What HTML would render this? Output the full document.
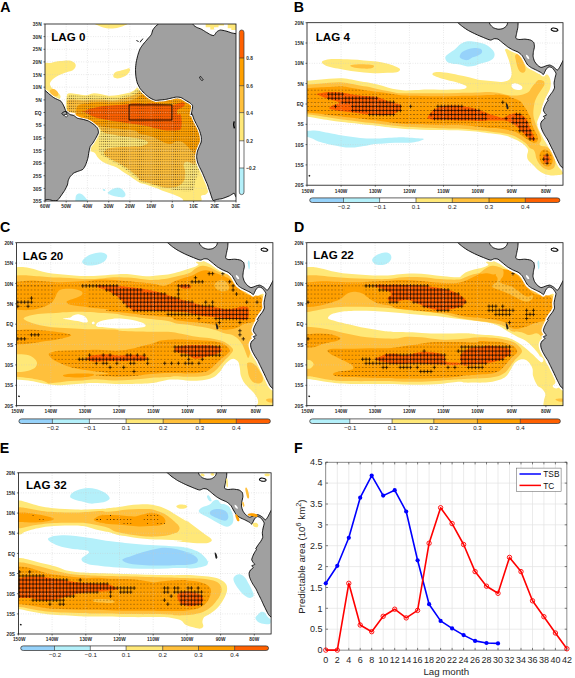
<!DOCTYPE html>
<html><head><meta charset="utf-8"><title>Figure</title>
<style>
html,body{margin:0;padding:0;background:#fff;}
body{width:575px;height:678px;overflow:hidden;font-family:"Liberation Sans",sans-serif;}
svg{display:block;}
svg text{font-family:"Liberation Sans",sans-serif;}
.tk{font-size:6px;font-weight:bold;fill:#2a2a2a;}
.cl{font-size:6.1px;fill:#1a1a1a;}
.lag{font-size:11.6px;font-weight:bold;fill:#000;}
.pl{font-size:14.2px;font-weight:bold;fill:#000;}
.ft{font-size:9px;fill:#262626;}
.lg{font-size:8.3px;fill:#111;}
.fl{font-size:9.7px;fill:#262626;}
.gr{stroke:#c8c8c8;stroke-width:0.5;stroke-dasharray:0.8 1.6;}
.land{fill:#a0a0a0;stroke:#000;stroke-width:0.9;stroke-linejoin:round;}
</style></head><body>
<svg width="575" height="678" viewBox="0 0 575 678">
<defs>
<pattern id="dotA" x="45" y="24" width="2.122" height="2.529" patternUnits="userSpaceOnUse"><rect x="0.55" y="0.75" width="1.0" height="1.0" fill="#3a2a10" fill-opacity="0.75"/></pattern>
</defs>
<rect x="0" y="0" width="575" height="678" fill="#ffffff"/>
<clipPath id="clipA"><rect x="45.0" y="24.0" width="191.0" height="177.0"/></clipPath>
<g clip-path="url(#clipA)">
<path d="M43.7 65.7 C44.9 60.6 48.2 63.7 51 62.9 C53.7 62.2 57 61.5 60.1 61.1 C63.1 60.7 66.8 60.2 69.2 60.5 C71.7 60.8 73.6 61.9 74.7 62.9 C75.8 63.9 75.9 65.3 75.6 66.6 C75.3 67.8 74.2 69.3 72.9 70.2 C71.5 71.1 69.5 71.3 67.4 72 C65.3 72.8 62.4 73.7 60.1 74.8 C57.8 75.8 55.4 77.1 53.7 78.4 C52 79.8 50.4 81.5 50 83 C49.6 84.5 50.6 86 51.3 87.2 C52.1 88.4 53.5 89.3 54.6 90.3 C55.8 91.3 57.3 92 58.3 93 C59.2 94.1 60.5 95.1 60.5 96.3 C60.5 97.6 59.8 100 58.3 100.4 C56.7 100.7 53.4 99.7 51 98.5 C48.5 97.3 44.9 98.5 43.7 93 C42.4 87.6 42.4 70.7 43.7 65.7 Z" fill="#ffe878"/>
<path d="M113.4 74.8 C113.7 73.9 114.6 72.7 115.8 72 C116.9 71.4 118.7 71.2 120.4 70.8 C122 70.3 124.3 69.7 125.8 69.3 C127.4 68.9 128.8 68.1 129.5 68.4 C130.2 68.7 130.2 70.1 129.8 71.1 C129.5 72.1 128.4 73.4 127.3 74.4 C126.2 75.4 124.7 76.3 123.1 77 C121.5 77.6 119.1 78.3 117.6 78.4 C116.1 78.5 114.7 78.1 114 77.5 C113.3 76.9 113.1 75.7 113.4 74.8 Z" fill="#ffe878"/>
<path d="M95.7 22.7 C91.3 23.3 98.4 25.5 100.3 26.4 C102.1 27.3 104.2 27.9 106.7 28.2 C109.1 28.5 112.3 28.5 114.9 28.2 C117.5 27.9 120.2 27.3 122.2 26.4 C124.2 25.5 131.2 23.3 126.7 22.7 C122.3 22.1 100.1 22.1 95.7 22.7 Z" fill="#ffe878"/>
<path d="M205.7 24 L205.7 27.3 L210.3 27.3 L210.3 29.5 L214 29.5 L214 27.3 L218.5 27.3 L218.5 25.5 L224 25.5 L224 24 Z" fill="#ffe878"/>
<path d="M227.7 24 L227.7 28.2 L231.3 28.2 L231.3 30 L236.1 30 L236.1 24 Z" fill="#ffe878"/>
<path d="M65.6 115 C65 114 65.8 108.7 65.9 105.8 C66.1 102.9 66.1 99.7 66.5 97.6 C66.9 95.5 66.6 94 68.3 93.4 C70 92.8 73.6 93.7 76.5 94 C79.4 94.3 82.9 95.3 85.7 95.2 C88.4 95.1 90.5 93.6 93 93.4 C95.4 93.2 97.5 93.6 100.3 94 C103 94.4 106.4 95.6 109.4 95.8 C112.4 95.9 115.5 95.3 118.5 94.9 C121.6 94.4 125.2 93.7 127.7 93 C130.1 92.4 131.6 91.7 133.1 90.9 C134.7 90 135.7 88.5 136.8 87.9 C137.9 87.3 138.2 87.2 139.5 87.2 C140.9 87.2 143.7 87.3 145 87.9 C146.3 88.6 145.1 90.1 147.3 91.2 C149.5 92.4 153.4 94.6 158.3 94.9 C163.1 95.2 170.4 92.7 176.5 93 C182.6 93.4 191.1 93 194.8 96.7 C198.4 100.4 197.5 110.9 198.4 115 C199.3 119 199.3 117.2 200.3 121 C201.2 124.7 203.9 131.6 203.9 137.4 C203.9 143.2 200.6 150.2 200.3 155.7 C200 161.1 201 165.7 202.1 170.3 C203.2 174.8 205.6 179.7 206.7 183 C207.7 186.4 208.6 188.5 208.5 190.4 C208.3 192.2 207 193.5 205.7 194.4 C204.5 195.3 202 194.7 201.2 195.8 C200.3 197 203.2 200.2 200.6 201.3 C198 202.4 188.8 202.7 185.7 202.2 C182.5 201.8 183.5 199.6 182 198.6 C180.5 197.5 178.7 196.7 176.5 195.8 C174.4 194.9 171.7 194 169.2 193.1 C166.8 192.2 164.3 191.3 161.9 190.4 C159.5 189.4 157 188.5 154.6 187.6 C152.2 186.7 149.7 185.6 147.3 184.9 C144.9 184.1 141.4 183.5 140 183 C138.6 182.6 139.8 182.9 138.6 182.1 C137.5 181.4 135 179.7 133.1 178.5 C131.3 177.3 129.5 176 127.7 174.8 C125.8 173.6 124 172.4 122.2 171.2 C120.4 170 118.8 168.6 116.7 167.5 C114.6 166.5 111.7 165.7 109.4 164.8 C107.1 163.9 104.9 163.2 103 162 C101.1 160.9 99.4 159.4 98.1 157.8 C96.7 156.3 96 153.9 94.8 152.9 C93.6 151.9 91.7 152.5 90.8 151.6 C89.9 150.7 88.6 149.8 89.3 147.4 C90 145.1 93.3 140.6 94.8 137.4 C96.3 134.2 100 131.6 98.4 128.3 C96.9 124.9 90.5 120 85.7 117.3 C80.8 114.6 72.6 112.2 69.2 111.8 C65.9 111.4 66.1 116 65.6 115 Z" fill="#ffe878"/>
<path d="M50 90.3 C50.4 89.4 52.5 88.8 53.7 89 C54.9 89.2 56.6 90.6 57.3 91.6 C58.1 92.6 58.6 94.1 58.3 94.9 C58 95.7 56.7 96.4 55.5 96.3 C54.4 96.3 52.2 95.5 51.3 94.5 C50.4 93.5 49.6 91.2 50 90.3 Z" fill="#ffc03c"/>
<path d="M67.4 115 C66.8 113.9 67.3 108.3 67.4 105.8 C67.5 103.4 66.5 101.4 67.8 100.4 C69 99.3 72 99.6 74.7 99.6 C77.4 99.7 80.8 100.5 83.8 100.5 C86.9 100.5 89.9 99.8 93 99.6 C96 99.5 98.7 99.5 102.1 99.6 C105.4 99.8 109.7 100.7 113 100.5 C116.4 100.4 119.1 99.5 122.2 98.7 C125.2 97.9 128.9 96.9 131.3 96 C133.7 95.1 135.3 94.1 136.8 93.2 C138.3 92.3 139.1 90.8 140.4 90.5 C141.8 90.2 143.9 91.2 145 91.6 C146.1 92 145.1 92.2 147.3 93 C149.5 93.9 153.4 96.4 158.3 96.7 C163.1 97 170.4 94.6 176.5 94.9 C182.6 95.2 191.1 95.2 194.8 98.5 C198.4 101.9 197.5 111.2 198.4 115 C199.3 118.7 199.5 117.2 200.3 121 C201 124.7 203.2 132.2 203 137.4 C202.9 142.6 200.4 148.6 199.3 152 C198.3 155.4 197.7 155.7 197 157.8 C196.2 160 195.7 163.9 194.8 164.8 C193.9 165.7 192.9 163.9 191.5 163.3 C190.1 162.8 187.9 161.3 186.6 161.5 C185.2 161.7 183.7 163.3 183.5 164.8 C183.2 166.2 184.7 168.1 184.9 170.3 C185.2 172.4 185.3 175.4 184.9 177.6 C184.5 179.7 183.8 181.5 182.4 183 C181 184.6 179 185.9 176.5 186.7 C174 187.5 170.4 187.9 167.4 187.8 C164.3 187.6 161.3 186.6 158.3 185.8 C155.2 185 152.2 184 149.1 183 C146.1 182.1 141.8 181.2 140 180.3 C138.2 179.4 139.8 178.8 138.6 177.6 C137.5 176.4 135 174.5 133.1 173 C131.3 171.5 129.8 170 127.7 168.4 C125.5 166.9 122.8 165.2 120.4 163.9 C117.9 162.5 115.3 161.4 113 160.2 C110.8 159 108.2 157.9 106.7 156.6 C105.1 155.3 103.8 153.7 103.9 152.4 C104 151.1 105.5 149.5 107.2 148.7 C108.9 147.9 110.5 147.8 114 147.4 C117.4 147.1 123.2 146.9 127.8 146.7 C132.5 146.5 138.3 146.7 141.7 146 C145.1 145.3 148.1 143.6 148.1 142.5 C148.1 141.4 145.1 140.1 141.7 139.2 C138.3 138.3 132.5 137.8 127.8 137 C123.2 136.3 118.1 135.7 114 134.8 C109.8 134 105.5 133.2 103 131.9 C100.5 130.7 101.7 129.8 98.8 127.3 C95.9 124.9 90.3 119.8 85.7 117.3 C81 114.8 74.1 112.6 71 112.2 C68 111.8 68 116 67.4 115 Z" fill="#ffc03c"/>
<path d="M75.6 115 C76.2 113.7 75.8 108.1 77.4 106.2 C79.1 104.2 82.8 103.9 85.7 103.3 C88.5 102.6 91.7 102.5 94.8 102.4 C97.8 102.2 100.3 102.4 103.9 102.4 C107.6 102.4 113 102.5 116.7 102.4 C120.4 102.2 122.8 102.1 125.8 101.4 C128.9 100.8 132.5 99.7 135 98.7 C137.4 97.7 138.8 96 140.4 95.2 C142.1 94.4 143.9 94 145 94 C146.1 93.9 145.1 94.1 147.3 94.9 C149.5 95.6 153.4 98.2 158.3 98.5 C163.1 98.8 170.4 96.4 176.5 96.7 C182.6 97 191.1 97.3 194.8 100.4 C198.4 103.4 197.5 111.5 198.4 115 C199.3 118.4 199.5 117.2 200.3 121 C201 124.7 203.1 132.7 203 137.4 C202.9 142.1 201 146.2 199.9 149.3 C198.8 152.4 197.9 155.7 196.6 156 C195.3 156.3 193.6 152.7 192 151.1 C190.5 149.5 189.1 148 187.5 146.5 C185.9 145 184.2 143.1 182.4 142.1 C180.5 141.2 178.4 140.7 176.5 141 C174.6 141.3 172.9 143.6 171 144 C169.2 144.3 167.7 143.8 165.6 143.1 C163.4 142.3 161 140.6 158.3 139.4 C155.5 138.2 152.2 136.6 149.1 135.7 C146.1 134.9 142.4 135 140 134.1 C137.6 133.2 137.6 131.2 135 130.5 C132.3 129.7 127.7 129.7 124 129.4 C120.4 129 116.7 128.7 113 128.3 C109.4 127.8 105.4 127.2 102.1 126.4 C98.7 125.7 95.7 124.8 93 123.7 C90.2 122.6 88.1 121.3 85.7 120 C83.2 118.8 80.3 117.4 78.3 116.4 C76.4 115.4 74.2 114.3 73.8 114 C73.3 113.8 75 116.3 75.6 115 Z" fill="#ffa000"/>
<path d="M83.5 112.2 C84.3 112.1 86 110.2 87.8 109.5 C89.7 108.7 92.1 108.2 94.8 107.7 C97.5 107.1 100.3 106.4 103.9 106 C107.6 105.6 112.7 105.4 116.7 105.1 C120.7 104.8 124.6 104.5 127.7 104.2 C130.7 103.9 132.1 103.3 135 103.3 C137.9 103.2 142.3 104 145 104 C147.7 104 148.1 103.2 151 103.3 C153.8 103.3 158.4 103.9 161.9 104.2 C165.4 104.5 169.2 105.3 172 105.1 C174.7 104.9 176.5 103.8 178.3 103.3 C180.2 102.8 181.8 101.9 182.9 102.2 C184 102.4 185.1 103.8 184.9 104.7 C184.7 105.6 183 106.7 181.6 107.7 C180.3 108.6 177.5 109.2 176.9 110.4 C176.3 111.6 177.4 114.4 178 115 C178.5 115.5 179.6 112.8 180.2 113.7 C180.8 114.5 181.5 117.8 181.6 120 C181.8 122.3 181.7 125.7 181.3 127.3 C180.9 129 181 129.6 179.3 130.1 C177.6 130.6 173.8 130.5 171 130.5 C168.3 130.4 165.2 130.3 162.6 129.9 C160.1 129.5 157.8 128.8 155.5 128.3 C153.2 127.7 151.4 127 148.8 126.4 C146.2 125.9 142.3 125.3 140 125 C137.7 124.6 137.6 124.7 135 124.2 C132.3 123.8 127.7 122.9 124 122.4 C120.4 121.9 116.7 121.7 113 121.1 C109.4 120.6 105.4 119.9 102.1 119.1 C98.7 118.3 95.5 117.4 93 116.4 C90.4 115.4 88.2 114.3 86.6 113.3 C84.9 112.3 83.4 110.5 82.9 110.4 C82.4 110.2 82.6 112.4 83.5 112.2 Z" fill="#ff6000"/>
<path d="M107.6 193.1 C107.3 192.2 109.1 191.2 110.3 190.4 C111.5 189.5 113.2 188.5 114.9 188.2 C116.5 187.8 118.8 187.6 120.4 188.2 C121.9 188.7 123.2 190.1 124 191.3 C124.9 192.4 125.6 193.9 125.5 194.9 C125.3 195.9 124.4 197 123.1 197.3 C121.8 197.6 119.4 197 117.6 196.7 C115.8 196.4 113.8 196.1 112.1 195.5 C110.5 194.9 107.9 193.9 107.6 193.1 Z" fill="#b4f0fa"/>
<path d="M75.6 197.7 C75.6 196.4 75.9 195.6 76.5 194.9 C77.1 194.2 78.2 193.6 79.3 193.6 C80.3 193.6 81.8 194.2 82.9 194.9 C84 195.6 85 197 85.7 198 C86.4 199.1 88.6 200.6 87.1 201.3 C85.6 202 78.4 202.8 76.5 202.2 C74.6 201.6 75.6 198.9 75.6 197.7 Z" fill="#b4f0fa"/>
<path d="M102.6 189.6 C102.7 189.3 103.8 188.8 104.3 188.9 C104.7 189 105.4 190 105.4 190.4 C105.3 190.7 104.4 191.2 103.9 191.1 C103.5 191 102.6 190 102.6 189.6 Z" fill="#b4f0fa"/>
<clipPath id="stA"><path d="M67.4 115 C66.8 113.9 67.3 108.9 67.4 105.8 C67.5 102.7 66.2 98.1 67.8 96.3 C69.3 94.6 73.5 95.2 76.5 95.2 C79.5 95.2 82.9 96.3 85.7 96.3 C88.4 96.3 90.2 95.2 93 95.2 C95.7 95.2 98.7 96 102.1 96.3 C105.4 96.6 109.7 97.1 113 97.1 C116.4 97.1 119.1 96.9 122.2 96.3 C125.2 95.7 128.9 94.6 131.3 93.4 C133.7 92.3 134.5 90.1 136.8 89.4 C139.1 88.7 143.3 89.1 145 89.4 C146.8 89.7 145.1 90.3 147.3 91.2 C149.5 92.1 153.4 94.6 158.3 94.9 C163.1 95.2 170.4 92.7 176.5 93 C182.6 93.4 191.1 93 194.8 96.7 C198.4 100.4 197.5 110.9 198.4 115 C199.3 119 199.5 117.2 200.3 121 C201 124.7 203.2 132.2 203 137.4 C202.9 142.6 200.2 147.7 199.3 152 C198.5 156.3 198.2 159.6 198.1 163 C198 166.3 199.3 168.7 198.8 172.1 C198.3 175.4 195.8 180 194.8 183 C193.8 186.1 195.1 189 193 190.4 C190.8 191.7 186.3 191.6 182 191.3 C177.7 191 171.3 189.3 167.4 188.5 C163.4 187.8 161.3 187.5 158.3 186.7 C155.2 185.9 152.2 184.8 149.1 184 C146.1 183.1 141.8 182.3 140 181.6 C138.2 180.8 139.8 180.4 138.6 179.4 C137.5 178.4 135 176.7 133.1 175.4 C131.3 174 129.8 172.8 127.7 171.2 C125.5 169.6 122.8 167.2 120.4 165.7 C117.9 164.2 115.3 163.4 113 162 C110.8 160.7 108.6 159.1 106.7 157.8 C104.7 156.6 102.5 156.2 101.2 154.7 C99.9 153.3 99.1 152.2 98.8 149.3 C98.5 146.4 99.3 141 99.3 137.4 C99.3 133.7 101.1 130.7 98.8 127.3 C96.5 124 90.3 119.8 85.7 117.3 C81 114.8 74.1 112.6 71 112.2 C68 111.8 68 116 67.4 115 Z"/></clipPath>
<rect x="45.0" y="24.0" width="191.0" height="177.0" fill="url(#dotA)" clip-path="url(#stA)"/>
<line x1="66.2" y1="24.0" x2="66.2" y2="201.0" class="gr"/>
<line x1="87.4" y1="24.0" x2="87.4" y2="201.0" class="gr"/>
<line x1="108.7" y1="24.0" x2="108.7" y2="201.0" class="gr"/>
<line x1="129.9" y1="24.0" x2="129.9" y2="201.0" class="gr"/>
<line x1="151.1" y1="24.0" x2="151.1" y2="201.0" class="gr"/>
<line x1="172.3" y1="24.0" x2="172.3" y2="201.0" class="gr"/>
<line x1="193.6" y1="24.0" x2="193.6" y2="201.0" class="gr"/>
<line x1="214.8" y1="24.0" x2="214.8" y2="201.0" class="gr"/>
<line x1="45.0" y1="36.6" x2="236.0" y2="36.6" class="gr"/>
<line x1="45.0" y1="49.3" x2="236.0" y2="49.3" class="gr"/>
<line x1="45.0" y1="61.9" x2="236.0" y2="61.9" class="gr"/>
<line x1="45.0" y1="74.6" x2="236.0" y2="74.6" class="gr"/>
<line x1="45.0" y1="87.2" x2="236.0" y2="87.2" class="gr"/>
<line x1="45.0" y1="99.9" x2="236.0" y2="99.9" class="gr"/>
<line x1="45.0" y1="112.5" x2="236.0" y2="112.5" class="gr"/>
<line x1="45.0" y1="125.1" x2="236.0" y2="125.1" class="gr"/>
<line x1="45.0" y1="137.8" x2="236.0" y2="137.8" class="gr"/>
<line x1="45.0" y1="150.4" x2="236.0" y2="150.4" class="gr"/>
<line x1="45.0" y1="163.1" x2="236.0" y2="163.1" class="gr"/>
<line x1="45.0" y1="175.7" x2="236.0" y2="175.7" class="gr"/>
<line x1="45.0" y1="188.4" x2="236.0" y2="188.4" class="gr"/>
<path d="M43.7 89.4 C44.5 89.3 44.4 89.9 44.9 90.3 C45.5 90.8 48.3 93.2 49.1 94 C50 94.7 52.9 97.1 53.7 97.6 C54.5 98.2 56.6 99.1 57.3 99.4 C58.1 99.8 60.4 100.6 61 101.3 C61.6 101.9 63.3 104.9 63.7 105.8 C64.2 106.7 65.2 109.6 65.6 110.4 C65.9 111.2 67.2 113.6 67 114 C66.8 114.5 63.9 115.2 63.4 115.1 C62.9 115 61.8 113.7 61.9 113.3 C62 112.9 64.1 111.6 64.7 111.5 C65.2 111.4 66.8 111.9 67.4 112.2 C67.9 112.5 69.5 114.2 70.1 114.6 C70.8 114.9 73.1 115.1 73.8 115.5 C74.5 115.8 76.6 117.9 77.4 118.2 C78.3 118.6 80.9 118.9 82 119.1 C83.1 119.4 87.2 120.4 88.4 121 C89.6 121.5 93 123.9 93.9 124.6 C94.8 125.3 97.1 127.4 97.5 128.3 C98 129.1 98.6 131.8 98.4 132.8 C98.3 133.8 96.2 137.3 95.7 138.3 C95.1 139.3 93.5 142 93 142.9 C92.4 143.7 90.6 145.6 90.2 146.5 C89.8 147.4 89.2 150.8 88.9 152 C88.7 153.2 88.2 157.1 87.8 158.4 C87.5 159.7 86.1 163.7 85.7 164.8 C85.2 165.9 83.6 168.7 82.9 169.3 C82.2 170 79.3 170.8 78.3 171.2 C77.4 171.5 74.6 172.5 73.8 173 C73 173.6 70.7 175.9 70.1 176.7 C69.6 177.4 68.6 179.5 68.3 180.3 C68 181.1 67.8 183.9 67.4 184.9 C67 185.9 65.3 189.3 64.7 190.4 C64 191.4 61.7 194.8 61 195.8 C60.3 196.8 58.1 199.9 57.3 200.4 C56.6 200.9 54.6 200.9 53.7 200.8 C52.8 200.7 49.2 199.5 48.2 199.5 C47.2 199.5 44.1 200.2 43.7 200.8 C43.2 201.3 44.4 204.5 43.7 205 C42.9 205.4 37.1 216.3 36.3 205 C35.6 193.6 35.6 103.3 36.3 91.7 C37.1 80.2 42.8 89.5 43.7 89.4 Z" fill="none" stroke="#fff" stroke-width="2.6" stroke-linejoin="round"/>
<path d="M43.7 89.4 C44.5 89.3 44.4 89.9 44.9 90.3 C45.5 90.8 48.3 93.2 49.1 94 C50 94.7 52.9 97.1 53.7 97.6 C54.5 98.2 56.6 99.1 57.3 99.4 C58.1 99.8 60.4 100.6 61 101.3 C61.6 101.9 63.3 104.9 63.7 105.8 C64.2 106.7 65.2 109.6 65.6 110.4 C65.9 111.2 67.2 113.6 67 114 C66.8 114.5 63.9 115.2 63.4 115.1 C62.9 115 61.8 113.7 61.9 113.3 C62 112.9 64.1 111.6 64.7 111.5 C65.2 111.4 66.8 111.9 67.4 112.2 C67.9 112.5 69.5 114.2 70.1 114.6 C70.8 114.9 73.1 115.1 73.8 115.5 C74.5 115.8 76.6 117.9 77.4 118.2 C78.3 118.6 80.9 118.9 82 119.1 C83.1 119.4 87.2 120.4 88.4 121 C89.6 121.5 93 123.9 93.9 124.6 C94.8 125.3 97.1 127.4 97.5 128.3 C98 129.1 98.6 131.8 98.4 132.8 C98.3 133.8 96.2 137.3 95.7 138.3 C95.1 139.3 93.5 142 93 142.9 C92.4 143.7 90.6 145.6 90.2 146.5 C89.8 147.4 89.2 150.8 88.9 152 C88.7 153.2 88.2 157.1 87.8 158.4 C87.5 159.7 86.1 163.7 85.7 164.8 C85.2 165.9 83.6 168.7 82.9 169.3 C82.2 170 79.3 170.8 78.3 171.2 C77.4 171.5 74.6 172.5 73.8 173 C73 173.6 70.7 175.9 70.1 176.7 C69.6 177.4 68.6 179.5 68.3 180.3 C68 181.1 67.8 183.9 67.4 184.9 C67 185.9 65.3 189.3 64.7 190.4 C64 191.4 61.7 194.8 61 195.8 C60.3 196.8 58.1 199.9 57.3 200.4 C56.6 200.9 54.6 200.9 53.7 200.8 C52.8 200.7 49.2 199.5 48.2 199.5 C47.2 199.5 44.1 200.2 43.7 200.8 C43.2 201.3 44.4 204.5 43.7 205 C42.9 205.4 37.1 216.3 36.3 205 C35.6 193.6 35.6 103.3 36.3 91.7 C37.1 80.2 42.8 89.5 43.7 89.4 Z" class="land"/>
<path d="M158.3 22.7 C154.8 23 158.5 23.7 158.3 24 C158 24.4 156.1 25.8 155.5 26.4 C155 27 153.2 29.2 152.8 30 C152.4 30.9 151.8 33.8 151.3 34.6 C150.9 35.4 148.8 37.6 148.2 38.3 C147.6 39 146 41 145.5 41.5 C145 42.1 143.7 43.5 143.3 44.1 C142.8 44.7 141.3 46.8 140.9 47.4 C140.5 48 139.8 49.3 139.5 50.1 C139.2 51 138 54.4 137.7 55.6 C137.4 56.8 136.5 60.6 136.2 62 C136 63.4 135.5 67.8 135.5 69.3 C135.5 70.8 135.7 75.2 135.9 76.6 C136.1 78 136.9 81.8 137.3 83 C137.8 84.2 139.5 87.6 140.1 88.5 C140.7 89.4 142.9 91.8 143.2 92.1 C143.4 92.4 142.4 91.3 142.7 91.6 C143.1 91.9 145.6 94.5 146.4 95.2 C147.2 95.9 150 98 151 98.5 C151.9 99 154.6 100.2 155.5 100.4 C156.4 100.5 159.1 100.1 160.1 100 C161.1 99.9 164.5 99.6 165.6 99.4 C166.7 99.3 169.9 98.4 171 98.2 C172.1 97.9 175.5 97.1 176.5 97.1 C177.5 97 180.2 97.3 181.1 97.6 C182 97.9 184.7 99.8 185.7 100.4 C186.6 100.9 189.5 102.5 190.2 103.1 C190.9 103.6 192.4 105.1 192.6 105.8 C192.8 106.6 192.2 109.5 192 110.4 C191.9 111.3 191.1 114.6 191.1 115 C191.1 115.3 191.8 113.2 192 113.7 C192.3 114.1 193.4 118 193.9 119.1 C194.3 120.2 196.1 123.5 196.6 124.6 C197.2 125.7 198.9 128.9 199.3 130.1 C199.8 131.3 201 135.3 201.2 136.5 C201.4 137.7 201.4 141 201.2 142 C201 143 199.7 145.6 199.3 146.5 C199 147.4 197.8 150.1 197.5 151.1 C197.2 152.1 196.6 155.5 196.6 156.6 C196.6 157.7 197.2 161 197.5 162 C197.8 163 198.9 165.6 199.3 166.6 C199.8 167.6 201.5 170.9 202.1 172.1 C202.6 173.3 204.3 177.2 204.8 178.5 C205.4 179.8 207.1 183.7 207.6 184.9 C208 186.1 209 189.3 209.4 190.4 C209.8 191.4 210.9 194.8 211.2 195.8 C211.6 196.8 212.5 200 213 200.4 C213.6 200.8 215.8 199.7 216.7 199.5 C217.6 199.3 220.9 198.9 222.2 198.6 C223.5 198.2 228.3 196.4 229.5 195.8 C230.7 195.3 233.2 193.5 234 193.1 C234.9 192.7 236.9 204 237.7 192.2 C238.5 180.3 242.3 90.6 242.3 74.8 C242.3 59 238.3 38 237.7 33.9 C237.1 29.8 236.5 33.8 235.9 33.7 C235.2 33.6 232.3 33.1 231.3 32.8 C230.3 32.5 226.9 31.2 225.8 31 C224.7 30.7 221.3 30 220.4 30 C219.4 30.1 217.3 31.3 216.7 31.9 C216.1 32.4 214.6 35.2 214 35.5 C213.3 35.8 211.1 35 210.3 34.6 C209.5 34.2 206.7 32.4 205.7 31.9 C204.8 31.3 202.1 29.6 201.2 29.1 C200.3 28.7 197.3 27.7 196.6 27.3 C195.9 26.9 194.2 25.8 193.9 25.5 C193.5 25.1 193 24.4 193 24 C192.9 23.7 196.4 22 193 21.8 C189.5 21.7 161.7 22.5 158.3 22.7 Z" fill="none" stroke="#fff" stroke-width="3.0" stroke-linejoin="round"/>
<path d="M158.3 22.7 C154.8 23 158.5 23.7 158.3 24 C158 24.4 156.1 25.8 155.5 26.4 C155 27 153.2 29.2 152.8 30 C152.4 30.9 151.8 33.8 151.3 34.6 C150.9 35.4 148.8 37.6 148.2 38.3 C147.6 39 146 41 145.5 41.5 C145 42.1 143.7 43.5 143.3 44.1 C142.8 44.7 141.3 46.8 140.9 47.4 C140.5 48 139.8 49.3 139.5 50.1 C139.2 51 138 54.4 137.7 55.6 C137.4 56.8 136.5 60.6 136.2 62 C136 63.4 135.5 67.8 135.5 69.3 C135.5 70.8 135.7 75.2 135.9 76.6 C136.1 78 136.9 81.8 137.3 83 C137.8 84.2 139.5 87.6 140.1 88.5 C140.7 89.4 142.9 91.8 143.2 92.1 C143.4 92.4 142.4 91.3 142.7 91.6 C143.1 91.9 145.6 94.5 146.4 95.2 C147.2 95.9 150 98 151 98.5 C151.9 99 154.6 100.2 155.5 100.4 C156.4 100.5 159.1 100.1 160.1 100 C161.1 99.9 164.5 99.6 165.6 99.4 C166.7 99.3 169.9 98.4 171 98.2 C172.1 97.9 175.5 97.1 176.5 97.1 C177.5 97 180.2 97.3 181.1 97.6 C182 97.9 184.7 99.8 185.7 100.4 C186.6 100.9 189.5 102.5 190.2 103.1 C190.9 103.6 192.4 105.1 192.6 105.8 C192.8 106.6 192.2 109.5 192 110.4 C191.9 111.3 191.1 114.6 191.1 115 C191.1 115.3 191.8 113.2 192 113.7 C192.3 114.1 193.4 118 193.9 119.1 C194.3 120.2 196.1 123.5 196.6 124.6 C197.2 125.7 198.9 128.9 199.3 130.1 C199.8 131.3 201 135.3 201.2 136.5 C201.4 137.7 201.4 141 201.2 142 C201 143 199.7 145.6 199.3 146.5 C199 147.4 197.8 150.1 197.5 151.1 C197.2 152.1 196.6 155.5 196.6 156.6 C196.6 157.7 197.2 161 197.5 162 C197.8 163 198.9 165.6 199.3 166.6 C199.8 167.6 201.5 170.9 202.1 172.1 C202.6 173.3 204.3 177.2 204.8 178.5 C205.4 179.8 207.1 183.7 207.6 184.9 C208 186.1 209 189.3 209.4 190.4 C209.8 191.4 210.9 194.8 211.2 195.8 C211.6 196.8 212.5 200 213 200.4 C213.6 200.8 215.8 199.7 216.7 199.5 C217.6 199.3 220.9 198.9 222.2 198.6 C223.5 198.2 228.3 196.4 229.5 195.8 C230.7 195.3 233.2 193.5 234 193.1 C234.9 192.7 236.9 204 237.7 192.2 C238.5 180.3 242.3 90.6 242.3 74.8 C242.3 59 238.3 38 237.7 33.9 C237.1 29.8 236.5 33.8 235.9 33.7 C235.2 33.6 232.3 33.1 231.3 32.8 C230.3 32.5 226.9 31.2 225.8 31 C224.7 30.7 221.3 30 220.4 30 C219.4 30.1 217.3 31.3 216.7 31.9 C216.1 32.4 214.6 35.2 214 35.5 C213.3 35.8 211.1 35 210.3 34.6 C209.5 34.2 206.7 32.4 205.7 31.9 C204.8 31.3 202.1 29.6 201.2 29.1 C200.3 28.7 197.3 27.7 196.6 27.3 C195.9 26.9 194.2 25.8 193.9 25.5 C193.5 25.1 193 24.4 193 24 C192.9 23.7 196.4 22 193 21.8 C189.5 21.7 161.7 22.5 158.3 22.7 Z" class="land"/>
<path d="M199.5 77 C199.6 76.5 200.6 76.4 201 76.6 C201.4 76.9 201.7 77.9 202.1 78.4 C202.5 78.9 203.2 79.2 203.2 79.5 C203.2 79.9 202.5 80.6 202.1 80.6 C201.7 80.6 201.1 80.1 200.6 79.5 C200.2 78.9 199.5 77.5 199.5 77 Z" fill="none" stroke="#000" stroke-width="0.7"/>
<path d="M234.2 121.3 C234.1 121.9 233.7 123.5 233.7 124.6 C233.7 125.8 234.3 127.7 234.4 128.3" fill="none" stroke="#000" stroke-width="1.4"/>
<path d="M136.4 40.5 L138.6 41.5" fill="none" stroke="#000" stroke-width="0.9"/>
<path d="M140.1 42.3 L141.5 40.1" fill="none" stroke="#000" stroke-width="0.9"/>
<path d="M141.5 40.5 L142.9 38.6" fill="none" stroke="#000" stroke-width="0.9"/>
<path d="M64.5 115.1 C64.6 114.7 65.2 114.4 65.7 114.4 C66.3 114.4 67.5 114.9 67.8 115.3 C68 115.7 67.5 116.5 67 116.8 C66.6 117 65.6 116.8 65.2 116.6 C64.8 116.3 64.4 115.5 64.5 115.1 Z" fill="#fff" stroke="#000" stroke-width="0.6"/>
</g>
<rect x="129.1" y="104.9" width="42.8" height="15.1" fill="none" stroke="#000" stroke-width="0.9"/>
<rect x="45.0" y="24.0" width="191.0" height="177.0" fill="none" stroke="#111" stroke-width="0.8"/>
<text transform="translate(41.6 26.1) scale(0.8 1)" class="tk" text-anchor="end">35N</text>
<line x1="43.5" y1="24" x2="45.0" y2="24" stroke="#111" stroke-width="0.6"/>
<text transform="translate(41.6 38.7) scale(0.8 1)" class="tk" text-anchor="end">30N</text>
<line x1="43.5" y1="36.6" x2="45.0" y2="36.6" stroke="#111" stroke-width="0.6"/>
<text transform="translate(41.6 51.4) scale(0.8 1)" class="tk" text-anchor="end">25N</text>
<line x1="43.5" y1="49.3" x2="45.0" y2="49.3" stroke="#111" stroke-width="0.6"/>
<text transform="translate(41.6 64) scale(0.8 1)" class="tk" text-anchor="end">20N</text>
<line x1="43.5" y1="61.9" x2="45.0" y2="61.9" stroke="#111" stroke-width="0.6"/>
<text transform="translate(41.6 76.7) scale(0.8 1)" class="tk" text-anchor="end">15N</text>
<line x1="43.5" y1="74.6" x2="45.0" y2="74.6" stroke="#111" stroke-width="0.6"/>
<text transform="translate(41.6 89.3) scale(0.8 1)" class="tk" text-anchor="end">10N</text>
<line x1="43.5" y1="87.2" x2="45.0" y2="87.2" stroke="#111" stroke-width="0.6"/>
<text transform="translate(41.6 102) scale(0.8 1)" class="tk" text-anchor="end">5N</text>
<line x1="43.5" y1="99.9" x2="45.0" y2="99.9" stroke="#111" stroke-width="0.6"/>
<text transform="translate(41.6 114.6) scale(0.8 1)" class="tk" text-anchor="end">EQ</text>
<line x1="43.5" y1="112.5" x2="45.0" y2="112.5" stroke="#111" stroke-width="0.6"/>
<text transform="translate(41.6 127.2) scale(0.8 1)" class="tk" text-anchor="end">5S</text>
<line x1="43.5" y1="125.1" x2="45.0" y2="125.1" stroke="#111" stroke-width="0.6"/>
<text transform="translate(41.6 139.9) scale(0.8 1)" class="tk" text-anchor="end">10S</text>
<line x1="43.5" y1="137.8" x2="45.0" y2="137.8" stroke="#111" stroke-width="0.6"/>
<text transform="translate(41.6 152.5) scale(0.8 1)" class="tk" text-anchor="end">15S</text>
<line x1="43.5" y1="150.4" x2="45.0" y2="150.4" stroke="#111" stroke-width="0.6"/>
<text transform="translate(41.6 165.2) scale(0.8 1)" class="tk" text-anchor="end">20S</text>
<line x1="43.5" y1="163.1" x2="45.0" y2="163.1" stroke="#111" stroke-width="0.6"/>
<text transform="translate(41.6 177.8) scale(0.8 1)" class="tk" text-anchor="end">25S</text>
<line x1="43.5" y1="175.7" x2="45.0" y2="175.7" stroke="#111" stroke-width="0.6"/>
<text transform="translate(41.6 190.5) scale(0.8 1)" class="tk" text-anchor="end">30S</text>
<line x1="43.5" y1="188.4" x2="45.0" y2="188.4" stroke="#111" stroke-width="0.6"/>
<text transform="translate(41.6 203.1) scale(0.8 1)" class="tk" text-anchor="end">35S</text>
<line x1="43.5" y1="201" x2="45.0" y2="201" stroke="#111" stroke-width="0.6"/>
<text transform="translate(45 208) scale(0.8 1)" class="tk" text-anchor="middle">60W</text>
<line x1="45" y1="201.0" x2="45" y2="202.5" stroke="#111" stroke-width="0.6"/>
<text transform="translate(66.2 208) scale(0.8 1)" class="tk" text-anchor="middle">50W</text>
<line x1="66.2" y1="201.0" x2="66.2" y2="202.5" stroke="#111" stroke-width="0.6"/>
<text transform="translate(87.4 208) scale(0.8 1)" class="tk" text-anchor="middle">40W</text>
<line x1="87.4" y1="201.0" x2="87.4" y2="202.5" stroke="#111" stroke-width="0.6"/>
<text transform="translate(108.7 208) scale(0.8 1)" class="tk" text-anchor="middle">30W</text>
<line x1="108.7" y1="201.0" x2="108.7" y2="202.5" stroke="#111" stroke-width="0.6"/>
<text transform="translate(129.9 208) scale(0.8 1)" class="tk" text-anchor="middle">20W</text>
<line x1="129.9" y1="201.0" x2="129.9" y2="202.5" stroke="#111" stroke-width="0.6"/>
<text transform="translate(151.1 208) scale(0.8 1)" class="tk" text-anchor="middle">10W</text>
<line x1="151.1" y1="201.0" x2="151.1" y2="202.5" stroke="#111" stroke-width="0.6"/>
<text transform="translate(172.3 208) scale(0.8 1)" class="tk" text-anchor="middle">0</text>
<line x1="172.3" y1="201.0" x2="172.3" y2="202.5" stroke="#111" stroke-width="0.6"/>
<text transform="translate(193.6 208) scale(0.8 1)" class="tk" text-anchor="middle">10E</text>
<line x1="193.6" y1="201.0" x2="193.6" y2="202.5" stroke="#111" stroke-width="0.6"/>
<text transform="translate(214.8 208) scale(0.8 1)" class="tk" text-anchor="middle">20E</text>
<line x1="214.8" y1="201.0" x2="214.8" y2="202.5" stroke="#111" stroke-width="0.6"/>
<text transform="translate(236 208) scale(0.8 1)" class="tk" text-anchor="middle">30E</text>
<line x1="236" y1="201.0" x2="236" y2="202.5" stroke="#111" stroke-width="0.6"/>
<text x="51.2" y="41.1" class="lag">LAG 0</text>
<text x="0.2" y="12.3" class="pl">A</text>
<clipPath id="cbA"><rect x="239.3" y="30" width="4.699999999999989" height="164.6" rx="2.2" ry="2.5"/></clipPath>
<g clip-path="url(#cbA)">
<rect x="239.3" y="30" width="4.699999999999989" height="28" fill="#ff6000"/>
<rect x="239.3" y="58" width="4.699999999999989" height="27.700000000000003" fill="#ffa000"/>
<rect x="239.3" y="85.7" width="4.699999999999989" height="26.89999999999999" fill="#ffc03c"/>
<rect x="239.3" y="112.6" width="4.699999999999989" height="28.200000000000017" fill="#ffe878"/>
<rect x="239.3" y="140.8" width="4.699999999999989" height="27.19999999999999" fill="#ffffff"/>
<rect x="239.3" y="168" width="4.699999999999989" height="26.599999999999994" fill="#b4f0fa"/>
</g>
<rect x="239.3" y="30" width="4.699999999999989" height="164.6" rx="2.2" ry="2.5" fill="none" stroke="#333" stroke-width="0.7"/>
<line x1="239.3" y1="58" x2="244.0" y2="58" stroke="#222" stroke-width="0.6"/>
<text transform="translate(246.2 60.1) scale(0.8 1)" class="tk">0.8</text>
<line x1="239.3" y1="85.7" x2="244.0" y2="85.7" stroke="#222" stroke-width="0.6"/>
<text transform="translate(246.2 87.8) scale(0.8 1)" class="tk">0.6</text>
<line x1="239.3" y1="112.6" x2="244.0" y2="112.6" stroke="#222" stroke-width="0.6"/>
<text transform="translate(246.2 114.7) scale(0.8 1)" class="tk">0.4</text>
<line x1="239.3" y1="140.8" x2="244.0" y2="140.8" stroke="#222" stroke-width="0.6"/>
<text transform="translate(246.2 142.9) scale(0.8 1)" class="tk">0.2</text>
<line x1="239.3" y1="168" x2="244.0" y2="168" stroke="#222" stroke-width="0.6"/>
<text transform="translate(246.2 170.1) scale(0.8 1)" class="tk">−0.2</text>
<rect x="325.8" y="462.2" width="241.1" height="187.9" fill="#fff"/>
<line x1="337.3" y1="462.2" x2="337.3" y2="650.1" stroke="#e2e2e2" stroke-width="0.7"/>
<line x1="348.8" y1="462.2" x2="348.8" y2="650.1" stroke="#e2e2e2" stroke-width="0.7"/>
<line x1="360.2" y1="462.2" x2="360.2" y2="650.1" stroke="#e2e2e2" stroke-width="0.7"/>
<line x1="371.7" y1="462.2" x2="371.7" y2="650.1" stroke="#e2e2e2" stroke-width="0.7"/>
<line x1="383.2" y1="462.2" x2="383.2" y2="650.1" stroke="#e2e2e2" stroke-width="0.7"/>
<line x1="394.7" y1="462.2" x2="394.7" y2="650.1" stroke="#e2e2e2" stroke-width="0.7"/>
<line x1="406.2" y1="462.2" x2="406.2" y2="650.1" stroke="#e2e2e2" stroke-width="0.7"/>
<line x1="417.6" y1="462.2" x2="417.6" y2="650.1" stroke="#e2e2e2" stroke-width="0.7"/>
<line x1="429.1" y1="462.2" x2="429.1" y2="650.1" stroke="#e2e2e2" stroke-width="0.7"/>
<line x1="440.6" y1="462.2" x2="440.6" y2="650.1" stroke="#e2e2e2" stroke-width="0.7"/>
<line x1="452.1" y1="462.2" x2="452.1" y2="650.1" stroke="#e2e2e2" stroke-width="0.7"/>
<line x1="463.6" y1="462.2" x2="463.6" y2="650.1" stroke="#e2e2e2" stroke-width="0.7"/>
<line x1="475.1" y1="462.2" x2="475.1" y2="650.1" stroke="#e2e2e2" stroke-width="0.7"/>
<line x1="486.5" y1="462.2" x2="486.5" y2="650.1" stroke="#e2e2e2" stroke-width="0.7"/>
<line x1="498" y1="462.2" x2="498" y2="650.1" stroke="#e2e2e2" stroke-width="0.7"/>
<line x1="509.5" y1="462.2" x2="509.5" y2="650.1" stroke="#e2e2e2" stroke-width="0.7"/>
<line x1="521" y1="462.2" x2="521" y2="650.1" stroke="#e2e2e2" stroke-width="0.7"/>
<line x1="532.5" y1="462.2" x2="532.5" y2="650.1" stroke="#e2e2e2" stroke-width="0.7"/>
<line x1="543.9" y1="462.2" x2="543.9" y2="650.1" stroke="#e2e2e2" stroke-width="0.7"/>
<line x1="555.4" y1="462.2" x2="555.4" y2="650.1" stroke="#e2e2e2" stroke-width="0.7"/>
<line x1="325.8" y1="629.2" x2="566.9" y2="629.2" stroke="#e2e2e2" stroke-width="0.7"/>
<line x1="325.8" y1="608.3" x2="566.9" y2="608.3" stroke="#e2e2e2" stroke-width="0.7"/>
<line x1="325.8" y1="587.5" x2="566.9" y2="587.5" stroke="#e2e2e2" stroke-width="0.7"/>
<line x1="325.8" y1="566.6" x2="566.9" y2="566.6" stroke="#e2e2e2" stroke-width="0.7"/>
<line x1="325.8" y1="545.7" x2="566.9" y2="545.7" stroke="#e2e2e2" stroke-width="0.7"/>
<line x1="325.8" y1="524.8" x2="566.9" y2="524.8" stroke="#e2e2e2" stroke-width="0.7"/>
<line x1="325.8" y1="504" x2="566.9" y2="504" stroke="#e2e2e2" stroke-width="0.7"/>
<line x1="325.8" y1="483.1" x2="566.9" y2="483.1" stroke="#e2e2e2" stroke-width="0.7"/>
<rect x="325.8" y="462.2" width="241.1" height="187.9" fill="none" stroke="#404040" stroke-width="0.6"/>
<line x1="325.8" y1="650.1" x2="325.8" y2="647.9" stroke="#333" stroke-width="0.6"/>
<line x1="325.8" y1="462.2" x2="325.8" y2="464.4" stroke="#333" stroke-width="0.6"/>
<text x="325.8" y="662.7" class="ft" text-anchor="middle">0</text>
<line x1="337.3" y1="650.1" x2="337.3" y2="647.9" stroke="#333" stroke-width="0.6"/>
<line x1="337.3" y1="462.2" x2="337.3" y2="464.4" stroke="#333" stroke-width="0.6"/>
<text x="337.3" y="662.7" class="ft" text-anchor="middle">2</text>
<line x1="348.8" y1="650.1" x2="348.8" y2="647.9" stroke="#333" stroke-width="0.6"/>
<line x1="348.8" y1="462.2" x2="348.8" y2="464.4" stroke="#333" stroke-width="0.6"/>
<text x="348.8" y="662.7" class="ft" text-anchor="middle">4</text>
<line x1="360.2" y1="650.1" x2="360.2" y2="647.9" stroke="#333" stroke-width="0.6"/>
<line x1="360.2" y1="462.2" x2="360.2" y2="464.4" stroke="#333" stroke-width="0.6"/>
<text x="360.2" y="662.7" class="ft" text-anchor="middle">6</text>
<line x1="371.7" y1="650.1" x2="371.7" y2="647.9" stroke="#333" stroke-width="0.6"/>
<line x1="371.7" y1="462.2" x2="371.7" y2="464.4" stroke="#333" stroke-width="0.6"/>
<text x="371.7" y="662.7" class="ft" text-anchor="middle">8</text>
<line x1="383.2" y1="650.1" x2="383.2" y2="647.9" stroke="#333" stroke-width="0.6"/>
<line x1="383.2" y1="462.2" x2="383.2" y2="464.4" stroke="#333" stroke-width="0.6"/>
<text x="383.2" y="662.7" class="ft" text-anchor="middle">10</text>
<line x1="394.7" y1="650.1" x2="394.7" y2="647.9" stroke="#333" stroke-width="0.6"/>
<line x1="394.7" y1="462.2" x2="394.7" y2="464.4" stroke="#333" stroke-width="0.6"/>
<text x="394.7" y="662.7" class="ft" text-anchor="middle">12</text>
<line x1="406.2" y1="650.1" x2="406.2" y2="647.9" stroke="#333" stroke-width="0.6"/>
<line x1="406.2" y1="462.2" x2="406.2" y2="464.4" stroke="#333" stroke-width="0.6"/>
<text x="406.2" y="662.7" class="ft" text-anchor="middle">14</text>
<line x1="417.6" y1="650.1" x2="417.6" y2="647.9" stroke="#333" stroke-width="0.6"/>
<line x1="417.6" y1="462.2" x2="417.6" y2="464.4" stroke="#333" stroke-width="0.6"/>
<text x="417.6" y="662.7" class="ft" text-anchor="middle">16</text>
<line x1="429.1" y1="650.1" x2="429.1" y2="647.9" stroke="#333" stroke-width="0.6"/>
<line x1="429.1" y1="462.2" x2="429.1" y2="464.4" stroke="#333" stroke-width="0.6"/>
<text x="429.1" y="662.7" class="ft" text-anchor="middle">18</text>
<line x1="440.6" y1="650.1" x2="440.6" y2="647.9" stroke="#333" stroke-width="0.6"/>
<line x1="440.6" y1="462.2" x2="440.6" y2="464.4" stroke="#333" stroke-width="0.6"/>
<text x="440.6" y="662.7" class="ft" text-anchor="middle">20</text>
<line x1="452.1" y1="650.1" x2="452.1" y2="647.9" stroke="#333" stroke-width="0.6"/>
<line x1="452.1" y1="462.2" x2="452.1" y2="464.4" stroke="#333" stroke-width="0.6"/>
<text x="452.1" y="662.7" class="ft" text-anchor="middle">22</text>
<line x1="463.6" y1="650.1" x2="463.6" y2="647.9" stroke="#333" stroke-width="0.6"/>
<line x1="463.6" y1="462.2" x2="463.6" y2="464.4" stroke="#333" stroke-width="0.6"/>
<text x="463.6" y="662.7" class="ft" text-anchor="middle">24</text>
<line x1="475.1" y1="650.1" x2="475.1" y2="647.9" stroke="#333" stroke-width="0.6"/>
<line x1="475.1" y1="462.2" x2="475.1" y2="464.4" stroke="#333" stroke-width="0.6"/>
<text x="475.1" y="662.7" class="ft" text-anchor="middle">26</text>
<line x1="486.5" y1="650.1" x2="486.5" y2="647.9" stroke="#333" stroke-width="0.6"/>
<line x1="486.5" y1="462.2" x2="486.5" y2="464.4" stroke="#333" stroke-width="0.6"/>
<text x="486.5" y="662.7" class="ft" text-anchor="middle">28</text>
<line x1="498" y1="650.1" x2="498" y2="647.9" stroke="#333" stroke-width="0.6"/>
<line x1="498" y1="462.2" x2="498" y2="464.4" stroke="#333" stroke-width="0.6"/>
<text x="498" y="662.7" class="ft" text-anchor="middle">30</text>
<line x1="509.5" y1="650.1" x2="509.5" y2="647.9" stroke="#333" stroke-width="0.6"/>
<line x1="509.5" y1="462.2" x2="509.5" y2="464.4" stroke="#333" stroke-width="0.6"/>
<text x="509.5" y="662.7" class="ft" text-anchor="middle">32</text>
<line x1="521" y1="650.1" x2="521" y2="647.9" stroke="#333" stroke-width="0.6"/>
<line x1="521" y1="462.2" x2="521" y2="464.4" stroke="#333" stroke-width="0.6"/>
<text x="521" y="662.7" class="ft" text-anchor="middle">34</text>
<line x1="532.5" y1="650.1" x2="532.5" y2="647.9" stroke="#333" stroke-width="0.6"/>
<line x1="532.5" y1="462.2" x2="532.5" y2="464.4" stroke="#333" stroke-width="0.6"/>
<text x="532.5" y="662.7" class="ft" text-anchor="middle">36</text>
<line x1="543.9" y1="650.1" x2="543.9" y2="647.9" stroke="#333" stroke-width="0.6"/>
<line x1="543.9" y1="462.2" x2="543.9" y2="464.4" stroke="#333" stroke-width="0.6"/>
<text x="543.9" y="662.7" class="ft" text-anchor="middle">38</text>
<line x1="555.4" y1="650.1" x2="555.4" y2="647.9" stroke="#333" stroke-width="0.6"/>
<line x1="555.4" y1="462.2" x2="555.4" y2="464.4" stroke="#333" stroke-width="0.6"/>
<text x="555.4" y="662.7" class="ft" text-anchor="middle">40</text>
<line x1="566.9" y1="650.1" x2="566.9" y2="647.9" stroke="#333" stroke-width="0.6"/>
<line x1="566.9" y1="462.2" x2="566.9" y2="464.4" stroke="#333" stroke-width="0.6"/>
<text x="566.9" y="662.7" class="ft" text-anchor="middle">42</text>
<line x1="325.8" y1="650.1" x2="328" y2="650.1" stroke="#333" stroke-width="0.6"/>
<line x1="566.9" y1="650.1" x2="564.7" y2="650.1" stroke="#333" stroke-width="0.6"/>
<text x="322.4" y="653.3" class="ft" text-anchor="end">0</text>
<line x1="325.8" y1="629.2" x2="328" y2="629.2" stroke="#333" stroke-width="0.6"/>
<line x1="566.9" y1="629.2" x2="564.7" y2="629.2" stroke="#333" stroke-width="0.6"/>
<text x="322.4" y="632.4" class="ft" text-anchor="end">0.5</text>
<line x1="325.8" y1="608.3" x2="328" y2="608.3" stroke="#333" stroke-width="0.6"/>
<line x1="566.9" y1="608.3" x2="564.7" y2="608.3" stroke="#333" stroke-width="0.6"/>
<text x="322.4" y="611.5" class="ft" text-anchor="end">1</text>
<line x1="325.8" y1="587.5" x2="328" y2="587.5" stroke="#333" stroke-width="0.6"/>
<line x1="566.9" y1="587.5" x2="564.7" y2="587.5" stroke="#333" stroke-width="0.6"/>
<text x="322.4" y="590.7" class="ft" text-anchor="end">1.5</text>
<line x1="325.8" y1="566.6" x2="328" y2="566.6" stroke="#333" stroke-width="0.6"/>
<line x1="566.9" y1="566.6" x2="564.7" y2="566.6" stroke="#333" stroke-width="0.6"/>
<text x="322.4" y="569.8" class="ft" text-anchor="end">2</text>
<line x1="325.8" y1="545.7" x2="328" y2="545.7" stroke="#333" stroke-width="0.6"/>
<line x1="566.9" y1="545.7" x2="564.7" y2="545.7" stroke="#333" stroke-width="0.6"/>
<text x="322.4" y="548.9" class="ft" text-anchor="end">2.5</text>
<line x1="325.8" y1="524.8" x2="328" y2="524.8" stroke="#333" stroke-width="0.6"/>
<line x1="566.9" y1="524.8" x2="564.7" y2="524.8" stroke="#333" stroke-width="0.6"/>
<text x="322.4" y="528" class="ft" text-anchor="end">3</text>
<line x1="325.8" y1="504" x2="328" y2="504" stroke="#333" stroke-width="0.6"/>
<line x1="566.9" y1="504" x2="564.7" y2="504" stroke="#333" stroke-width="0.6"/>
<text x="322.4" y="507.2" class="ft" text-anchor="end">3.5</text>
<line x1="325.8" y1="483.1" x2="328" y2="483.1" stroke="#333" stroke-width="0.6"/>
<line x1="566.9" y1="483.1" x2="564.7" y2="483.1" stroke="#333" stroke-width="0.6"/>
<text x="322.4" y="486.3" class="ft" text-anchor="end">4</text>
<line x1="325.8" y1="462.2" x2="328" y2="462.2" stroke="#333" stroke-width="0.6"/>
<line x1="566.9" y1="462.2" x2="564.7" y2="462.2" stroke="#333" stroke-width="0.6"/>
<text x="322.4" y="465.4" class="ft" text-anchor="end">4.5</text>
<path d="M325.8 583.3 L337.3 565.8 L348.8 537.8 L360.2 497.7 L371.7 475.6 L383.2 495.6 L394.7 490.2 L406.2 511.5 L417.6 560.3 L429.1 604.2 L440.6 620.9 L452.1 628.4 L463.6 635.1 L475.1 640.9 L486.5 643 L498 643.4" fill="none" stroke="#0000ff" stroke-width="1.6" stroke-linejoin="round"/>
<circle cx="325.8" cy="583.3" r="2.1" fill="#0000ff"/>
<circle cx="337.3" cy="565.8" r="2.1" fill="#0000ff"/>
<circle cx="348.8" cy="537.8" r="2.1" fill="#0000ff"/>
<circle cx="360.2" cy="497.7" r="2.1" fill="#0000ff"/>
<circle cx="371.7" cy="475.6" r="2.1" fill="#0000ff"/>
<circle cx="383.2" cy="495.6" r="2.1" fill="#0000ff"/>
<circle cx="394.7" cy="490.2" r="2.1" fill="#0000ff"/>
<circle cx="406.2" cy="511.5" r="2.1" fill="#0000ff"/>
<circle cx="417.6" cy="560.3" r="2.1" fill="#0000ff"/>
<circle cx="429.1" cy="604.2" r="2.1" fill="#0000ff"/>
<circle cx="440.6" cy="620.9" r="2.1" fill="#0000ff"/>
<circle cx="452.1" cy="628.4" r="2.1" fill="#0000ff"/>
<circle cx="463.6" cy="635.1" r="2.1" fill="#0000ff"/>
<circle cx="475.1" cy="640.9" r="2.1" fill="#0000ff"/>
<circle cx="486.5" cy="643" r="2.1" fill="#0000ff"/>
<circle cx="498" cy="643.4" r="2.1" fill="#0000ff"/>
<path d="M325.8 650.1 L337.3 650.1 L348.8 583.3 L360.2 625 L371.7 631.7 L383.2 616.3 L394.7 609.2 L406.2 617.9 L417.6 610.4 L429.1 543.2 L440.6 507.7 L452.1 523.6 L463.6 544.5 L475.1 571.6 L486.5 586.2 L498 593.3 L509.5 557.4 L521 571.6 L532.5 600.8 L543.9 616.7 L555.4 633 L566.9 648.8" fill="none" stroke="#ff0000" stroke-width="1.6" stroke-linejoin="round"/>
<circle cx="325.8" cy="650.1" r="2.2" fill="none" stroke="#ff0000" stroke-width="0.9"/>
<circle cx="337.3" cy="650.1" r="2.2" fill="none" stroke="#ff0000" stroke-width="0.9"/>
<circle cx="348.8" cy="583.3" r="2.2" fill="none" stroke="#ff0000" stroke-width="0.9"/>
<circle cx="360.2" cy="625" r="2.2" fill="none" stroke="#ff0000" stroke-width="0.9"/>
<circle cx="371.7" cy="631.7" r="2.2" fill="none" stroke="#ff0000" stroke-width="0.9"/>
<circle cx="383.2" cy="616.3" r="2.2" fill="none" stroke="#ff0000" stroke-width="0.9"/>
<circle cx="394.7" cy="609.2" r="2.2" fill="none" stroke="#ff0000" stroke-width="0.9"/>
<circle cx="406.2" cy="617.9" r="2.2" fill="none" stroke="#ff0000" stroke-width="0.9"/>
<circle cx="417.6" cy="610.4" r="2.2" fill="none" stroke="#ff0000" stroke-width="0.9"/>
<circle cx="429.1" cy="543.2" r="2.2" fill="none" stroke="#ff0000" stroke-width="0.9"/>
<circle cx="440.6" cy="507.7" r="2.2" fill="none" stroke="#ff0000" stroke-width="0.9"/>
<circle cx="452.1" cy="523.6" r="2.2" fill="none" stroke="#ff0000" stroke-width="0.9"/>
<circle cx="463.6" cy="544.5" r="2.2" fill="none" stroke="#ff0000" stroke-width="0.9"/>
<circle cx="475.1" cy="571.6" r="2.2" fill="none" stroke="#ff0000" stroke-width="0.9"/>
<circle cx="486.5" cy="586.2" r="2.2" fill="none" stroke="#ff0000" stroke-width="0.9"/>
<circle cx="498" cy="593.3" r="2.2" fill="none" stroke="#ff0000" stroke-width="0.9"/>
<circle cx="509.5" cy="557.4" r="2.2" fill="none" stroke="#ff0000" stroke-width="0.9"/>
<circle cx="521" cy="571.6" r="2.2" fill="none" stroke="#ff0000" stroke-width="0.9"/>
<circle cx="532.5" cy="600.8" r="2.2" fill="none" stroke="#ff0000" stroke-width="0.9"/>
<circle cx="543.9" cy="616.7" r="2.2" fill="none" stroke="#ff0000" stroke-width="0.9"/>
<circle cx="555.4" cy="633" r="2.2" fill="none" stroke="#ff0000" stroke-width="0.9"/>
<circle cx="566.9" cy="648.8" r="2.2" fill="none" stroke="#ff0000" stroke-width="0.9"/>
<rect x="516.4" y="468.1" width="44.7" height="23.2" fill="#fff" stroke="#555" stroke-width="0.5"/>
<line x1="519.5" y1="474" x2="541" y2="474" stroke="#0000ff" stroke-width="1.5"/>
<line x1="519.5" y1="485.4" x2="541" y2="485.4" stroke="#ff0000" stroke-width="1.5"/>
<text x="543.3" y="477.2" class="lg">TSB</text>
<text x="543.3" y="488.5" class="lg">TC</text>
<text x="446.3" y="674.6" class="fl" text-anchor="middle">Lag month</text>
<text transform="translate(305.3 556.6) rotate(-90)" class="fl" text-anchor="middle">Predictable area (10<tspan dy="-4.3" font-size="7.4">6</tspan><tspan dy="4.3"> km</tspan><tspan dy="-4.3" font-size="7.4">2</tspan><tspan dy="4.3">)</tspan></text>
<text x="294.1" y="453.0" class="pl">F</text>
<clipPath id="clipB"><rect x="307" y="22.7" width="256" height="162.5"/></clipPath>
<g clip-path="url(#clipB)">
<path d="M321.9 61.8 C322.4 60.9 325 60.1 327.4 59.6 C329.8 59.2 332.6 59.1 336.5 59.1 C340.5 59.1 346.6 59.4 351.1 59.6 C355.7 59.8 359.7 60.1 363.9 60.4 C368.2 60.7 372.7 60.9 376.7 61.5 C380.7 62 384.3 62.7 387.7 63.7 C391 64.6 394.7 66 396.8 66.9 C398.9 67.9 400.1 68.6 400.1 69.5 C400.1 70.4 398.9 71.7 396.8 72.2 C394.7 72.8 391 72.6 387.7 72.8 C384.3 73 380.7 73.4 376.7 73.3 C372.7 73.3 368.2 72.8 363.9 72.4 C359.7 72 355.1 71.5 351.1 71 C347.2 70.4 343.5 69.7 340.2 69.1 C336.8 68.5 333.6 68 331 67.3 C328.5 66.6 326.2 66 324.7 65.1 C323.1 64.2 321.5 62.7 321.9 61.8 Z" fill="#ffe878"/>
<path d="M350.2 65.8 C350.2 65.3 352.5 64.8 354.8 64.6 C357.1 64.3 361 64.1 363.9 64.2 C366.8 64.3 370.5 64.7 372.1 65.1 C373.8 65.5 374.1 65.9 374 66.4 C373.8 66.9 372.9 67.9 371.2 68.2 C369.5 68.6 366.7 68.7 363.9 68.6 C361.2 68.5 357.1 68.1 354.8 67.7 C352.5 67.2 350.2 66.4 350.2 65.8 Z" fill="#ffc03c"/>
<path d="M285.4 81 C288.4 75.1 298.2 81.2 303.7 81 C309.1 80.8 314 80.1 318.3 79.7 C322.5 79.4 325.6 79.1 329.2 78.8 C332.9 78.6 336.8 78.2 340.2 78.3 C343.5 78.3 346.3 78.7 349.3 79.2 C352.3 79.6 355.1 80.4 358.4 81 C361.8 81.6 366 82.2 369.4 82.8 C372.7 83.4 375.5 83.9 378.5 84.7 C381.6 85.4 384.6 86.6 387.7 87.4 C390.7 88.2 393.9 89.1 396.8 89.6 C399.7 90.1 401.9 90.4 405.1 90.5 C408.3 90.6 412.4 90.3 416 90.1 C419.7 90 423 89.6 427 89.6 C431 89.5 435.2 89.8 439.8 89.8 C444.3 89.8 450.4 89.7 454.4 89.6 C458.4 89.4 461.5 89.2 463.5 88.9 C465.5 88.5 466.1 87.9 466.4 87.4 C466.8 86.8 466.8 86.3 465.4 85.6 C464 84.8 461.1 83.7 458 82.8 C455 81.9 450.4 81 447.1 80.1 C443.7 79.2 440.3 78.2 438 77.3 C435.6 76.5 433.6 75.7 432.8 75 C432.1 74.2 432.5 73.3 433.4 72.8 C434.2 72.3 435.7 72.1 438 72.1 C440.2 72.1 443.7 72.3 447.1 72.8 C450.4 73.3 454.4 74.2 458 75 C461.7 75.7 465.4 76.5 469 77.3 C472.7 78.2 476.4 79.5 480 80.1 C483.6 80.7 487 80.7 490.6 81 C494.2 81.3 498.5 82.1 501.5 81.9 C504.6 81.8 507.2 81.3 508.8 80.1 C510.5 78.9 511.3 76.7 511.6 74.6 C511.9 72.5 511.1 69.7 510.7 67.3 C510.2 64.9 509.6 62.4 508.8 60 C508.1 57.6 506.7 54.5 506.1 52.7 C505.5 50.9 504.7 50.1 505.2 49.4 C505.6 48.7 507.5 48.4 508.8 48.7 C510.2 49 511.6 50.3 513.4 51.2 C515.2 52.2 517.8 52.9 519.8 54.5 C521.8 56.1 523.4 58.8 525.3 60.9 C527.1 63 528.8 65.3 530.7 67.3 C532.7 69.3 535.2 71.5 537.1 72.8 C539.1 74.1 540.9 74.7 542.6 75 C544.3 75.3 546 74.1 547.2 74.6 C548.4 75.2 549.3 76.7 549.9 78.3 C550.5 79.8 550.8 81.9 550.8 83.7 C550.8 85.6 550.5 87.4 549.9 89.2 C549.3 91 548.1 92.9 547.2 94.7 C546.3 96.5 545.2 98.4 544.4 100.2 C543.7 102 543.2 103.5 542.6 105.7 C542 107.8 541.4 111 540.8 112.9 C540.2 114.8 539.6 115.3 539 116.9 C538.4 118.5 537.3 120.6 537.1 122.4 C537 124.2 537.4 126 538 127.9 C538.7 129.7 539.9 131.5 540.8 133.3 C541.7 135.2 542.6 137.2 543.5 138.8 C544.4 140.5 545.2 141.6 546.3 143.4 C547.3 145.2 548.9 147.8 549.9 149.8 C551 151.8 551.7 153.4 552.7 155.3 C553.6 157.1 554.5 158.9 555.4 160.7 C556.3 162.6 557.1 164.5 558.1 166.2 C559.2 167.9 561 169.5 561.8 170.8 C562.5 172.1 563.3 173.2 562.7 173.9 C562.1 174.6 560.1 174.7 558.1 175 C556.2 175.2 553.3 175.6 550.8 175.4 C548.4 175.1 545.7 174.4 543.5 173.5 C541.4 172.6 539.9 171.4 538 169.9 C536.2 168.4 534.2 166.1 532.6 164.4 C530.9 162.7 528.9 161.4 528 159.8 C527.1 158.3 527.1 156.9 527.1 155.3 C527.1 153.6 528.6 151.6 528 149.8 C527.4 148 525.4 146 523.4 144.3 C521.5 142.6 518.9 141.1 516.1 139.7 C513.4 138.4 510 137 507 136.1 C504 135.2 500.7 134.7 497.9 134.3 C495 133.8 492.4 133.7 490 133.3 C487.6 133 486.5 132.8 483.6 132.4 C480.7 132.1 476.9 131.5 472.7 131.2 C468.4 130.8 463.5 130.4 458 130.2 C452.6 130.1 445.9 130.2 439.8 130.1 C433.7 130 427.3 129.9 421.5 129.7 C415.7 129.5 409.5 129.3 405.1 129 C400.7 128.7 398.8 128.3 395 127.9 C391.1 127.4 386.4 126.9 382.2 126.4 C377.9 126 374 125.6 369.4 125.1 C364.8 124.6 359.3 123.8 354.8 123.3 C350.2 122.8 346.3 122.5 342 122 C337.7 121.5 333.2 120.8 329.2 120.2 C325.3 119.6 322.5 119 318.3 118.4 C314 117.7 309.1 116.5 303.7 116.2 C298.2 115.8 288.4 122 285.4 116.2 C282.3 110.3 282.3 86.9 285.4 81 Z" fill="#ffe878"/>
<path d="M511.6 84.7 C512.1 83.8 514.5 83.2 516.1 83.4 C517.8 83.6 520.6 85 521.6 85.9 C522.6 86.8 522.6 88.2 522 88.9 C521.4 89.6 519.5 90.2 518 90.1 C516.4 90 513.9 89.2 512.8 88.3 C511.8 87.4 511 85.5 511.6 84.7 Z" fill="#ffffff"/>
<path d="M285.4 84.7 C288.4 79.8 298.2 84.8 303.7 84.7 C309.1 84.5 314 84 318.3 83.7 C322.5 83.4 325.6 83.1 329.2 82.8 C332.9 82.6 336.8 82.2 340.2 82.3 C343.5 82.4 346.3 82.9 349.3 83.4 C352.3 83.9 355.1 84.6 358.4 85.2 C361.8 85.8 366 86.4 369.4 87 C372.7 87.7 375.5 88.6 378.5 89.2 C381.6 89.9 384.6 90.4 387.7 91 C390.7 91.7 393.9 92.5 396.8 92.9 C399.7 93.2 401 93.2 405.1 93.2 C409.2 93.3 415.7 93.2 421.5 93.2 C427.3 93.2 433.7 93.3 439.8 93.2 C445.9 93.2 452 93 458 92.9 C464.1 92.8 471 92.7 476.3 92.5 C481.6 92.4 486.1 91.8 490 92 C494 92.1 496.7 92.7 500.1 93.2 C503.5 93.8 507 95.2 510.5 95.4 C513.9 95.7 517.9 95.4 520.9 94.9 C523.8 94.4 526.4 93.5 528.2 92.3 C529.9 91.2 530.3 89.5 531.3 88.1 C532.3 86.8 533.2 85.4 534.4 84.1 C535.6 82.8 536.9 80.6 538.4 80.1 C539.9 79.6 542.5 80.2 543.5 81 C544.5 81.8 544.7 83.3 544.4 84.7 C544.1 86 542.8 87.5 541.7 89.2 C540.6 90.9 539.1 92.9 538 94.7 C537 96.5 536 98.4 535.3 100.2 C534.6 102 534.4 103.5 534 105.7 C533.7 107.8 533.3 110.7 533.3 112.9 C533.3 115.1 533.6 116.9 534 118.7 C534.5 120.6 535.2 122.4 535.9 124.2 C536.5 126 537.4 128 538 129.7 C538.7 131.4 539.3 132.6 539.9 134.3 C540.4 135.9 541.4 138.1 541.3 139.7 C541.3 141.4 539.4 142.9 539.5 143.9 C539.6 145 540.4 145.6 541.7 146.1 C543 146.6 545.5 146.1 547.2 147 C548.9 148 550.5 149.9 551.7 151.6 C553 153.3 553.9 155.1 554.5 157.1 C555.1 159.1 555.5 161.7 555.4 163.5 C555.2 165.3 554.6 167 553.6 168 C552.5 169.1 550.7 169.9 549 169.9 C547.3 169.9 545.2 169.1 543.5 168 C541.9 167 540.2 165.2 539 163.5 C537.7 161.8 536.8 159.7 536.2 158 C535.6 156.3 535.8 154.8 535.3 153.4 C534.9 152.1 534.4 150.7 533.5 149.8 C532.6 148.9 531.2 149.1 529.8 148 C528.5 146.8 527.2 144.5 525.3 142.8 C523.3 141.2 520.7 139.3 518 137.9 C515.2 136.5 512.2 135.2 508.8 134.3 C505.5 133.3 501 132.9 497.9 132.4 C494.7 132 492.4 131.8 490 131.5 C487.6 131.2 486.5 131.1 483.6 130.8 C480.7 130.5 476.9 130.1 472.7 129.7 C468.4 129.3 463.5 128.8 458 128.6 C452.6 128.4 445.9 128.4 439.8 128.2 C433.7 128.1 427.3 127.7 421.5 127.5 C415.7 127.3 409.5 127.1 405.1 126.8 C400.7 126.5 398.8 126.1 395 125.7 C391.1 125.3 386.4 124.7 382.2 124.2 C377.9 123.7 374 123.3 369.4 122.8 C364.8 122.2 359.3 121.5 354.8 120.9 C350.2 120.4 346.3 120 342 119.5 C337.7 118.9 333.2 118.3 329.2 117.6 C325.3 117 322.5 116.4 318.3 115.8 C314 115.2 309.1 114.3 303.7 114 C298.2 113.7 288.4 118.9 285.4 114 C282.3 109.1 282.3 89.5 285.4 84.7 Z" fill="#ffc03c"/>
<path d="M515.2 55.4 C515.7 54.4 517.7 53.3 518.9 53.6 C520.1 53.9 521.6 55.6 522.5 57.3 C523.4 58.9 523.8 61.5 524.3 63.7 C524.9 65.8 525.8 68.5 525.6 70 C525.4 71.6 524.1 72.6 523.1 72.8 C522 72.9 520.4 72.2 519.4 71 C518.4 69.7 517.7 67.3 517 65.5 C516.4 63.7 516.1 61.7 515.8 60 C515.5 58.3 514.7 56.5 515.2 55.4 Z" fill="#ffc03c"/>
<path d="M285.4 88.3 C288.4 84.3 298.2 88.5 303.7 88.3 C309.1 88.2 314 87.6 318.3 87.4 C322.5 87.2 325.6 87.2 329.2 87 C332.9 86.9 336.8 86.4 340.2 86.5 C343.5 86.5 346.3 87 349.3 87.4 C352.3 87.8 355.1 88.3 358.4 88.9 C361.8 89.4 366 90.2 369.4 90.7 C372.7 91.2 375.5 91.5 378.5 92 C381.6 92.4 384.6 92.8 387.7 93.2 C390.7 93.7 393.9 94.3 396.8 94.7 C399.7 95.1 401 95.4 405.1 95.6 C409.2 95.8 415.7 95.9 421.5 96 C427.3 96.1 433.7 96.2 439.8 96.2 C445.9 96.2 452 96.1 458 96 C464.1 95.9 471 95.8 476.3 95.6 C481.6 95.5 486.4 95.2 490 95.1 C493.6 94.9 495 94.6 497.9 94.7 C500.7 94.8 504.6 95.1 507 95.6 C509.4 96.2 510.8 97.3 512.5 98 C514.2 98.6 515.7 98.8 517 99.4 C518.4 100.1 519.6 100.7 520.7 101.6 C521.8 102.6 522.5 104 523.4 105.3 C524.3 106.6 525.3 107.8 526.2 109.3 C527.1 110.8 528 112.8 528.7 114.2 C529.4 115.5 529.8 115.5 530.4 117.3 C531 119.1 531.5 122.9 532.2 124.9 C532.9 127 533.7 128.1 534.4 129.7 C535.1 131.2 536 132.9 536.6 134.3 C537.2 135.6 538 136.7 538 137.9 C538.1 139.1 537.7 140.7 537.1 141.6 C536.5 142.4 535.5 142.8 534.4 142.8 C533.3 142.8 532.1 142.2 530.7 141.6 C529.4 140.9 528 140 526.2 138.8 C524.3 137.6 521.8 135.5 519.8 134.3 C517.8 133 516.4 132.3 514.3 131.5 C512.2 130.8 509.7 130.2 507 129.7 C504.3 129.1 500.7 128.5 497.9 128.2 C495 127.9 493.6 128.2 490 127.9 C486.4 127.6 481.6 126.9 476.3 126.4 C471 126 464.1 125.3 458 125.1 C452 124.9 445.9 125.3 439.8 125.1 C433.7 125 427.3 124.4 421.5 124.2 C415.7 124 410.1 124.2 405.1 123.9 C400.1 123.5 396 122.9 391.3 122.4 C386.6 121.8 381.6 121.2 376.7 120.6 C371.8 120 367 119.3 362.1 118.7 C357.2 118.2 352.3 117.8 347.5 117.3 C342.6 116.7 337.7 116.1 332.9 115.5 C328 114.8 323.1 114.2 318.3 113.6 C313.4 113.1 309.1 112.4 303.7 112.2 C298.2 111.9 288.4 116.1 285.4 112.2 C282.3 108.2 282.3 92.3 285.4 88.3 Z" fill="#ffa000"/>
<path d="M539.9 153.4 C540.5 151.8 542.2 150.2 543.5 149.8 C544.9 149.3 546.7 149.8 548.1 150.7 C549.5 151.6 551 153.6 551.7 155.3 C552.5 156.9 552.8 159.1 552.7 160.7 C552.5 162.4 551.7 164.3 550.8 165.3 C549.9 166.3 548.5 166.7 547.2 166.6 C545.8 166.4 543.8 165.5 542.6 164.4 C541.4 163.3 540.3 161.7 539.9 159.8 C539.4 158 539.3 155.1 539.9 153.4 Z" fill="#ffa000"/>
<path d="M318.3 94.9 C320.4 95.6 324.3 97.5 327.4 98.5 C330.4 99.6 334.5 100.5 336.5 101.3 C338.5 102 340 102.3 339.3 103.1 C338.5 103.9 333.6 104.9 332 105.8 C330.3 106.8 328.5 107.8 329.2 108.6 C330 109.3 332.9 109.8 336.5 110.4 C340.2 111 345.7 111.5 351.1 112.2 C356.6 112.9 364.2 114.1 369.4 114.6 C374.6 115.1 378.5 115.3 382.2 115.3 C385.8 115.3 388.6 115.3 391.3 114.6 C394 113.9 396.9 112.6 398.6 111.3 C400.3 110 401.4 108 401.4 106.8 C401.4 105.5 400.3 104.8 398.6 104 C396.9 103.3 393.7 102.9 391.3 102.2 C388.9 101.4 386.4 100.3 384 99.4 C381.6 98.6 379.1 97.6 376.7 97.1 C374.3 96.5 372.1 96.4 369.4 96.2 C366.7 95.9 363.3 95.7 360.3 95.4 C357.2 95.1 354.2 94.8 351.1 94.3 C348.1 93.8 345.3 92.9 342 92.5 C338.7 92.1 334.4 91.9 331 92 C327.7 92 324.7 92.5 321.9 92.9 C319.2 93.3 315.2 94 314.6 94.3 C314 94.7 316.1 94.2 318.3 94.9 Z" fill="#ff6000"/>
<path d="M427.4 117.8 C427.5 117 428.8 115.4 429.7 114.2 C430.7 113 431.5 111.6 432.8 110.5 C434.2 109.4 435.9 108.2 438 107.4 C440 106.7 442.5 106.3 445.3 106 C448 105.7 451.4 105.5 454.4 105.6 C457.4 105.7 460.5 105.9 463.5 106.3 C466.6 106.7 469.6 107.4 472.7 108.1 C475.7 108.9 478.9 110.1 481.8 111.1 C484.7 112.1 487.6 113.4 490 114.2 C492.4 115 494.1 115.4 496 116 C498 116.6 500 117.7 501.5 117.8 C503 118 503.7 117.5 505.2 116.9 C506.7 116.3 508.8 114.8 510.7 114.2 C512.5 113.6 514.3 113.1 516.1 113.3 C518 113.4 519.9 114.2 521.6 115.1 C523.3 116 525 117.2 526.2 118.7 C527.4 120.3 528.2 122.4 528.9 124.2 C529.7 126 530 127.9 530.7 129.7 C531.5 131.5 532.7 133.5 533.5 135.2 C534.2 136.8 535.3 138.8 535.3 139.7 C535.3 140.7 534.4 140.8 533.5 140.7 C532.6 140.5 531.2 139.7 529.8 138.8 C528.5 137.9 526.8 136.5 525.3 135.2 C523.7 133.8 522.2 132.1 520.7 130.6 C519.2 129.1 517.8 127.4 516.1 126 C514.5 124.7 512.6 123.3 510.7 122.4 C508.7 121.5 506.4 120.9 504.3 120.6 C502.1 120.3 500.2 120.6 497.9 120.6 C495.5 120.6 493 120.5 490 120.6 C487 120.7 483.8 121.1 480 121.1 C476.2 121.1 471.4 120.7 467.2 120.6 C462.9 120.4 458.7 120.3 454.4 120.2 C450.1 120.1 445.3 119.9 441.6 119.8 C438 119.7 434.6 119.8 432.5 119.7 C430.3 119.5 429.7 119.4 428.8 119.1 C428 118.8 427.2 118.6 427.4 117.8 Z" fill="#ff6000"/>
<path d="M543.5 156.2 C544 155.2 545.4 154.3 546.3 154.3 C547.2 154.3 548.4 155.3 549 156.2 C549.6 157.1 550.1 158.6 549.9 159.8 C549.8 161 548.9 162.9 548.1 163.5 C547.3 164.1 546.1 164 545.4 163.5 C544.6 163 543.8 161.6 543.5 160.4 C543.2 159.2 543.1 157.2 543.5 156.2 Z" fill="#ff6000"/>
<path d="M445.3 57.3 C445.6 55.9 447.2 55 448.9 53.6 C450.6 52.2 453.5 50.6 455.3 49 C457.1 47.5 458.2 45.7 459.9 44.5 C461.5 43.3 463.2 42.3 465.4 41.7 C467.5 41.2 470.2 41.2 472.7 41.4 C475.1 41.5 477.5 42 480 42.7 C482.4 43.3 485.1 44.2 487.3 45.4 C489.4 46.6 491.5 48.4 492.7 50 C494 51.5 494.6 53 494.6 54.5 C494.6 56 494 57.9 492.7 59.1 C491.5 60.3 489.4 61.1 487.3 61.8 C485.1 62.6 482.1 63 480 63.7 C477.8 64.3 476.6 65.4 474.5 65.8 C472.4 66.3 469.6 66.6 467.2 66.4 C464.7 66.2 462.3 65 459.9 64.6 C457.4 64.1 454.7 64.1 452.6 63.7 C450.4 63.2 448.3 62.9 447.1 61.8 C445.9 60.8 445 58.6 445.3 57.3 Z" fill="#b4f0fa"/>
<path d="M459.9 55.4 C460.3 54.4 461.1 52.8 462.6 51.8 C464.1 50.7 466.7 49.7 469 49 C471.3 48.4 474.2 48.1 476.3 48.1 C478.4 48.2 480.5 48.6 481.4 49.4 C482.3 50.2 482.3 51.7 481.8 52.7 C481.2 53.7 479.7 54.7 478.1 55.4 C476.6 56.2 474.3 56.5 472.7 57.3 C471 58 469.6 59.6 468.1 60 C466.6 60.4 464.8 60 463.5 59.6 C462.2 59.3 460.8 58.5 460.2 57.8 C459.6 57.1 459.5 56.4 459.9 55.4 Z" fill="#96d2fa"/>
<path d="M285.4 131.2 C288.4 130.3 298.8 131.2 303.7 131.2 C308.5 131.1 311.3 130.5 314.6 130.6 C318 130.7 320.7 131.4 323.7 131.9 C326.8 132.4 329.2 133 332.9 133.7 C336.5 134.4 341.1 135.4 345.7 136.1 C350.2 136.8 355.7 137.5 360.3 137.9 C364.8 138.3 368.8 138.5 373 138.5 C377.3 138.5 381.9 138.1 385.8 137.9 C389.8 137.8 393.6 137.6 396.8 137.5 C400 137.5 402.2 137.3 405.1 137.4 C408 137.4 411.5 137.7 414.2 137.9 C417 138.1 419.9 138.2 421.5 138.5 C423.1 138.7 424 138.8 423.7 139.2 C423.4 139.6 421.6 140.5 419.7 141 C417.8 141.6 414.8 142.2 412.4 142.5 C410 142.8 408 142.8 405.1 142.8 C402.2 142.9 398.5 142.8 395 142.8 C391.4 142.9 387.7 143.1 384 143.4 C380.4 143.6 376.4 143.8 373 144.3 C369.7 144.8 367 145.6 363.9 146.1 C360.9 146.6 357.8 147.2 354.8 147.4 C351.7 147.6 348.7 147.7 345.7 147.4 C342.6 147.1 339.6 146.3 336.5 145.8 C333.5 145.2 330.4 144.6 327.4 143.9 C324.3 143.2 320.7 142.4 318.3 141.6 C315.8 140.7 315.2 139.7 312.8 138.8 C310.3 137.9 308.2 136.7 303.7 136.3 C299.1 135.8 288.4 137.1 285.4 136.3 C282.3 135.4 282.3 132 285.4 131.2 Z" fill="#b4f0fa"/>
<pattern id="dotB" x="306.49" y="23.11" width="3.413" height="4.062" patternUnits="userSpaceOnUse"><rect x="1.31" y="1.63" width="0.8" height="0.8" fill="#1e1205" fill-opacity="0.95"/></pattern>
<pattern id="crsB" x="306.49" y="23.11" width="3.413" height="4.062" patternUnits="userSpaceOnUse"><path d="M0.16 2.03 H3.26 M1.71 0.28 V3.78" stroke="#140800" stroke-width="0.95" stroke-opacity="0.88" fill="none"/></pattern>
<clipPath id="dcB0"><path d="M285.4 88.3 C288.4 84.3 298.2 88.5 303.7 88.3 C309.1 88.2 314 87.6 318.3 87.4 C322.5 87.2 325.6 87.2 329.2 87 C332.9 86.9 336.8 86.4 340.2 86.5 C343.5 86.5 346.3 87 349.3 87.4 C352.3 87.8 355.1 88.3 358.4 88.9 C361.8 89.4 366 90.2 369.4 90.7 C372.7 91.2 375.5 91.5 378.5 92 C381.6 92.4 384.6 92.8 387.7 93.2 C390.7 93.7 393.9 94.3 396.8 94.7 C399.7 95.1 401 95.4 405.1 95.6 C409.2 95.8 415.7 95.9 421.5 96 C427.3 96.1 433.7 96.2 439.8 96.2 C445.9 96.2 452 96.1 458 96 C464.1 95.9 471 95.8 476.3 95.6 C481.6 95.5 486.4 95.2 490 95.1 C493.6 94.9 495 94.6 497.9 94.7 C500.7 94.8 504.6 95.1 507 95.6 C509.4 96.2 510.8 97.3 512.5 98 C514.2 98.6 515.7 98.8 517 99.4 C518.4 100.1 519.6 100.7 520.7 101.6 C521.8 102.6 522.5 104 523.4 105.3 C524.3 106.6 525.3 107.8 526.2 109.3 C527.1 110.8 528 112.8 528.7 114.2 C529.4 115.5 529.8 115.5 530.4 117.3 C531 119.1 531.5 122.9 532.2 124.9 C532.9 127 533.7 128.1 534.4 129.7 C535.1 131.2 536 132.9 536.6 134.3 C537.2 135.6 538 136.7 538 137.9 C538.1 139.1 537.7 140.7 537.1 141.6 C536.5 142.4 535.5 142.8 534.4 142.8 C533.3 142.8 532.1 142.2 530.7 141.6 C529.4 140.9 528 140 526.2 138.8 C524.3 137.6 521.8 135.5 519.8 134.3 C517.8 133 516.4 132.3 514.3 131.5 C512.2 130.8 509.7 130.2 507 129.7 C504.3 129.1 500.7 128.5 497.9 128.2 C495 127.9 493.6 128.2 490 127.9 C486.4 127.6 481.6 126.9 476.3 126.4 C471 126 464.1 125.3 458 125.1 C452 124.9 445.9 125.3 439.8 125.1 C433.7 125 427.3 124.4 421.5 124.2 C415.7 124 410.1 124.2 405.1 123.9 C400.1 123.5 396 122.9 391.3 122.4 C386.6 121.8 381.6 121.2 376.7 120.6 C371.8 120 367 119.3 362.1 118.7 C357.2 118.2 352.3 117.8 347.5 117.3 C342.6 116.7 337.7 116.1 332.9 115.5 C328 114.8 323.1 114.2 318.3 113.6 C313.4 113.1 309.1 112.4 303.7 112.2 C298.2 111.9 288.4 116.1 285.4 112.2 C282.3 108.2 282.3 92.3 285.4 88.3 Z"/></clipPath>
<rect x="307" y="22.7" width="256" height="162.5" fill="url(#dotB)" clip-path="url(#dcB0)"/>
<clipPath id="dcB1"><path d="M539.9 153.4 C540.5 151.8 542.2 150.2 543.5 149.8 C544.9 149.3 546.7 149.8 548.1 150.7 C549.5 151.6 551 153.6 551.7 155.3 C552.5 156.9 552.8 159.1 552.7 160.7 C552.5 162.4 551.7 164.3 550.8 165.3 C549.9 166.3 548.5 166.7 547.2 166.6 C545.8 166.4 543.8 165.5 542.6 164.4 C541.4 163.3 540.3 161.7 539.9 159.8 C539.4 158 539.3 155.1 539.9 153.4 Z"/></clipPath>
<rect x="307" y="22.7" width="256" height="162.5" fill="url(#dotB)" clip-path="url(#dcB1)"/>
<path d="M326.97 94.2h3.41M328.67 92.32v3.76M326.97 98.26h3.41M328.67 96.38v3.76M330.38 94.2h3.41M332.09 92.32v3.76M330.38 98.26h3.41M332.09 96.38v3.76M333.79 94.2h3.41M335.5 92.32v3.76M333.79 98.26h3.41M335.5 96.38v3.76M333.79 106.39h3.41M335.5 104.51v3.76M337.21 94.2h3.41M338.91 92.32v3.76M337.21 98.26h3.41M338.91 96.38v3.76M340.62 94.2h3.41M342.33 92.32v3.76M340.62 98.26h3.41M342.33 96.38v3.76M340.62 102.33h3.41M342.33 100.44v3.76M344.03 98.26h3.41M345.74 96.38v3.76M344.03 102.33h3.41M345.74 100.44v3.76M347.45 98.26h3.41M349.15 96.38v3.76M347.45 102.33h3.41M349.15 100.44v3.76M350.86 98.26h3.41M352.57 96.38v3.76M350.86 102.33h3.41M352.57 100.44v3.76M350.86 106.39h3.41M352.57 104.51v3.76M350.86 110.45h3.41M352.57 108.57v3.76M354.27 98.26h3.41M355.98 96.38v3.76M354.27 102.33h3.41M355.98 100.44v3.76M354.27 106.39h3.41M355.98 104.51v3.76M354.27 110.45h3.41M355.98 108.57v3.76M357.69 98.26h3.41M359.39 96.38v3.76M357.69 102.33h3.41M359.39 100.44v3.76M357.69 106.39h3.41M359.39 104.51v3.76M357.69 110.45h3.41M359.39 108.57v3.76M361.1 98.26h3.41M362.81 96.38v3.76M361.1 102.33h3.41M362.81 100.44v3.76M361.1 106.39h3.41M362.81 104.51v3.76M361.1 110.45h3.41M362.81 108.57v3.76M364.51 98.26h3.41M366.22 96.38v3.76M364.51 102.33h3.41M366.22 100.44v3.76M364.51 106.39h3.41M366.22 104.51v3.76M364.51 110.45h3.41M366.22 108.57v3.76M367.93 98.26h3.41M369.63 96.38v3.76M367.93 102.33h3.41M369.63 100.44v3.76M367.93 106.39h3.41M369.63 104.51v3.76M367.93 110.45h3.41M369.63 108.57v3.76M367.93 114.51h3.41M369.63 112.63v3.76M371.34 98.26h3.41M373.05 96.38v3.76M371.34 102.33h3.41M373.05 100.44v3.76M371.34 106.39h3.41M373.05 104.51v3.76M371.34 110.45h3.41M373.05 108.57v3.76M371.34 114.51h3.41M373.05 112.63v3.76M374.75 98.26h3.41M376.46 96.38v3.76M374.75 102.33h3.41M376.46 100.44v3.76M374.75 106.39h3.41M376.46 104.51v3.76M374.75 110.45h3.41M376.46 108.57v3.76M374.75 114.51h3.41M376.46 112.63v3.76M378.17 102.33h3.41M379.87 100.44v3.76M378.17 106.39h3.41M379.87 104.51v3.76M378.17 110.45h3.41M379.87 108.57v3.76M378.17 114.51h3.41M379.87 112.63v3.76M381.58 102.33h3.41M383.29 100.44v3.76M381.58 106.39h3.41M383.29 104.51v3.76M381.58 110.45h3.41M383.29 108.57v3.76M381.58 114.51h3.41M383.29 112.63v3.76M384.99 102.33h3.41M386.7 100.44v3.76M384.99 106.39h3.41M386.7 104.51v3.76M384.99 110.45h3.41M386.7 108.57v3.76M384.99 114.51h3.41M386.7 112.63v3.76M388.41 102.33h3.41M390.11 100.44v3.76M388.41 106.39h3.41M390.11 104.51v3.76M388.41 110.45h3.41M390.11 108.57v3.76M388.41 114.51h3.41M390.11 112.63v3.76M391.82 102.33h3.41M393.53 100.44v3.76M391.82 106.39h3.41M393.53 104.51v3.76M391.82 110.45h3.41M393.53 108.57v3.76M391.82 114.51h3.41M393.53 112.63v3.76M395.23 106.39h3.41M396.94 104.51v3.76M395.23 110.45h3.41M396.94 108.57v3.76M398.65 106.39h3.41M400.35 104.51v3.76M398.65 110.45h3.41M400.35 108.57v3.76M408.89 106.39h3.41M410.59 104.51v3.76M429.37 114.51h3.41M431.07 112.63v3.76M432.78 110.45h3.41M434.49 108.57v3.76M432.78 114.51h3.41M434.49 112.63v3.76M432.78 118.58h3.41M434.49 116.69v3.76M436.19 106.39h3.41M437.9 104.51v3.76M436.19 110.45h3.41M437.9 108.57v3.76M436.19 114.51h3.41M437.9 112.63v3.76M436.19 118.58h3.41M437.9 116.69v3.76M439.61 106.39h3.41M441.31 104.51v3.76M439.61 110.45h3.41M441.31 108.57v3.76M439.61 114.51h3.41M441.31 112.63v3.76M439.61 118.58h3.41M441.31 116.69v3.76M443.02 106.39h3.41M444.73 104.51v3.76M443.02 110.45h3.41M444.73 108.57v3.76M443.02 114.51h3.41M444.73 112.63v3.76M443.02 118.58h3.41M444.73 116.69v3.76M446.43 106.39h3.41M448.14 104.51v3.76M446.43 110.45h3.41M448.14 108.57v3.76M446.43 114.51h3.41M448.14 112.63v3.76M446.43 118.58h3.41M448.14 116.69v3.76M449.85 106.39h3.41M451.55 104.51v3.76M449.85 110.45h3.41M451.55 108.57v3.76M449.85 114.51h3.41M451.55 112.63v3.76M449.85 118.58h3.41M451.55 116.69v3.76M453.26 106.39h3.41M454.97 104.51v3.76M453.26 110.45h3.41M454.97 108.57v3.76M453.26 114.51h3.41M454.97 112.63v3.76M453.26 118.58h3.41M454.97 116.69v3.76M456.67 106.39h3.41M458.38 104.51v3.76M456.67 110.45h3.41M458.38 108.57v3.76M456.67 114.51h3.41M458.38 112.63v3.76M456.67 118.58h3.41M458.38 116.69v3.76M460.09 106.39h3.41M461.79 104.51v3.76M460.09 110.45h3.41M461.79 108.57v3.76M460.09 114.51h3.41M461.79 112.63v3.76M460.09 118.58h3.41M461.79 116.69v3.76M463.5 110.45h3.41M465.21 108.57v3.76M463.5 114.51h3.41M465.21 112.63v3.76M463.5 118.58h3.41M465.21 116.69v3.76M466.91 110.45h3.41M468.62 108.57v3.76M466.91 114.51h3.41M468.62 112.63v3.76M466.91 118.58h3.41M468.62 116.69v3.76M470.33 110.45h3.41M472.03 108.57v3.76M470.33 114.51h3.41M472.03 112.63v3.76M470.33 118.58h3.41M472.03 116.69v3.76M473.74 110.45h3.41M475.45 108.57v3.76M473.74 114.51h3.41M475.45 112.63v3.76M473.74 118.58h3.41M475.45 116.69v3.76M477.15 110.45h3.41M478.86 108.57v3.76M477.15 114.51h3.41M478.86 112.63v3.76M477.15 118.58h3.41M478.86 116.69v3.76M480.57 114.51h3.41M482.27 112.63v3.76M480.57 118.58h3.41M482.27 116.69v3.76M483.98 114.51h3.41M485.69 112.63v3.76M483.98 118.58h3.41M485.69 116.69v3.76M501.05 102.33h3.41M502.75 100.44v3.76M504.46 118.58h3.41M506.17 116.69v3.76M511.29 118.58h3.41M512.99 116.69v3.76M511.29 122.64h3.41M512.99 120.76v3.76M514.7 114.51h3.41M516.41 112.63v3.76M514.7 118.58h3.41M516.41 116.69v3.76M514.7 122.64h3.41M516.41 120.76v3.76M518.11 114.51h3.41M519.82 112.63v3.76M518.11 118.58h3.41M519.82 116.69v3.76M518.11 122.64h3.41M519.82 120.76v3.76M518.11 126.7h3.41M519.82 124.82v3.76M518.11 130.76h3.41M519.82 128.88v3.76M521.53 118.58h3.41M523.23 116.69v3.76M521.53 122.64h3.41M523.23 120.76v3.76M521.53 126.7h3.41M523.23 124.82v3.76M521.53 130.76h3.41M523.23 128.88v3.76M524.94 122.64h3.41M526.65 120.76v3.76M524.94 126.7h3.41M526.65 124.82v3.76M524.94 130.76h3.41M526.65 128.88v3.76M524.94 134.82h3.41M526.65 132.94v3.76M528.35 130.76h3.41M530.06 128.88v3.76M528.35 134.82h3.41M530.06 132.94v3.76M528.35 138.89h3.41M530.06 137.01v3.76M531.77 138.89h3.41M533.47 137.01v3.76M542.01 159.2h3.41M543.71 157.32v3.76M545.42 155.14h3.41M547.13 153.26v3.76M545.42 159.2h3.41M547.13 157.32v3.76M545.42 163.26h3.41M547.13 161.38v3.76" stroke="#160a00" stroke-width="0.95" stroke-opacity="0.8" fill="none"/>
<line x1="341.1" y1="22.7" x2="341.1" y2="185.2" class="gr"/>
<line x1="375.3" y1="22.7" x2="375.3" y2="185.2" class="gr"/>
<line x1="409.4" y1="22.7" x2="409.4" y2="185.2" class="gr"/>
<line x1="443.5" y1="22.7" x2="443.5" y2="185.2" class="gr"/>
<line x1="477.7" y1="22.7" x2="477.7" y2="185.2" class="gr"/>
<line x1="511.8" y1="22.7" x2="511.8" y2="185.2" class="gr"/>
<line x1="545.9" y1="22.7" x2="545.9" y2="185.2" class="gr"/>
<line x1="307" y1="43" x2="563" y2="43" class="gr"/>
<line x1="307" y1="63.3" x2="563" y2="63.3" class="gr"/>
<line x1="307" y1="83.6" x2="563" y2="83.6" class="gr"/>
<line x1="307" y1="104" x2="563" y2="104" class="gr"/>
<line x1="307" y1="124.3" x2="563" y2="124.3" class="gr"/>
<line x1="307" y1="144.6" x2="563" y2="144.6" class="gr"/>
<line x1="307" y1="164.9" x2="563" y2="164.9" class="gr"/>
<path d="M451.2 14.3 C447.8 14.9 455.3 20.1 456 21 C456.6 21.8 457.2 22.1 457.9 22.7 C458.5 23.3 461.6 25.9 462.7 26.7 C463.7 27.5 467.1 29.8 468.4 30.5 C469.7 31.3 474.5 33.6 476 34.3 C477.6 35.1 482.3 37 483.7 37.6 C485.1 38.2 489.3 40 490.4 40.1 C491.4 40.2 493.5 38.8 494.2 38.7 C495 38.7 497.2 38.7 498 39.1 C498.9 39.6 501.9 42.2 502.8 43 C503.8 43.7 506.7 46.1 507.6 46.8 C508.6 47.5 511.3 49.1 512.4 49.7 C513.4 50.2 517.2 51.6 518.1 52.1 C519.1 52.7 521.3 54.6 522 55.4 C522.6 56.2 524.3 59.2 524.8 60.2 C525.4 61.1 527 64.2 527.7 65 C528.4 65.7 530.7 67.3 531.5 67.8 C532.4 68.3 535.4 69.6 536.3 70.1 C537.3 70.6 540.4 72.2 541.1 72.6 C541.8 73.1 543 74.6 543.4 74.5 C543.8 74.4 544.6 72.2 544.9 71.7 C545.2 71.1 546 69.3 546.4 68.8 C546.9 68.3 548.6 67 549.1 66.9 C549.7 66.8 551.7 67.4 552.2 67.8 C552.7 68.2 554.1 70.1 554.5 70.7 C554.9 71.3 556 72.8 556 73.6 C556.1 74.3 555.1 77.4 554.9 78.4 C554.7 79.3 554.1 82.2 554.1 83.1 C554.1 84.1 554.6 87.1 554.5 87.9 C554.3 88.8 553 91 552.6 91.7 C552.1 92.5 550.2 94.8 549.7 95.6 C549.2 96.3 547.6 99 547.4 99.4 C547.3 99.8 548.3 99.6 548.2 100 C548.1 100.3 546.8 102 546.4 102.7 C546.1 103.3 544.8 105.7 544.5 106.5 C544.2 107.2 543.3 109.6 543.4 110.3 C543.4 111 544.6 112.7 544.9 113.2 C545.2 113.7 546.6 114.8 546.4 115.1 C546.3 115.4 543.5 116.1 543.4 116.4 C543.2 116.8 545.1 117.9 544.9 118.3 C544.8 118.8 542.5 120.3 542 120.8 C541.6 121.4 540.8 123 540.7 123.7 C540.6 124.4 540.9 126.8 541.1 127.5 C541.3 128.3 542.2 130.5 542.6 131.3 C543 132.2 544.4 134.7 544.9 135.6 C545.4 136.4 547.3 139 547.8 140 C548.3 140.9 549.8 144.1 550.3 145.1 C550.8 146.2 552.4 149.4 553 150.5 C553.5 151.6 554.9 154.8 555.4 155.8 C555.9 156.9 557.4 160 557.9 161 C558.4 162 559.7 164.7 560.2 165.4 C560.7 166.1 561.9 167.5 562.9 168.1 C563.9 168.7 568 171.2 569.8 171.5 C571.6 171.9 580.1 182.7 581.3 171.5 C582.4 160.4 582.9 71.3 581.3 60.2 C579.6 49 566.8 59.8 565 59.8 C563.2 59.8 563.4 60.2 563.1 60.6 C562.8 60.9 562.1 62.4 561.8 63 C561.4 63.7 560.3 66.2 559.8 66.9 C559.4 67.6 558 70.1 557.4 70.1 C556.7 70.1 554.3 67.4 553.5 66.9 C552.8 66.4 550.5 65.1 549.7 65 C548.9 64.9 546.7 65.7 545.9 65.9 C545 66.2 542 67.5 541.1 67.4 C540.2 67.4 537.9 65.6 537.3 65 C536.6 64.3 534.8 62 534.4 61.1 C534 60.3 533.2 57.3 533.1 56.3 C533 55.4 533.3 52.5 533.4 51.6 C533.6 50.6 534.4 47.7 534.4 46.8 C534.4 45.9 534.2 43.2 533.8 42.6 C533.4 41.9 531.5 40.4 530.6 40.1 C529.7 39.7 526 39.2 524.8 39.1 C523.7 39.1 520 39.6 519.1 39.5 C518.2 39.4 516.1 38.8 515.8 38.2 C515.6 37.6 516.4 34.4 516.6 33.4 C516.8 32.3 517.6 28.7 517.8 27.7 C517.9 26.6 518.1 24 518.1 22.7 C518.2 21.3 519.2 15.1 518.1 14.3 C517.1 13.4 508.7 13.4 507.6 14.3 C506.6 15.1 507.7 21.5 507.6 22.7 C507.5 23.9 506.8 25.5 506.3 26.1 C505.8 26.7 503.7 28.3 502.8 28.6 C502 28.9 499 29.3 498 29.2 C497.1 29.1 494 28.1 493.3 27.7 C492.5 27.2 490.8 25.3 490.4 24.8 C490 24.3 489.5 23.7 489.4 22.7 C489.3 21.6 493.3 15.1 489.4 14.3 C485.6 13.4 454.5 13.6 451.2 14.3 Z" fill="none" stroke="#fff" stroke-width="4.0" stroke-linejoin="round"/>
<path d="M451.2 14.3 C447.8 14.9 455.3 20.1 456 21 C456.6 21.8 457.2 22.1 457.9 22.7 C458.5 23.3 461.6 25.9 462.7 26.7 C463.7 27.5 467.1 29.8 468.4 30.5 C469.7 31.3 474.5 33.6 476 34.3 C477.6 35.1 482.3 37 483.7 37.6 C485.1 38.2 489.3 40 490.4 40.1 C491.4 40.2 493.5 38.8 494.2 38.7 C495 38.7 497.2 38.7 498 39.1 C498.9 39.6 501.9 42.2 502.8 43 C503.8 43.7 506.7 46.1 507.6 46.8 C508.6 47.5 511.3 49.1 512.4 49.7 C513.4 50.2 517.2 51.6 518.1 52.1 C519.1 52.7 521.3 54.6 522 55.4 C522.6 56.2 524.3 59.2 524.8 60.2 C525.4 61.1 527 64.2 527.7 65 C528.4 65.7 530.7 67.3 531.5 67.8 C532.4 68.3 535.4 69.6 536.3 70.1 C537.3 70.6 540.4 72.2 541.1 72.6 C541.8 73.1 543 74.6 543.4 74.5 C543.8 74.4 544.6 72.2 544.9 71.7 C545.2 71.1 546 69.3 546.4 68.8 C546.9 68.3 548.6 67 549.1 66.9 C549.7 66.8 551.7 67.4 552.2 67.8 C552.7 68.2 554.1 70.1 554.5 70.7 C554.9 71.3 556 72.8 556 73.6 C556.1 74.3 555.1 77.4 554.9 78.4 C554.7 79.3 554.1 82.2 554.1 83.1 C554.1 84.1 554.6 87.1 554.5 87.9 C554.3 88.8 553 91 552.6 91.7 C552.1 92.5 550.2 94.8 549.7 95.6 C549.2 96.3 547.6 99 547.4 99.4 C547.3 99.8 548.3 99.6 548.2 100 C548.1 100.3 546.8 102 546.4 102.7 C546.1 103.3 544.8 105.7 544.5 106.5 C544.2 107.2 543.3 109.6 543.4 110.3 C543.4 111 544.6 112.7 544.9 113.2 C545.2 113.7 546.6 114.8 546.4 115.1 C546.3 115.4 543.5 116.1 543.4 116.4 C543.2 116.8 545.1 117.9 544.9 118.3 C544.8 118.8 542.5 120.3 542 120.8 C541.6 121.4 540.8 123 540.7 123.7 C540.6 124.4 540.9 126.8 541.1 127.5 C541.3 128.3 542.2 130.5 542.6 131.3 C543 132.2 544.4 134.7 544.9 135.6 C545.4 136.4 547.3 139 547.8 140 C548.3 140.9 549.8 144.1 550.3 145.1 C550.8 146.2 552.4 149.4 553 150.5 C553.5 151.6 554.9 154.8 555.4 155.8 C555.9 156.9 557.4 160 557.9 161 C558.4 162 559.7 164.7 560.2 165.4 C560.7 166.1 561.9 167.5 562.9 168.1 C563.9 168.7 568 171.2 569.8 171.5 C571.6 171.9 580.1 182.7 581.3 171.5 C582.4 160.4 582.9 71.3 581.3 60.2 C579.6 49 566.8 59.8 565 59.8 C563.2 59.8 563.4 60.2 563.1 60.6 C562.8 60.9 562.1 62.4 561.8 63 C561.4 63.7 560.3 66.2 559.8 66.9 C559.4 67.6 558 70.1 557.4 70.1 C556.7 70.1 554.3 67.4 553.5 66.9 C552.8 66.4 550.5 65.1 549.7 65 C548.9 64.9 546.7 65.7 545.9 65.9 C545 66.2 542 67.5 541.1 67.4 C540.2 67.4 537.9 65.6 537.3 65 C536.6 64.3 534.8 62 534.4 61.1 C534 60.3 533.2 57.3 533.1 56.3 C533 55.4 533.3 52.5 533.4 51.6 C533.6 50.6 534.4 47.7 534.4 46.8 C534.4 45.9 534.2 43.2 533.8 42.6 C533.4 41.9 531.5 40.4 530.6 40.1 C529.7 39.7 526 39.2 524.8 39.1 C523.7 39.1 520 39.6 519.1 39.5 C518.2 39.4 516.1 38.8 515.8 38.2 C515.6 37.6 516.4 34.4 516.6 33.4 C516.8 32.3 517.6 28.7 517.8 27.7 C517.9 26.6 518.1 24 518.1 22.7 C518.2 21.3 519.2 15.1 518.1 14.3 C517.1 13.4 508.7 13.4 507.6 14.3 C506.6 15.1 507.7 21.5 507.6 22.7 C507.5 23.9 506.8 25.5 506.3 26.1 C505.8 26.7 503.7 28.3 502.8 28.6 C502 28.9 499 29.3 498 29.2 C497.1 29.1 494 28.1 493.3 27.7 C492.5 27.2 490.8 25.3 490.4 24.8 C490 24.3 489.5 23.7 489.4 22.7 C489.3 21.6 493.3 15.1 489.4 14.3 C485.6 13.4 454.5 13.6 451.2 14.3 Z" class="land"/>
<path d="M526.2 54.8 C526.4 54.7 527.2 55.1 527.7 55.6 C528.2 56.1 529 57.3 529.2 57.9 C529.4 58.5 529.2 59 528.8 59 C528.5 59.1 527.8 58.7 527.3 58.3 C526.9 57.8 526.4 56.9 526.2 56.3 C526 55.8 525.9 54.9 526.2 54.8 Z" fill="#fff" stroke="none"/>
<path d="M551.2 29.2 C551.4 28.8 552.2 28.2 553 28 C553.8 27.9 555.2 28.1 556 28.4 C556.8 28.7 557.8 29.5 557.9 29.9 C558.1 30.4 557.5 30.9 556.8 31.1 C556.1 31.3 554.5 31.2 553.7 31.1 C552.9 31 552.2 30.6 551.8 30.3 C551.4 30 551 29.6 551.2 29.2 Z" fill="#fff" stroke="#000" stroke-width="1.1"/>
<path d="M505.9 103 C506.1 102.7 507 103.4 507.4 104.2 C507.9 105 508.6 107.2 508.6 108 C508.5 108.8 507.4 109.4 507 109.2 C506.7 108.9 506.5 107.5 506.3 106.5 C506.1 105.5 505.7 103.4 505.9 103 Z" fill="#222" stroke="none"/>
<rect x="308.6" y="175.1" width="1.6" height="1.4" fill="#111" transform="rotate(35 309.4 175.8)"/>
</g>
<rect x="307" y="22.7" width="256" height="162.5" fill="none" stroke="#111" stroke-width="0.8"/>
<text transform="translate(303.6 24.8) scale(0.8 1)" class="tk" text-anchor="end">20N</text>
<line x1="305.5" y1="22.7" x2="307" y2="22.7" stroke="#111" stroke-width="0.6"/>
<text transform="translate(303.6 45.1) scale(0.8 1)" class="tk" text-anchor="end">15N</text>
<line x1="305.5" y1="43" x2="307" y2="43" stroke="#111" stroke-width="0.6"/>
<text transform="translate(303.6 65.4) scale(0.8 1)" class="tk" text-anchor="end">10N</text>
<line x1="305.5" y1="63.3" x2="307" y2="63.3" stroke="#111" stroke-width="0.6"/>
<text transform="translate(303.6 85.7) scale(0.8 1)" class="tk" text-anchor="end">5N</text>
<line x1="305.5" y1="83.6" x2="307" y2="83.6" stroke="#111" stroke-width="0.6"/>
<text transform="translate(303.6 106) scale(0.8 1)" class="tk" text-anchor="end">EQ</text>
<line x1="305.5" y1="104" x2="307" y2="104" stroke="#111" stroke-width="0.6"/>
<text transform="translate(303.6 126.4) scale(0.8 1)" class="tk" text-anchor="end">5S</text>
<line x1="305.5" y1="124.3" x2="307" y2="124.3" stroke="#111" stroke-width="0.6"/>
<text transform="translate(303.6 146.7) scale(0.8 1)" class="tk" text-anchor="end">10S</text>
<line x1="305.5" y1="144.6" x2="307" y2="144.6" stroke="#111" stroke-width="0.6"/>
<text transform="translate(303.6 167) scale(0.8 1)" class="tk" text-anchor="end">15S</text>
<line x1="305.5" y1="164.9" x2="307" y2="164.9" stroke="#111" stroke-width="0.6"/>
<text transform="translate(303.6 187.3) scale(0.8 1)" class="tk" text-anchor="end">20S</text>
<line x1="305.5" y1="185.2" x2="307" y2="185.2" stroke="#111" stroke-width="0.6"/>
<text transform="translate(307.8 192.5) scale(0.8 1)" class="tk" text-anchor="middle">150W</text>
<line x1="307" y1="185.2" x2="307" y2="186.7" stroke="#111" stroke-width="0.6"/>
<text transform="translate(341.1 192.5) scale(0.8 1)" class="tk" text-anchor="middle">140W</text>
<line x1="341.1" y1="185.2" x2="341.1" y2="186.7" stroke="#111" stroke-width="0.6"/>
<text transform="translate(375.3 192.5) scale(0.8 1)" class="tk" text-anchor="middle">130W</text>
<line x1="375.3" y1="185.2" x2="375.3" y2="186.7" stroke="#111" stroke-width="0.6"/>
<text transform="translate(409.4 192.5) scale(0.8 1)" class="tk" text-anchor="middle">120W</text>
<line x1="409.4" y1="185.2" x2="409.4" y2="186.7" stroke="#111" stroke-width="0.6"/>
<text transform="translate(443.5 192.5) scale(0.8 1)" class="tk" text-anchor="middle">110W</text>
<line x1="443.5" y1="185.2" x2="443.5" y2="186.7" stroke="#111" stroke-width="0.6"/>
<text transform="translate(477.7 192.5) scale(0.8 1)" class="tk" text-anchor="middle">100W</text>
<line x1="477.7" y1="185.2" x2="477.7" y2="186.7" stroke="#111" stroke-width="0.6"/>
<text transform="translate(511.8 192.5) scale(0.8 1)" class="tk" text-anchor="middle">90W</text>
<line x1="511.8" y1="185.2" x2="511.8" y2="186.7" stroke="#111" stroke-width="0.6"/>
<text transform="translate(545.9 192.5) scale(0.8 1)" class="tk" text-anchor="middle">80W</text>
<line x1="545.9" y1="185.2" x2="545.9" y2="186.7" stroke="#111" stroke-width="0.6"/>
<text x="315.7" y="41.1" class="lag">LAG 4</text>
<text x="293.7" y="12.3" class="pl">B</text>
<clipPath id="cbB"><rect x="309.7" y="197.9" width="250.2" height="4.6" rx="2.6" ry="2.3"/></clipPath>
<g clip-path="url(#cbB)">
<rect x="309.7" y="197.9" width="33.8" height="4.6" fill="#96d2fa"/>
<rect x="343.5" y="197.9" width="36.1" height="4.6" fill="#b4f0fa"/>
<rect x="379.6" y="197.9" width="36.4" height="4.6" fill="#ffffff"/>
<rect x="416" y="197.9" width="36.3" height="4.6" fill="#ffe878"/>
<rect x="452.3" y="197.9" width="36.7" height="4.6" fill="#ffc03c"/>
<rect x="489" y="197.9" width="36.3" height="4.6" fill="#ffa000"/>
<rect x="525.3" y="197.9" width="34.6" height="4.6" fill="#ff6000"/>
</g>
<rect x="309.7" y="197.9" width="250.2" height="4.6" rx="2.6" ry="2.3" fill="none" stroke="#222" stroke-width="0.7"/>
<line x1="343.5" y1="197.9" x2="343.5" y2="202.5" stroke="#222" stroke-width="0.6"/>
<text x="344" y="209.1" class="cl" text-anchor="middle">−0.2</text>
<line x1="379.6" y1="197.9" x2="379.6" y2="202.5" stroke="#222" stroke-width="0.6"/>
<text x="380.1" y="209.1" class="cl" text-anchor="middle">−0.1</text>
<line x1="416" y1="197.9" x2="416" y2="202.5" stroke="#222" stroke-width="0.6"/>
<text x="416" y="209.1" class="cl" text-anchor="middle">0.1</text>
<line x1="452.3" y1="197.9" x2="452.3" y2="202.5" stroke="#222" stroke-width="0.6"/>
<text x="452.3" y="209.1" class="cl" text-anchor="middle">0.2</text>
<line x1="489" y1="197.9" x2="489" y2="202.5" stroke="#222" stroke-width="0.6"/>
<text x="489" y="209.1" class="cl" text-anchor="middle">0.3</text>
<line x1="525.3" y1="197.9" x2="525.3" y2="202.5" stroke="#222" stroke-width="0.6"/>
<text x="525.3" y="209.1" class="cl" text-anchor="middle">0.4</text>
<clipPath id="clipC"><rect x="16.6" y="242.7" width="256.3" height="163"/></clipPath>
<g clip-path="url(#clipC)">
<path d="M-4.6 267.2 C-1.6 248.5 8.8 267.2 13.7 267.2 C18.5 267.2 21.3 266.9 24.6 267.2 C28 267.5 30.7 268.3 33.7 269 C36.8 269.8 39.8 271 42.9 271.8 C45.9 272.5 48.7 273.2 52 273.6 C55.3 274.1 59.3 274.2 63 274.5 C66.6 274.8 70 275.2 73.9 275.4 C77.9 275.7 82.1 276 86.7 276 C91.3 276 96 275.7 101.3 275.4 C106.6 275.1 113.7 274.3 118.7 274.2 C123.8 274 127 274.2 131.5 274.5 C136.1 274.9 141.9 276.2 146.1 276.3 C150.4 276.5 153.4 275.7 157.1 275.4 C160.7 275.1 164.7 275 168 274.5 C171.4 274 174.1 273.2 177.2 272.3 C180.2 271.5 183.6 270.3 186.3 269.4 C189 268.6 191.6 268 193.6 267.2 C195.6 266.4 198 265.5 198.4 264.7 C198.8 263.8 195.3 262.7 196 262.1 C196.7 261.5 200.3 260.6 202.4 260.8 C204.5 261.1 206.8 262.6 208.8 263.6 C210.8 264.6 212 265.6 214.3 266.9 C216.5 268.1 219.9 269.6 222.5 270.9 C225.1 272.1 227.3 272.7 229.8 274.5 C232.2 276.3 234 278.8 237.1 281.8 C240.1 284.9 245 290.3 248 292.8 C251.1 295.2 252.9 296.3 255.4 296.4 C257.8 296.6 260.8 293.4 262.7 293.7 C264.5 294 265.7 295.4 266.3 298.3 C266.9 301.2 267.2 306.8 266.3 311 C265.4 315.3 262.4 321.3 260.8 323.8 C259.3 326.3 258.4 322.9 257.2 326 C256 329.1 252.9 335.1 253.5 342.4 C254.1 349.7 257.5 362.2 260.8 369.8 C264.2 377.4 271.3 381.8 273.6 388 C275.9 394.3 277.3 404 274.5 407.2 C271.8 410.4 259.9 408 257.2 407.2 C254.4 406.5 258.1 404.2 258.1 402.7 C258.1 401.1 257.9 399.8 257.2 398.1 C256.4 396.4 255 394.4 253.5 392.6 C252 390.8 249.7 389 248 387.1 C246.4 385.3 244.7 383.6 243.5 381.7 C242.3 379.7 241.4 377.5 240.7 375.3 C240.1 373 240.3 370.2 239.8 368 C239.4 365.7 239.1 363.1 238 361.6 C236.9 360 235 359 233.4 358.8 C231.9 358.7 230.4 359.6 228.9 360.7 C227.3 361.7 225.7 363.5 224.3 365.2 C222.9 366.9 222.2 368.9 220.7 370.7 C219.1 372.5 217.3 374.7 215.2 376.2 C213 377.6 210.9 378.5 207.9 379.3 C204.8 380 200.6 380.6 196.9 380.7 C193.3 380.9 189.6 380.6 186 380.4 C182.3 380.2 178 379.7 175 379.6 C172 379.6 170.7 379.5 168 379.8 C165.4 380.2 162 381.3 158.9 381.8 C155.9 382.4 155.9 382.9 149.8 383.3 C143.7 383.7 131.5 384.1 122.4 384 C113.3 384 101.6 383 95 382.9 C88.4 382.8 87.2 383.2 83 383.5 C78.9 383.7 74.5 384.1 70.3 384.4 C66 384.7 61.4 385.4 57.5 385.3 C53.5 385.2 49.9 384.5 46.5 384 C43.2 383.5 40.4 382.8 37.4 382.2 C34.3 381.6 32.2 380.9 28.3 380.4 C24.3 379.9 19.1 379.5 13.7 379.3 C8.2 379.1 -1.6 398 -4.6 379.3 C-7.7 360.6 -7.7 285.9 -4.6 267.2 Z" fill="#ffe878"/>
<path d="M-4.6 275.4 C-1.6 258.6 8.2 275.4 13.7 275.4 C19.1 275.4 24 275.3 28.3 275.4 C32.5 275.6 35.6 276 39.2 276.3 C42.9 276.7 46.2 277 50.2 277.3 C54.1 277.5 58.7 277.6 63 277.8 C67.2 278 71.5 278.3 75.7 278.5 C80 278.8 84.3 279.1 88.5 279.1 C92.8 279.1 97.2 278.8 101.3 278.5 C105.4 278.2 108.2 277.4 113.3 277.3 C118.3 277.1 125.4 277.4 131.5 277.8 C137.6 278.3 144.3 279.8 149.8 280 C155.3 280.2 159.8 279.7 164.4 279.1 C169 278.5 172.9 277.4 177.2 276.3 C181.4 275.3 187 274 190 272.7 C192.9 271.4 193 269.8 195.1 268.7 C197.2 267.5 200 266 202.4 265.8 C204.8 265.5 207.3 266.4 209.7 267.2 C212.1 268.1 214.7 269.8 217 270.9 C219.3 271.9 221.3 272.8 223.4 273.6 C225.5 274.4 227.5 273.9 229.8 275.4 C232.1 277 234 279.7 237.1 282.7 C240.1 285.8 245 291.3 248 293.7 C251.1 296.1 253.2 297.1 255.4 297.3 C257.5 297.6 259.3 294.7 260.8 295 C262.4 295.3 263.9 297.1 264.5 299.2 C265.1 301.2 264.8 304.8 264.5 307.4 C264.2 310 263.6 312.3 262.7 314.7 C261.7 317.1 260.1 319.6 259 322 C257.9 324.4 256.7 328 256.3 329.3 C255.8 330.6 256.7 328.6 256.3 329.6 C255.9 330.6 254.5 333.3 253.9 335.1 C253.3 336.9 253 338.4 252.6 340.6 C252.2 342.7 252.2 345.6 251.7 347.9 C251.2 350.2 250.5 352.6 249.9 354.3 C249.3 355.9 248.8 358.4 248 357.9 C247.3 357.5 246.2 353.7 245.3 351.5 C244.4 349.4 243.8 347.3 242.6 345.1 C241.4 343 239.8 340.5 238 338.7 C236.2 337 233.9 335.6 231.6 334.7 C229.3 333.8 226.7 334 224.3 333.3 C221.9 332.6 219.7 331.4 217 330.5 C214.3 329.7 211.2 328.8 207.9 328.1 C204.5 327.4 200.6 326.9 196.9 326.3 C193.3 325.7 189.6 325 186 324.5 C182.3 324 178 323.8 175 323.2 C172 322.6 171.6 321.7 168 321.1 C164.5 320.4 158.3 319.9 153.4 319.3 C148.6 318.7 143.7 318 138.8 317.4 C134 316.8 128.2 316.2 124.2 315.6 C120.3 315 118.9 314.2 115.1 313.8 C111.3 313.3 106 313.2 101.3 312.9 C96.6 312.6 91.9 312.1 86.7 312 C81.5 311.8 75.4 311.8 70.3 312 C65.1 312.1 60.5 312.6 55.7 312.9 C50.8 313.2 45.3 313.3 41 313.8 C36.8 314.2 33 314.8 30.1 315.6 C27.2 316.4 23.4 317.5 23.7 318.7 C24 319.9 28.7 321.8 31.9 322.9 C35.1 324.1 38.9 324.9 42.9 325.7 C46.8 326.4 50.5 327 55.7 327.5 C60.8 327.9 67.8 328.1 73.9 328.4 C80 328.7 85.3 329.1 92.2 329.3 C99 329.5 110 329.3 115 329.6 C120 329.9 116.6 330.7 122.4 331.1 C128.2 331.4 142.2 331.7 149.8 331.8 C157.4 331.9 163.5 331.6 168 331.8 C172.6 332 174.1 332.4 177.2 332.9 C180.2 333.4 182.5 334 186.3 334.7 C190.1 335.5 195.8 336.7 200 337.3 C204.2 337.9 208.1 337.8 211.5 338.4 C215 338.9 217.9 339.6 220.7 340.6 C223.4 341.5 225.9 342.7 228 344.2 C230 345.7 232.8 347.9 233.1 349.7 C233.4 351.5 231.2 353.3 229.8 355.2 C228.3 357 226 358.8 224.3 360.7 C222.6 362.5 221.4 364.3 219.7 366.1 C218.1 368 216.2 370.1 214.3 371.6 C212.3 373.1 210.8 374.4 207.9 375.3 C205 376.1 200.6 376.5 196.9 376.7 C193.3 377 189.6 376.8 186 376.7 C182.3 376.6 178 376.1 175 376.2 C172 376.2 172.2 376.8 168 377.1 C163.8 377.4 155.9 377.5 149.8 378 C143.7 378.5 137.6 379.4 131.5 379.8 C125.4 380.2 119.3 380.5 113.3 380.4 C107.2 380.3 100 379.3 95 379.3 C90 379.3 87.2 380.1 83 380.4 C78.9 380.7 74.5 380.7 70.3 381.1 C66 381.5 61 382.2 57.5 382.6 C54 383 51.1 383.5 49.3 383.5 C47.4 383.4 47.6 382.7 46.5 382.2 C45.5 381.7 44.7 381.2 42.9 380.7 C41 380.3 38 379.7 35.6 379.3 C33.1 378.8 31.9 378.4 28.3 378 C24.6 377.6 19.1 376.9 13.7 376.7 C8.2 376.5 -1.6 393.6 -4.6 376.7 C-7.7 359.8 -7.7 292.3 -4.6 275.4 Z" fill="#ffc03c"/>
<path d="M-4.6 354.3 C-1.6 351.3 8.5 354.2 13.7 354.3 C18.8 354.4 23.1 354.2 26.4 354.8 C29.8 355.4 32 356.6 33.7 357.9 C35.5 359.3 36.9 361.2 37 362.8 C37.2 364.5 36.1 366.6 34.7 368 C33.2 369.3 30.5 370 28.3 370.7 C26 371.4 23.4 371.8 21 372 C18.5 372.2 17.9 372 13.7 372 C9.4 372 -1.6 374.9 -4.6 372 C-7.7 369 -7.7 357.2 -4.6 354.3 Z" fill="#ffe878"/>
<path d="M247.1 363.4 C247.8 362.2 250.2 362.4 251.7 362.8 C253.2 363.3 254.9 364.7 256.3 366.1 C257.6 367.6 258.9 369.8 259.9 371.6 C261 373.4 262.3 375.4 262.7 377.1 C263.1 378.8 263.1 380.6 262.3 381.7 C261.5 382.7 259.7 383.5 258.1 383.5 C256.5 383.5 254.1 382.9 252.6 381.7 C251.1 380.4 249.8 378.2 249 376.2 C248.1 374.2 248 371.9 247.7 369.8 C247.4 367.7 246.5 364.5 247.1 363.4 Z" fill="#ffc03c"/>
<path d="M265.9 400.1 C265.9 399.5 267.6 398.8 269 398.6 C270.5 398.5 273.6 398.4 274.5 399 C275.4 399.6 275.4 401.7 274.5 402.3 C273.6 402.8 270.5 402.7 269 402.3 C267.6 401.9 265.9 400.7 265.9 400.1 Z" fill="#ffc03c"/>
<path d="M63 318.4 C63.6 318 68.6 317.9 70.3 317.4 C71.9 317 71.8 316.1 73 315.6 C74.2 315.1 75.9 314.3 77.6 314.3 C79.2 314.3 81.5 314.9 83 315.6 C84.6 316.3 85.9 317.3 86.7 318.4 C87.5 319.4 88.2 321.3 87.6 322 C87 322.7 84.7 322.5 83 322.4 C81.4 322.2 79.4 321.5 77.6 321.1 C75.7 320.7 73.9 320.5 72.1 320.2 C70.3 319.9 68.1 319.6 66.6 319.3 C65.1 319 62.3 318.7 63 318.4 Z" fill="#ffffff"/>
<path d="M91.8 322.9 C91.8 322.4 92.8 321.5 93.3 321.5 C93.8 321.5 94.7 322.4 94.7 322.9 C94.7 323.4 93.8 324.4 93.3 324.4 C92.8 324.4 91.8 323.4 91.8 322.9 Z" fill="#ffffff"/>
<path d="M95.9 325.3 C95.9 324.4 96.7 322.9 98.7 322 C100.6 321.1 104.7 320.2 107.8 319.6 C110.8 319 113.6 318.4 116.9 318.4 C120.3 318.3 124.5 318.8 127.9 319.3 C131.2 319.7 134.3 320.3 137 321.1 C139.7 321.9 142.9 322.9 144.3 323.8 C145.7 324.7 146.1 325.9 145.2 326.6 C144.3 327.2 141.7 327.5 138.8 327.8 C135.9 328.2 131.5 328.3 127.9 328.4 C124.2 328.5 120.6 328.5 116.9 328.4 C113.3 328.2 109 327.7 106 327.5 C102.9 327.3 100.3 327.5 98.7 327.1 C97 326.8 95.9 326.1 95.9 325.3 Z" fill="#ffffff"/>
<path d="M-4.6 281.8 C-1.6 277.2 8.8 282 13.7 281.8 C18.5 281.7 21.3 281.2 24.6 280.9 C28 280.7 30.1 280.3 33.7 280.4 C37.4 280.5 42.3 281.2 46.5 281.5 C50.8 281.8 55 282.1 59.3 282.2 C63.6 282.3 68.1 282 72.1 281.8 C76 281.6 79.7 281.2 83 280.9 C86.4 280.7 88.5 280.6 92.2 280.4 C95.8 280.2 99.6 279.5 105 279.6 C110.3 279.7 118.6 280.5 124.2 280.9 C129.9 281.3 134 281.7 138.8 282.2 C143.7 282.6 149.5 283 153.4 283.7 C157.4 284.3 160.1 285.7 162.6 285.8 C165 286 165.9 285.4 168 284.6 C170.2 283.7 172.3 282.1 175.4 280.9 C178.4 279.7 183.3 278.3 186.3 277.3 C189.3 276.3 190.9 275.9 193.3 274.9 C195.6 273.9 198.1 272 200.6 271.2 C203 270.5 205.1 270.1 207.9 270.5 C210.6 270.9 214.3 272.6 217 273.6 C219.7 274.6 222.2 275.4 224.3 276.3 C226.4 277.3 228 277.7 229.8 279.1 C231.6 280.5 233.4 282.7 235.3 284.6 C237.1 286.4 238.8 288.4 240.7 290 C242.7 291.7 245 293.7 247.1 294.6 C249.3 295.5 251.4 295.2 253.5 295.5 C255.7 295.8 258.4 295.5 259.9 296.4 C261.4 297.3 262.3 299.2 262.7 301 C263.1 302.8 262.6 305.4 262.3 307.4 C262 309.4 261.5 311 260.8 312.9 C260.1 314.7 258.9 316.7 258.1 318.4 C257.3 320 256.6 322.3 256.3 322.9 C256 323.5 257 322 256.3 321.9 C255.5 321.8 253.7 321.9 251.7 322.3 C249.7 322.7 246.8 323.2 244.4 324.1 C242 325 239.8 326.9 237.1 327.8 C234.3 328.7 230.7 329.4 228 329.6 C225.2 329.9 222.5 329.9 220.7 329.2 C218.8 328.6 219.1 326.9 217 326 C214.9 325 211.2 324.4 207.9 323.8 C204.5 323.2 200.6 322.7 196.9 322.3 C193.3 321.9 189.6 321.8 186 321.4 C182.3 321 177.4 320.8 175 320.1 C172.6 319.5 174.1 318 171.7 317.4 C169.3 316.8 164.4 316.8 160.7 316.5 C157.1 316.2 153.4 316 149.8 315.6 C146.1 315.2 142.5 314.8 138.8 314.3 C135.2 313.9 131.5 313.3 127.9 312.9 C124.2 312.5 120.6 312.3 116.9 312 C113.3 311.6 107.3 311.1 106 310.7 C104.6 310.3 110.3 310 108.6 309.6 C106.9 309.2 100.1 308.8 95.8 308.3 C91.6 307.8 87.3 307.1 83 306.5 C78.8 305.9 73 305.5 70.3 304.7 C67.5 303.8 66.3 302.5 66.6 301.6 C66.9 300.6 69.8 300.1 72.1 299.2 C74.4 298.3 78.6 297.3 80.3 296.1 C82 294.9 83.2 293 82.1 291.9 C81.1 290.7 77.1 289.6 73.9 289.1 C70.7 288.7 65.6 288.7 63 289.1 C60.3 289.6 59.2 290.3 57.8 291.9 C56.5 293.4 56 296.3 54.7 298.3 C53.5 300.2 52.8 302.1 50.2 303.7 C47.6 305.4 42.9 307.2 39.2 308.3 C35.6 309.4 32.5 309.9 28.3 310.1 C24 310.3 19.1 309.7 13.7 309.6 C8.2 309.5 -1.6 314.2 -4.6 309.6 C-7.7 305 -7.7 286.5 -4.6 281.8 Z" fill="#ffa000"/>
<path d="M214.3 285.5 C214.1 284.1 215.8 282.7 217 281.8 C218.2 280.9 220 280 221.6 280 C223.1 280 224.9 280.8 226.1 281.8 C227.3 282.9 228.6 285 228.9 286.4 C229.2 287.8 228.9 289.2 228 290 C227 290.9 225.1 291.3 223.4 291.3 C221.7 291.3 219.4 291 217.9 290 C216.4 289.1 214.4 286.8 214.3 285.5 Z" fill="#ffc03c"/>
<path d="M-4.6 330.5 C-1.6 328.2 8.2 330.7 13.7 330.5 C19.1 330.4 23.4 329.6 28.3 329.6 C33.1 329.6 38.3 330.2 42.9 330.5 C47.4 330.9 51.7 331.3 55.7 331.8 C59.6 332.3 64 333 66.6 333.6 C69.2 334.2 71.5 334.8 71.2 335.5 C70.9 336.2 67.4 337.1 64.8 337.8 C62.2 338.5 59.3 339 55.7 339.7 C52 340.3 46.8 340.9 42.9 341.5 C38.9 342.1 35.3 342.8 31.9 343.3 C28.6 343.8 25.8 344 22.8 344.2 C19.7 344.4 18.2 344.5 13.7 344.6 C9.1 344.6 -1.6 346.9 -4.6 344.6 C-7.7 342.2 -7.7 332.9 -4.6 330.5 Z" fill="#ffa000"/>
<path d="M49.3 353.3 C50.3 352.6 52.5 351.6 55.7 351.2 C58.8 350.7 63.9 350.8 68.4 350.6 C73 350.4 78.2 350.2 83 350.1 C87.9 349.9 91.7 349.6 97.7 349.7 C103.6 349.8 113.1 350.8 118.7 350.6 C124.4 350.5 127.6 349.5 131.5 348.8 C135.5 348 138.8 347 142.5 346 C146.1 345.1 150.4 344.2 153.4 343.3 C156.5 342.4 157.7 341.2 160.7 340.6 C163.8 340 167.4 339.8 171.7 339.7 C176 339.5 181.6 339.6 186.3 339.7 C191 339.7 195.8 340 200 340.2 C204.2 340.4 208.1 340.5 211.5 340.9 C215 341.4 218.1 341.8 220.7 342.8 C223.2 343.7 225.5 345.1 227 346.4 C228.6 347.7 229.8 349.3 229.8 350.6 C229.8 351.9 228.3 353 227 354.3 C225.8 355.5 224.2 356.5 222.5 357.9 C220.8 359.3 218.8 361.2 217 362.8 C215.2 364.5 213.3 366.5 211.5 368 C209.7 369.4 208.5 370.8 206 371.6 C203.6 372.5 200.3 372.8 196.9 373.1 C193.6 373.4 189.6 373.4 186 373.4 C182.3 373.4 178 373.1 175 373.1 C172 373 171.6 372.9 168 373.1 C164.5 373.2 157.7 373.5 153.4 373.8 C149.2 374.1 146.1 374.5 142.5 374.9 C138.8 375.3 135.5 375.9 131.5 376.2 C127.6 376.5 123 376.7 118.7 376.7 C114.5 376.7 109.9 376.5 106 376.2 C102 375.9 94.6 375.3 95 374.9 C95.4 374.5 107.6 374.3 108.6 373.8 C109.7 373.3 104 372.5 101.3 372 C98.6 371.5 95.2 371.2 92.2 370.9 C89.1 370.5 86.1 370.3 83 369.8 C80 369.3 77 368.7 73.9 368 C70.9 367.2 67.5 366.2 64.8 365.2 C62 364.2 59.6 363.2 57.5 362.1 C55.3 361 53.4 359.9 52 358.8 C50.6 357.7 49.7 356.5 49.3 355.5 C48.8 354.6 48.2 354.1 49.3 353.3 Z" fill="#ffa000"/>
<path d="M63 375.3 C63.6 374.7 66.9 374.1 70.3 373.8 C73.6 373.5 79.4 373.4 83 373.4 C86.7 373.4 90.4 373.5 92.2 373.8 C94 374.1 94.6 374.8 94 375.3 C93.4 375.7 91.3 376.4 88.5 376.7 C85.8 377.1 81.2 377.4 77.6 377.5 C73.9 377.5 69 377.5 66.6 377.1 C64.2 376.7 62.3 375.8 63 375.3 Z" fill="#ffa000"/>
<path d="M97.3 286 C97.3 285.6 97.2 285.2 98.7 285.1 C100.1 285 102.9 285.4 106 285.5 C109 285.6 113.3 285.6 116.9 285.8 C120.6 286.1 124.2 286.5 127.9 286.9 C131.5 287.3 135.2 287.7 138.8 288.2 C142.5 288.7 146.1 289.3 149.8 290 C153.4 290.8 157.1 291.7 160.7 292.8 C164.4 293.8 168 295.2 171.7 296.4 C175.4 297.7 179 299 182.7 300.1 C186.3 301.2 190.9 302.1 193.6 302.8 C196.3 303.6 196.4 304 198.7 304.7 C201.1 305.3 204.8 306 207.9 306.5 C210.9 306.9 214 306.9 217 307.4 C220 307.9 223.1 309.1 226.1 309.2 C229.2 309.4 232.5 308.8 235.3 308.3 C238 307.9 240.4 306.6 242.6 306.5 C244.7 306.3 247 306.3 248 307.4 C249.1 308.5 249 311 249 312.9 C249 314.7 248.8 317.2 248 318.4 C247.3 319.5 246.5 319.7 244.4 319.8 C242.3 320 238.3 319.5 235.3 319.3 C232.2 319 229.2 318.7 226.1 318.4 C223.1 318 220 317.7 217 317.4 C214 317.1 210.9 316.8 207.9 316.5 C204.8 316.2 201.1 316.1 198.7 315.6 C196.4 315.2 196.3 314.4 193.6 313.8 C190.9 313.2 186.3 312.4 182.7 312 C179 311.6 175.4 311.6 171.7 311.4 C168 311.3 164.4 311.1 160.7 311 C157.1 311 153.4 311 149.8 311 C146.1 311 141.6 311.1 138.8 311 C136.1 311 134.9 311.1 133.3 310.7 C131.8 310.2 130.9 309.3 129.7 308.3 C128.5 307.3 127.6 306.2 126 304.7 C124.5 303.1 122.7 301 120.6 299.2 C118.4 297.3 115.7 295.2 113.3 293.7 C110.8 292.2 108.4 291 106 290 C103.5 289 100.1 288.3 98.7 287.7 C97.2 287 97.3 286.5 97.3 286 Z" fill="#ff6000"/>
<path d="M179 285.8 C179.6 285.3 182.7 284.6 184.5 284.6 C186.3 284.5 188.9 285 190 285.5 C191 286 191.5 287.1 190.9 287.7 C190.3 288.2 188 288.8 186.3 288.8 C184.6 288.8 182 288.2 180.8 287.7 C179.6 287.2 178.4 286.4 179 285.8 Z" fill="#ff6000"/>
<path d="M86.7 358.8 C86.7 358 88.5 356.8 90.4 356.1 C92.2 355.4 94.9 355.1 97.7 354.8 C100.4 354.5 103.3 354.1 106.8 354.3 C110.3 354.4 114.6 355.4 118.7 355.5 C122.9 355.6 127.6 354.8 131.5 354.8 C135.5 354.8 139.9 355 142.5 355.5 C145.1 356.1 147 357.1 147 357.9 C147 358.8 145.1 360.2 142.5 360.7 C139.9 361.1 135.5 360.6 131.5 360.7 C127.6 360.7 122.9 361 118.7 361 C114.6 361.1 110.3 360.9 106.8 361 C103.3 361.1 100.4 361.6 97.7 361.6 C94.9 361.6 92.2 361.5 90.4 361 C88.5 360.6 86.7 359.6 86.7 358.8 Z" fill="#ff6000"/>
<path d="M174.4 350.6 C174.1 349.7 175 347.8 176.3 347 C177.6 346.1 179.5 346 182.3 345.7 C185.1 345.4 189.6 345.2 193.3 345.1 C196.9 345 200.6 345 204.2 345.1 C207.9 345.3 212.4 345.5 215.2 346 C217.9 346.6 219.6 347.4 220.7 348.2 C221.7 349.1 222.2 350.2 221.6 351.2 C221 352.1 218.7 353 217 353.7 C215.3 354.4 213.7 355 211.5 355.5 C209.4 356.1 206.7 356.5 204.2 357 C201.8 357.5 199 358.8 196.9 358.8 C194.8 358.9 193 358.1 191.4 357.4 C189.9 356.6 189.3 355 187.8 354.3 C186.3 353.5 184.4 353.3 182.3 353 C180.2 352.7 175.7 352.5 175 352.4 C174.3 352.3 178.2 352.7 178.1 352.4 C178 352.1 174.7 351.5 174.4 350.6 Z" fill="#ff6000"/>
<path d="M82.1 261.7 C82.1 260.4 84.1 258.5 85.8 257.2 C87.5 255.9 89.9 254.8 92.2 254.1 C94.5 253.3 97.4 252.7 99.5 252.6 C101.6 252.5 103.7 252.9 105 253.5 C106.2 254.1 107.2 255 107.2 256.3 C107.2 257.5 106.2 259.5 105 260.8 C103.7 262.1 101.6 263.2 99.5 263.9 C97.4 264.7 94.5 265.2 92.2 265.4 C89.9 265.6 87.5 265.6 85.8 265 C84.1 264.4 82.1 263 82.1 261.7 Z" fill="#b4f0fa"/>
<path d="M248.6 260.5 C248.9 260.5 249.4 260.9 249.6 262 C249.8 263.1 249.9 265.8 249.8 267 C249.7 268.2 249.3 269.7 249 269.5 C248.7 269.3 248.4 267.2 248.2 266 C248 264.8 247.9 262.9 248 262 C248.1 261.1 248.3 260.5 248.6 260.5 Z" fill="#b4f0fa"/>
<pattern id="dotC" x="16.09" y="243.11" width="3.417" height="4.075" patternUnits="userSpaceOnUse"><rect x="1.31" y="1.64" width="0.8" height="0.8" fill="#1e1205" fill-opacity="0.95"/></pattern>
<pattern id="crsC" x="16.09" y="243.11" width="3.417" height="4.075" patternUnits="userSpaceOnUse"><path d="M0.16 2.04 H3.26 M1.71 0.29 V3.79" stroke="#140800" stroke-width="0.95" stroke-opacity="0.88" fill="none"/></pattern>
<clipPath id="drC0"><rect x="10" y="279.1" width="44.9" height="29"/></clipPath>
<clipPath id="dcC0"><path d="M-4.6 281.8 C-1.6 277.2 8.8 282 13.7 281.8 C18.5 281.7 21.3 281.2 24.6 280.9 C28 280.7 30.1 280.3 33.7 280.4 C37.4 280.5 42.3 281.2 46.5 281.5 C50.8 281.8 55 282.1 59.3 282.2 C63.6 282.3 68.1 282 72.1 281.8 C76 281.6 79.7 281.2 83 280.9 C86.4 280.7 88.5 280.6 92.2 280.4 C95.8 280.2 99.6 279.5 105 279.6 C110.3 279.7 118.6 280.5 124.2 280.9 C129.9 281.3 134 281.7 138.8 282.2 C143.7 282.6 149.5 283 153.4 283.7 C157.4 284.3 160.1 285.7 162.6 285.8 C165 286 165.9 285.4 168 284.6 C170.2 283.7 172.3 282.1 175.4 280.9 C178.4 279.7 183.3 278.3 186.3 277.3 C189.3 276.3 190.9 275.9 193.3 274.9 C195.6 273.9 198.1 272 200.6 271.2 C203 270.5 205.1 270.1 207.9 270.5 C210.6 270.9 214.3 272.6 217 273.6 C219.7 274.6 222.2 275.4 224.3 276.3 C226.4 277.3 228 277.7 229.8 279.1 C231.6 280.5 233.4 282.7 235.3 284.6 C237.1 286.4 238.8 288.4 240.7 290 C242.7 291.7 245 293.7 247.1 294.6 C249.3 295.5 251.4 295.2 253.5 295.5 C255.7 295.8 258.4 295.5 259.9 296.4 C261.4 297.3 262.3 299.2 262.7 301 C263.1 302.8 262.6 305.4 262.3 307.4 C262 309.4 261.5 311 260.8 312.9 C260.1 314.7 258.9 316.7 258.1 318.4 C257.3 320 256.6 322.3 256.3 322.9 C256 323.5 257 322 256.3 321.9 C255.5 321.8 253.7 321.9 251.7 322.3 C249.7 322.7 246.8 323.2 244.4 324.1 C242 325 239.8 326.9 237.1 327.8 C234.3 328.7 230.7 329.4 228 329.6 C225.2 329.9 222.5 329.9 220.7 329.2 C218.8 328.6 219.1 326.9 217 326 C214.9 325 211.2 324.4 207.9 323.8 C204.5 323.2 200.6 322.7 196.9 322.3 C193.3 321.9 189.6 321.8 186 321.4 C182.3 321 177.4 320.8 175 320.1 C172.6 319.5 174.1 318 171.7 317.4 C169.3 316.8 164.4 316.8 160.7 316.5 C157.1 316.2 153.4 316 149.8 315.6 C146.1 315.2 142.5 314.8 138.8 314.3 C135.2 313.9 131.5 313.3 127.9 312.9 C124.2 312.5 120.6 312.3 116.9 312 C113.3 311.6 107.3 311.1 106 310.7 C104.6 310.3 110.3 310 108.6 309.6 C106.9 309.2 100.1 308.8 95.8 308.3 C91.6 307.8 87.3 307.1 83 306.5 C78.8 305.9 73 305.5 70.3 304.7 C67.5 303.8 66.3 302.5 66.6 301.6 C66.9 300.6 69.8 300.1 72.1 299.2 C74.4 298.3 78.6 297.3 80.3 296.1 C82 294.9 83.2 293 82.1 291.9 C81.1 290.7 77.1 289.6 73.9 289.1 C70.7 288.7 65.6 288.7 63 289.1 C60.3 289.6 59.2 290.3 57.8 291.9 C56.5 293.4 56 296.3 54.7 298.3 C53.5 300.2 52.8 302.1 50.2 303.7 C47.6 305.4 42.9 307.2 39.2 308.3 C35.6 309.4 32.5 309.9 28.3 310.1 C24 310.3 19.1 309.7 13.7 309.6 C8.2 309.5 -1.6 314.2 -4.6 309.6 C-7.7 305 -7.7 286.5 -4.6 281.8 Z"/></clipPath>
<g clip-path="url(#drC0)"><rect x="16.6" y="242.7" width="256.3" height="163" fill="url(#dotC)" clip-path="url(#dcC0)"/></g>
<clipPath id="drC1"><rect x="10" y="283.7" width="109.6" height="4"/></clipPath>
<clipPath id="dcC1"><path d="M-4.6 281.8 C-1.6 277.2 8.8 282 13.7 281.8 C18.5 281.7 21.3 281.2 24.6 280.9 C28 280.7 30.1 280.3 33.7 280.4 C37.4 280.5 42.3 281.2 46.5 281.5 C50.8 281.8 55 282.1 59.3 282.2 C63.6 282.3 68.1 282 72.1 281.8 C76 281.6 79.7 281.2 83 280.9 C86.4 280.7 88.5 280.6 92.2 280.4 C95.8 280.2 99.6 279.5 105 279.6 C110.3 279.7 118.6 280.5 124.2 280.9 C129.9 281.3 134 281.7 138.8 282.2 C143.7 282.6 149.5 283 153.4 283.7 C157.4 284.3 160.1 285.7 162.6 285.8 C165 286 165.9 285.4 168 284.6 C170.2 283.7 172.3 282.1 175.4 280.9 C178.4 279.7 183.3 278.3 186.3 277.3 C189.3 276.3 190.9 275.9 193.3 274.9 C195.6 273.9 198.1 272 200.6 271.2 C203 270.5 205.1 270.1 207.9 270.5 C210.6 270.9 214.3 272.6 217 273.6 C219.7 274.6 222.2 275.4 224.3 276.3 C226.4 277.3 228 277.7 229.8 279.1 C231.6 280.5 233.4 282.7 235.3 284.6 C237.1 286.4 238.8 288.4 240.7 290 C242.7 291.7 245 293.7 247.1 294.6 C249.3 295.5 251.4 295.2 253.5 295.5 C255.7 295.8 258.4 295.5 259.9 296.4 C261.4 297.3 262.3 299.2 262.7 301 C263.1 302.8 262.6 305.4 262.3 307.4 C262 309.4 261.5 311 260.8 312.9 C260.1 314.7 258.9 316.7 258.1 318.4 C257.3 320 256.6 322.3 256.3 322.9 C256 323.5 257 322 256.3 321.9 C255.5 321.8 253.7 321.9 251.7 322.3 C249.7 322.7 246.8 323.2 244.4 324.1 C242 325 239.8 326.9 237.1 327.8 C234.3 328.7 230.7 329.4 228 329.6 C225.2 329.9 222.5 329.9 220.7 329.2 C218.8 328.6 219.1 326.9 217 326 C214.9 325 211.2 324.4 207.9 323.8 C204.5 323.2 200.6 322.7 196.9 322.3 C193.3 321.9 189.6 321.8 186 321.4 C182.3 321 177.4 320.8 175 320.1 C172.6 319.5 174.1 318 171.7 317.4 C169.3 316.8 164.4 316.8 160.7 316.5 C157.1 316.2 153.4 316 149.8 315.6 C146.1 315.2 142.5 314.8 138.8 314.3 C135.2 313.9 131.5 313.3 127.9 312.9 C124.2 312.5 120.6 312.3 116.9 312 C113.3 311.6 107.3 311.1 106 310.7 C104.6 310.3 110.3 310 108.6 309.6 C106.9 309.2 100.1 308.8 95.8 308.3 C91.6 307.8 87.3 307.1 83 306.5 C78.8 305.9 73 305.5 70.3 304.7 C67.5 303.8 66.3 302.5 66.6 301.6 C66.9 300.6 69.8 300.1 72.1 299.2 C74.4 298.3 78.6 297.3 80.3 296.1 C82 294.9 83.2 293 82.1 291.9 C81.1 290.7 77.1 289.6 73.9 289.1 C70.7 288.7 65.6 288.7 63 289.1 C60.3 289.6 59.2 290.3 57.8 291.9 C56.5 293.4 56 296.3 54.7 298.3 C53.5 300.2 52.8 302.1 50.2 303.7 C47.6 305.4 42.9 307.2 39.2 308.3 C35.6 309.4 32.5 309.9 28.3 310.1 C24 310.3 19.1 309.7 13.7 309.6 C8.2 309.5 -1.6 314.2 -4.6 309.6 C-7.7 305 -7.7 286.5 -4.6 281.8 Z"/></clipPath>
<g clip-path="url(#drC1)"><rect x="16.6" y="242.7" width="256.3" height="163" fill="url(#dotC)" clip-path="url(#dcC1)"/></g>
<clipPath id="drC2"><rect x="88.2" y="279.1" width="287.1" height="68.5"/></clipPath>
<clipPath id="dcC2"><path d="M-4.6 281.8 C-1.6 277.2 8.8 282 13.7 281.8 C18.5 281.7 21.3 281.2 24.6 280.9 C28 280.7 30.1 280.3 33.7 280.4 C37.4 280.5 42.3 281.2 46.5 281.5 C50.8 281.8 55 282.1 59.3 282.2 C63.6 282.3 68.1 282 72.1 281.8 C76 281.6 79.7 281.2 83 280.9 C86.4 280.7 88.5 280.6 92.2 280.4 C95.8 280.2 99.6 279.5 105 279.6 C110.3 279.7 118.6 280.5 124.2 280.9 C129.9 281.3 134 281.7 138.8 282.2 C143.7 282.6 149.5 283 153.4 283.7 C157.4 284.3 160.1 285.7 162.6 285.8 C165 286 165.9 285.4 168 284.6 C170.2 283.7 172.3 282.1 175.4 280.9 C178.4 279.7 183.3 278.3 186.3 277.3 C189.3 276.3 190.9 275.9 193.3 274.9 C195.6 273.9 198.1 272 200.6 271.2 C203 270.5 205.1 270.1 207.9 270.5 C210.6 270.9 214.3 272.6 217 273.6 C219.7 274.6 222.2 275.4 224.3 276.3 C226.4 277.3 228 277.7 229.8 279.1 C231.6 280.5 233.4 282.7 235.3 284.6 C237.1 286.4 238.8 288.4 240.7 290 C242.7 291.7 245 293.7 247.1 294.6 C249.3 295.5 251.4 295.2 253.5 295.5 C255.7 295.8 258.4 295.5 259.9 296.4 C261.4 297.3 262.3 299.2 262.7 301 C263.1 302.8 262.6 305.4 262.3 307.4 C262 309.4 261.5 311 260.8 312.9 C260.1 314.7 258.9 316.7 258.1 318.4 C257.3 320 256.6 322.3 256.3 322.9 C256 323.5 257 322 256.3 321.9 C255.5 321.8 253.7 321.9 251.7 322.3 C249.7 322.7 246.8 323.2 244.4 324.1 C242 325 239.8 326.9 237.1 327.8 C234.3 328.7 230.7 329.4 228 329.6 C225.2 329.9 222.5 329.9 220.7 329.2 C218.8 328.6 219.1 326.9 217 326 C214.9 325 211.2 324.4 207.9 323.8 C204.5 323.2 200.6 322.7 196.9 322.3 C193.3 321.9 189.6 321.8 186 321.4 C182.3 321 177.4 320.8 175 320.1 C172.6 319.5 174.1 318 171.7 317.4 C169.3 316.8 164.4 316.8 160.7 316.5 C157.1 316.2 153.4 316 149.8 315.6 C146.1 315.2 142.5 314.8 138.8 314.3 C135.2 313.9 131.5 313.3 127.9 312.9 C124.2 312.5 120.6 312.3 116.9 312 C113.3 311.6 107.3 311.1 106 310.7 C104.6 310.3 110.3 310 108.6 309.6 C106.9 309.2 100.1 308.8 95.8 308.3 C91.6 307.8 87.3 307.1 83 306.5 C78.8 305.9 73 305.5 70.3 304.7 C67.5 303.8 66.3 302.5 66.6 301.6 C66.9 300.6 69.8 300.1 72.1 299.2 C74.4 298.3 78.6 297.3 80.3 296.1 C82 294.9 83.2 293 82.1 291.9 C81.1 290.7 77.1 289.6 73.9 289.1 C70.7 288.7 65.6 288.7 63 289.1 C60.3 289.6 59.2 290.3 57.8 291.9 C56.5 293.4 56 296.3 54.7 298.3 C53.5 300.2 52.8 302.1 50.2 303.7 C47.6 305.4 42.9 307.2 39.2 308.3 C35.6 309.4 32.5 309.9 28.3 310.1 C24 310.3 19.1 309.7 13.7 309.6 C8.2 309.5 -1.6 314.2 -4.6 309.6 C-7.7 305 -7.7 286.5 -4.6 281.8 Z"/></clipPath>
<g clip-path="url(#drC2)"><rect x="16.6" y="242.7" width="256.3" height="163" fill="url(#dotC)" clip-path="url(#dcC2)"/></g>
<clipPath id="dcC3"><path d="M-4.6 330.5 C-1.6 328.2 8.2 330.7 13.7 330.5 C19.1 330.4 23.4 329.6 28.3 329.6 C33.1 329.6 38.3 330.2 42.9 330.5 C47.4 330.9 51.7 331.3 55.7 331.8 C59.6 332.3 64 333 66.6 333.6 C69.2 334.2 71.5 334.8 71.2 335.5 C70.9 336.2 67.4 337.1 64.8 337.8 C62.2 338.5 59.3 339 55.7 339.7 C52 340.3 46.8 340.9 42.9 341.5 C38.9 342.1 35.3 342.8 31.9 343.3 C28.6 343.8 25.8 344 22.8 344.2 C19.7 344.4 18.2 344.5 13.7 344.6 C9.1 344.6 -1.6 346.9 -4.6 344.6 C-7.7 342.2 -7.7 332.9 -4.6 330.5 Z"/></clipPath>
<rect x="16.6" y="242.7" width="256.3" height="163" fill="url(#dotC)" clip-path="url(#dcC3)"/>
<clipPath id="dcC4"><path d="M49.3 353.3 C50.3 352.6 52.5 351.6 55.7 351.2 C58.8 350.7 63.9 350.8 68.4 350.6 C73 350.4 78.2 350.2 83 350.1 C87.9 349.9 91.7 349.6 97.7 349.7 C103.6 349.8 113.1 350.8 118.7 350.6 C124.4 350.5 127.6 349.5 131.5 348.8 C135.5 348 138.8 347 142.5 346 C146.1 345.1 150.4 344.2 153.4 343.3 C156.5 342.4 157.7 341.2 160.7 340.6 C163.8 340 167.4 339.8 171.7 339.7 C176 339.5 181.6 339.6 186.3 339.7 C191 339.7 195.8 340 200 340.2 C204.2 340.4 208.1 340.5 211.5 340.9 C215 341.4 218.1 341.8 220.7 342.8 C223.2 343.7 225.5 345.1 227 346.4 C228.6 347.7 229.8 349.3 229.8 350.6 C229.8 351.9 228.3 353 227 354.3 C225.8 355.5 224.2 356.5 222.5 357.9 C220.8 359.3 218.8 361.2 217 362.8 C215.2 364.5 213.3 366.5 211.5 368 C209.7 369.4 208.5 370.8 206 371.6 C203.6 372.5 200.3 372.8 196.9 373.1 C193.6 373.4 189.6 373.4 186 373.4 C182.3 373.4 178 373.1 175 373.1 C172 373 171.6 372.9 168 373.1 C164.5 373.2 157.7 373.5 153.4 373.8 C149.2 374.1 146.1 374.5 142.5 374.9 C138.8 375.3 135.5 375.9 131.5 376.2 C127.6 376.5 123 376.7 118.7 376.7 C114.5 376.7 109.9 376.5 106 376.2 C102 375.9 94.6 375.3 95 374.9 C95.4 374.5 107.6 374.3 108.6 373.8 C109.7 373.3 104 372.5 101.3 372 C98.6 371.5 95.2 371.2 92.2 370.9 C89.1 370.5 86.1 370.3 83 369.8 C80 369.3 77 368.7 73.9 368 C70.9 367.2 67.5 366.2 64.8 365.2 C62 364.2 59.6 363.2 57.5 362.1 C55.3 361 53.4 359.9 52 358.8 C50.6 357.7 49.7 356.5 49.3 355.5 C48.8 354.6 48.2 354.1 49.3 353.3 Z"/></clipPath>
<rect x="16.6" y="242.7" width="256.3" height="163" fill="url(#dotC)" clip-path="url(#dcC4)"/>
<path d="M16.09 302.19h3.42M17.8 300.31v3.78M16.09 306.27h3.42M17.8 304.38v3.78M16.09 338.87h3.42M17.8 336.98v3.78M19.5 302.19h3.42M21.21 300.31v3.78M19.5 338.87h3.42M21.21 336.98v3.78M22.92 302.19h3.42M24.63 300.31v3.78M22.92 338.87h3.42M24.63 336.98v3.78M26.34 302.19h3.42M28.05 300.31v3.78M26.34 306.27h3.42M28.05 304.38v3.78M29.76 298.12h3.42M31.47 296.23v3.78M29.76 302.19h3.42M31.47 300.31v3.78M29.76 334.8h3.42M31.47 332.91v3.78M33.17 334.8h3.42M34.88 332.91v3.78M36.59 334.8h3.42M38.3 332.91v3.78M77.6 359.25h3.42M79.31 357.36v3.78M81.02 285.89h3.42M82.73 284.01v3.78M81.02 359.25h3.42M82.73 357.36v3.78M84.43 285.89h3.42M86.14 284.01v3.78M84.43 359.25h3.42M86.14 357.36v3.78M87.85 285.89h3.42M89.56 284.01v3.78M87.85 355.17h3.42M89.56 353.28v3.78M87.85 359.25h3.42M89.56 357.36v3.78M91.27 285.89h3.42M92.98 284.01v3.78M91.27 359.25h3.42M92.98 357.36v3.78M94.69 285.89h3.42M96.39 284.01v3.78M94.69 359.25h3.42M96.39 357.36v3.78M94.69 363.32h3.42M96.39 361.43v3.78M98.1 285.89h3.42M99.81 284.01v3.78M98.1 359.25h3.42M99.81 357.36v3.78M101.52 285.89h3.42M103.23 284.01v3.78M101.52 355.17h3.42M103.23 353.28v3.78M101.52 359.25h3.42M103.23 357.36v3.78M101.52 363.32h3.42M103.23 361.43v3.78M104.94 285.89h3.42M106.65 284.01v3.78M104.94 289.97h3.42M106.65 288.08v3.78M104.94 359.25h3.42M106.65 357.36v3.78M104.94 363.32h3.42M106.65 361.43v3.78M108.36 285.89h3.42M110.06 284.01v3.78M108.36 289.97h3.42M110.06 288.08v3.78M108.36 355.17h3.42M110.06 353.28v3.78M108.36 359.25h3.42M110.06 357.36v3.78M108.36 367.39h3.42M110.06 365.51v3.78M111.77 285.89h3.42M113.48 284.01v3.78M111.77 289.97h3.42M113.48 288.08v3.78M111.77 294.04h3.42M113.48 292.16v3.78M111.77 359.25h3.42M113.48 357.36v3.78M115.19 285.89h3.42M116.9 284.01v3.78M115.19 289.97h3.42M116.9 288.08v3.78M115.19 294.04h3.42M116.9 292.16v3.78M115.19 359.25h3.42M116.9 357.36v3.78M115.19 363.32h3.42M116.9 361.43v3.78M118.61 289.97h3.42M120.32 288.08v3.78M118.61 294.04h3.42M120.32 292.16v3.78M118.61 298.12h3.42M120.32 296.23v3.78M118.61 359.25h3.42M120.32 357.36v3.78M122.02 289.97h3.42M123.73 288.08v3.78M122.02 294.04h3.42M123.73 292.16v3.78M122.02 298.12h3.42M123.73 296.23v3.78M122.02 302.19h3.42M123.73 300.31v3.78M122.02 359.25h3.42M123.73 357.36v3.78M122.02 367.39h3.42M123.73 365.51v3.78M125.44 289.97h3.42M127.15 288.08v3.78M125.44 294.04h3.42M127.15 292.16v3.78M125.44 298.12h3.42M127.15 296.23v3.78M125.44 302.19h3.42M127.15 300.31v3.78M125.44 306.27h3.42M127.15 304.38v3.78M125.44 355.17h3.42M127.15 353.28v3.78M125.44 359.25h3.42M127.15 357.36v3.78M128.86 289.97h3.42M130.57 288.08v3.78M128.86 294.04h3.42M130.57 292.16v3.78M128.86 298.12h3.42M130.57 296.23v3.78M128.86 302.19h3.42M130.57 300.31v3.78M128.86 306.27h3.42M130.57 304.38v3.78M128.86 355.17h3.42M130.57 353.28v3.78M128.86 359.25h3.42M130.57 357.36v3.78M128.86 363.32h3.42M130.57 361.43v3.78M132.28 289.97h3.42M133.99 288.08v3.78M132.28 294.04h3.42M133.99 292.16v3.78M132.28 298.12h3.42M133.99 296.23v3.78M132.28 302.19h3.42M133.99 300.31v3.78M132.28 306.27h3.42M133.99 304.38v3.78M132.28 310.35h3.42M133.99 308.46v3.78M132.28 359.25h3.42M133.99 357.36v3.78M132.28 363.32h3.42M133.99 361.43v3.78M132.28 371.47h3.42M133.99 369.58v3.78M135.69 289.97h3.42M137.4 288.08v3.78M135.69 294.04h3.42M137.4 292.16v3.78M135.69 298.12h3.42M137.4 296.23v3.78M135.69 302.19h3.42M137.4 300.31v3.78M135.69 306.27h3.42M137.4 304.38v3.78M135.69 310.35h3.42M137.4 308.46v3.78M135.69 355.17h3.42M137.4 353.28v3.78M135.69 359.25h3.42M137.4 357.36v3.78M139.11 289.97h3.42M140.82 288.08v3.78M139.11 294.04h3.42M140.82 292.16v3.78M139.11 298.12h3.42M140.82 296.23v3.78M139.11 302.19h3.42M140.82 300.31v3.78M139.11 306.27h3.42M140.82 304.38v3.78M139.11 310.35h3.42M140.82 308.46v3.78M139.11 359.25h3.42M140.82 357.36v3.78M142.53 294.04h3.42M144.24 292.16v3.78M142.53 298.12h3.42M144.24 296.23v3.78M142.53 302.19h3.42M144.24 300.31v3.78M142.53 306.27h3.42M144.24 304.38v3.78M142.53 310.35h3.42M144.24 308.46v3.78M142.53 355.17h3.42M144.24 353.28v3.78M142.53 359.25h3.42M144.24 357.36v3.78M145.95 294.04h3.42M147.65 292.16v3.78M145.95 298.12h3.42M147.65 296.23v3.78M145.95 302.19h3.42M147.65 300.31v3.78M145.95 306.27h3.42M147.65 304.38v3.78M145.95 310.35h3.42M147.65 308.46v3.78M145.95 359.25h3.42M147.65 357.36v3.78M145.95 363.32h3.42M147.65 361.43v3.78M149.36 294.04h3.42M151.07 292.16v3.78M149.36 298.12h3.42M151.07 296.23v3.78M149.36 302.19h3.42M151.07 300.31v3.78M149.36 306.27h3.42M151.07 304.38v3.78M149.36 310.35h3.42M151.07 308.46v3.78M152.78 294.04h3.42M154.49 292.16v3.78M152.78 298.12h3.42M154.49 296.23v3.78M152.78 302.19h3.42M154.49 300.31v3.78M152.78 306.27h3.42M154.49 304.38v3.78M152.78 310.35h3.42M154.49 308.46v3.78M156.2 294.04h3.42M157.91 292.16v3.78M156.2 298.12h3.42M157.91 296.23v3.78M156.2 302.19h3.42M157.91 300.31v3.78M156.2 306.27h3.42M157.91 304.38v3.78M156.2 310.35h3.42M157.91 308.46v3.78M159.62 294.04h3.42M161.32 292.16v3.78M159.62 298.12h3.42M161.32 296.23v3.78M159.62 302.19h3.42M161.32 300.31v3.78M159.62 306.27h3.42M161.32 304.38v3.78M159.62 310.35h3.42M161.32 308.46v3.78M163.03 294.04h3.42M164.74 292.16v3.78M163.03 298.12h3.42M164.74 296.23v3.78M163.03 302.19h3.42M164.74 300.31v3.78M163.03 306.27h3.42M164.74 304.38v3.78M163.03 310.35h3.42M164.74 308.46v3.78M163.03 363.32h3.42M164.74 361.43v3.78M166.45 298.12h3.42M168.16 296.23v3.78M166.45 302.19h3.42M168.16 300.31v3.78M166.45 306.27h3.42M168.16 304.38v3.78M166.45 310.35h3.42M168.16 308.46v3.78M166.45 314.42h3.42M168.16 312.53v3.78M169.87 298.12h3.42M171.58 296.23v3.78M169.87 302.19h3.42M171.58 300.31v3.78M169.87 306.27h3.42M171.58 304.38v3.78M169.87 310.35h3.42M171.58 308.46v3.78M169.87 314.42h3.42M171.58 312.53v3.78M169.87 363.32h3.42M171.58 361.43v3.78M173.28 298.12h3.42M174.99 296.23v3.78M173.28 302.19h3.42M174.99 300.31v3.78M173.28 306.27h3.42M174.99 304.38v3.78M173.28 310.35h3.42M174.99 308.46v3.78M173.28 314.42h3.42M174.99 312.53v3.78M173.28 347.02h3.42M174.99 345.13v3.78M173.28 351.1h3.42M174.99 349.21v3.78M176.7 285.89h3.42M178.41 284.01v3.78M176.7 289.97h3.42M178.41 288.08v3.78M176.7 294.04h3.42M178.41 292.16v3.78M176.7 298.12h3.42M178.41 296.23v3.78M176.7 302.19h3.42M178.41 300.31v3.78M176.7 306.27h3.42M178.41 304.38v3.78M176.7 310.35h3.42M178.41 308.46v3.78M176.7 314.42h3.42M178.41 312.53v3.78M176.7 347.02h3.42M178.41 345.13v3.78M176.7 351.1h3.42M178.41 349.21v3.78M176.7 363.32h3.42M178.41 361.43v3.78M180.12 285.89h3.42M181.83 284.01v3.78M180.12 302.19h3.42M181.83 300.31v3.78M180.12 306.27h3.42M181.83 304.38v3.78M180.12 310.35h3.42M181.83 308.46v3.78M180.12 314.42h3.42M181.83 312.53v3.78M180.12 347.02h3.42M181.83 345.13v3.78M180.12 351.1h3.42M181.83 349.21v3.78M180.12 355.17h3.42M181.83 353.28v3.78M183.54 285.89h3.42M185.25 284.01v3.78M183.54 302.19h3.42M185.25 300.31v3.78M183.54 306.27h3.42M185.25 304.38v3.78M183.54 310.35h3.42M185.25 308.46v3.78M183.54 314.42h3.42M185.25 312.53v3.78M183.54 347.02h3.42M185.25 345.13v3.78M183.54 351.1h3.42M185.25 349.21v3.78M183.54 355.17h3.42M185.25 353.28v3.78M183.54 363.32h3.42M185.25 361.43v3.78M186.95 285.89h3.42M188.66 284.01v3.78M186.95 302.19h3.42M188.66 300.31v3.78M186.95 306.27h3.42M188.66 304.38v3.78M186.95 310.35h3.42M188.66 308.46v3.78M186.95 314.42h3.42M188.66 312.53v3.78M186.95 347.02h3.42M188.66 345.13v3.78M186.95 351.1h3.42M188.66 349.21v3.78M186.95 355.17h3.42M188.66 353.28v3.78M186.95 359.25h3.42M188.66 357.36v3.78M186.95 363.32h3.42M188.66 361.43v3.78M190.37 281.82h3.42M192.08 279.93v3.78M190.37 302.19h3.42M192.08 300.31v3.78M190.37 306.27h3.42M192.08 304.38v3.78M190.37 310.35h3.42M192.08 308.46v3.78M190.37 314.42h3.42M192.08 312.53v3.78M190.37 347.02h3.42M192.08 345.13v3.78M190.37 351.1h3.42M192.08 349.21v3.78M190.37 355.17h3.42M192.08 353.28v3.78M190.37 363.32h3.42M192.08 361.43v3.78M193.79 277.75h3.42M195.5 275.86v3.78M193.79 281.82h3.42M195.5 279.93v3.78M193.79 306.27h3.42M195.5 304.38v3.78M193.79 310.35h3.42M195.5 308.46v3.78M193.79 314.42h3.42M195.5 312.53v3.78M193.79 347.02h3.42M195.5 345.13v3.78M193.79 351.1h3.42M195.5 349.21v3.78M193.79 355.17h3.42M195.5 353.28v3.78M197.21 281.82h3.42M198.91 279.93v3.78M197.21 306.27h3.42M198.91 304.38v3.78M197.21 310.35h3.42M198.91 308.46v3.78M197.21 314.42h3.42M198.91 312.53v3.78M197.21 318.5h3.42M198.91 316.61v3.78M197.21 347.02h3.42M198.91 345.13v3.78M197.21 351.1h3.42M198.91 349.21v3.78M197.21 355.17h3.42M198.91 353.28v3.78M197.21 363.32h3.42M198.91 361.43v3.78M200.62 281.82h3.42M202.33 279.93v3.78M200.62 306.27h3.42M202.33 304.38v3.78M200.62 310.35h3.42M202.33 308.46v3.78M200.62 314.42h3.42M202.33 312.53v3.78M200.62 347.02h3.42M202.33 345.13v3.78M200.62 351.1h3.42M202.33 349.21v3.78M200.62 355.17h3.42M202.33 353.28v3.78M200.62 359.25h3.42M202.33 357.36v3.78M204.04 302.19h3.42M205.75 300.31v3.78M204.04 306.27h3.42M205.75 304.38v3.78M204.04 310.35h3.42M205.75 308.46v3.78M204.04 314.42h3.42M205.75 312.53v3.78M204.04 347.02h3.42M205.75 345.13v3.78M204.04 351.1h3.42M205.75 349.21v3.78M204.04 355.17h3.42M205.75 353.28v3.78M207.46 273.67h3.42M209.17 271.78v3.78M207.46 306.27h3.42M209.17 304.38v3.78M207.46 310.35h3.42M209.17 308.46v3.78M207.46 314.42h3.42M209.17 312.53v3.78M207.46 347.02h3.42M209.17 345.13v3.78M207.46 351.1h3.42M209.17 349.21v3.78M207.46 355.17h3.42M209.17 353.28v3.78M210.88 273.67h3.42M212.58 271.78v3.78M210.88 302.19h3.42M212.58 300.31v3.78M210.88 306.27h3.42M212.58 304.38v3.78M210.88 310.35h3.42M212.58 308.46v3.78M210.88 314.42h3.42M212.58 312.53v3.78M210.88 347.02h3.42M212.58 345.13v3.78M210.88 351.1h3.42M212.58 349.21v3.78M210.88 355.17h3.42M212.58 353.28v3.78M214.29 310.35h3.42M216 308.46v3.78M214.29 314.42h3.42M216 312.53v3.78M214.29 318.5h3.42M216 316.61v3.78M214.29 347.02h3.42M216 345.13v3.78M214.29 351.1h3.42M216 349.21v3.78M214.29 355.17h3.42M216 353.28v3.78M217.71 310.35h3.42M219.42 308.46v3.78M217.71 314.42h3.42M219.42 312.53v3.78M217.71 318.5h3.42M219.42 316.61v3.78M217.71 322.57h3.42M219.42 320.68v3.78M217.71 347.02h3.42M219.42 345.13v3.78M217.71 351.1h3.42M219.42 349.21v3.78M217.71 355.17h3.42M219.42 353.28v3.78M221.13 273.67h3.42M222.84 271.78v3.78M221.13 310.35h3.42M222.84 308.46v3.78M221.13 314.42h3.42M222.84 312.53v3.78M221.13 318.5h3.42M222.84 316.61v3.78M224.54 310.35h3.42M226.25 308.46v3.78M224.54 314.42h3.42M226.25 312.53v3.78M224.54 318.5h3.42M226.25 316.61v3.78M227.96 281.82h3.42M229.67 279.93v3.78M227.96 310.35h3.42M229.67 308.46v3.78M227.96 314.42h3.42M229.67 312.53v3.78M227.96 318.5h3.42M229.67 316.61v3.78M231.38 285.89h3.42M233.09 284.01v3.78M231.38 289.97h3.42M233.09 288.08v3.78M231.38 310.35h3.42M233.09 308.46v3.78M231.38 314.42h3.42M233.09 312.53v3.78M231.38 318.5h3.42M233.09 316.61v3.78M234.8 294.04h3.42M236.51 292.16v3.78M234.8 310.35h3.42M236.51 308.46v3.78M234.8 314.42h3.42M236.51 312.53v3.78M234.8 318.5h3.42M236.51 316.61v3.78M238.21 310.35h3.42M239.92 308.46v3.78M238.21 314.42h3.42M239.92 312.53v3.78M238.21 318.5h3.42M239.92 316.61v3.78M238.21 322.57h3.42M239.92 320.68v3.78M238.21 330.72h3.42M239.92 328.83v3.78M238.21 334.8h3.42M239.92 332.91v3.78M241.63 310.35h3.42M243.34 308.46v3.78M241.63 314.42h3.42M243.34 312.53v3.78M241.63 318.5h3.42M243.34 316.61v3.78M241.63 338.87h3.42M243.34 336.98v3.78M245.05 302.19h3.42M246.76 300.31v3.78M245.05 310.35h3.42M246.76 308.46v3.78M245.05 314.42h3.42M246.76 312.53v3.78M245.05 318.5h3.42M246.76 316.61v3.78M255.3 302.19h3.42M257.01 300.31v3.78" stroke="#160a00" stroke-width="0.95" stroke-opacity="0.8" fill="none"/>
<line x1="50.8" y1="242.7" x2="50.8" y2="405.7" class="gr"/>
<line x1="84.9" y1="242.7" x2="84.9" y2="405.7" class="gr"/>
<line x1="119.1" y1="242.7" x2="119.1" y2="405.7" class="gr"/>
<line x1="153.3" y1="242.7" x2="153.3" y2="405.7" class="gr"/>
<line x1="187.5" y1="242.7" x2="187.5" y2="405.7" class="gr"/>
<line x1="221.6" y1="242.7" x2="221.6" y2="405.7" class="gr"/>
<line x1="255.8" y1="242.7" x2="255.8" y2="405.7" class="gr"/>
<line x1="16.6" y1="263.1" x2="272.9" y2="263.1" class="gr"/>
<line x1="16.6" y1="283.4" x2="272.9" y2="283.4" class="gr"/>
<line x1="16.6" y1="303.8" x2="272.9" y2="303.8" class="gr"/>
<line x1="16.6" y1="324.2" x2="272.9" y2="324.2" class="gr"/>
<line x1="16.6" y1="344.6" x2="272.9" y2="344.6" class="gr"/>
<line x1="16.6" y1="364.9" x2="272.9" y2="364.9" class="gr"/>
<line x1="16.6" y1="385.3" x2="272.9" y2="385.3" class="gr"/>
<path d="M160.9 234.2 C157.6 234.9 165.1 240.1 165.7 241 C166.4 241.8 167 242.1 167.6 242.7 C168.3 243.3 171.4 245.9 172.4 246.7 C173.5 247.5 176.8 249.8 178.2 250.5 C179.5 251.3 184.3 253.7 185.8 254.4 C187.4 255.1 192.1 257.1 193.5 257.6 C194.9 258.2 199.2 260 200.2 260.1 C201.3 260.3 203.3 258.9 204 258.8 C204.8 258.7 207 258.8 207.9 259.2 C208.7 259.6 211.7 262.3 212.7 263 C213.6 263.8 216.5 266.2 217.4 266.9 C218.4 267.5 221.2 269.2 222.2 269.7 C223.3 270.3 227 271.7 228 272.2 C228.9 272.8 231.1 274.7 231.8 275.5 C232.5 276.3 234.1 279.3 234.7 280.3 C235.3 281.3 236.9 284.3 237.6 285.1 C238.2 285.9 240.5 287.4 241.4 288 C242.3 288.5 245.2 289.8 246.2 290.3 C247.1 290.8 250.3 292.3 251 292.8 C251.7 293.2 252.9 294.8 253.3 294.7 C253.6 294.6 254.5 292.4 254.8 291.8 C255.1 291.2 255.9 289.4 256.3 288.9 C256.8 288.4 258.4 287.1 259 287 C259.6 286.9 261.5 287.6 262.1 288 C262.6 288.4 264 290.3 264.4 290.8 C264.8 291.4 265.9 293 265.9 293.7 C265.9 294.5 264.9 297.6 264.8 298.5 C264.6 299.5 264 302.4 264 303.3 C264 304.3 264.5 307.3 264.4 308.1 C264.2 309 262.9 311.2 262.5 312 C262 312.7 260.1 315 259.6 315.8 C259.1 316.6 257.4 319.2 257.3 319.6 C257.1 320.1 258.1 319.9 258.1 320.2 C258 320.5 256.7 322.2 256.3 322.9 C256 323.6 254.7 326 254.4 326.7 C254.1 327.5 253.2 329.9 253.3 330.6 C253.3 331.2 254.5 333 254.8 333.5 C255.1 333.9 256.5 335 256.3 335.4 C256.2 335.7 253.4 336.4 253.3 336.7 C253.1 337 254.9 338.2 254.8 338.6 C254.7 339.1 252.3 340.6 251.9 341.1 C251.5 341.7 250.7 343.3 250.6 344 C250.5 344.7 250.8 347.1 251 347.8 C251.2 348.6 252.1 350.9 252.5 351.7 C252.9 352.5 254.3 355 254.8 355.9 C255.3 356.8 257.1 359.4 257.7 360.3 C258.2 361.3 259.6 364.4 260.2 365.5 C260.7 366.6 262.3 369.8 262.8 370.9 C263.4 371.9 264.8 375.2 265.3 376.2 C265.8 377.3 267.3 380.5 267.8 381.4 C268.3 382.4 269.6 385.1 270.1 385.8 C270.6 386.6 271.8 387.9 272.8 388.5 C273.8 389.1 277.9 391.6 279.7 392 C281.5 392.3 290 403.2 291.2 392 C292.3 380.8 292.8 291.5 291.2 280.3 C289.6 269.1 276.7 279.9 274.9 279.9 C273.1 279.9 273.3 280.3 273 280.7 C272.7 281 272 282.5 271.7 283.2 C271.3 283.8 270.2 286.3 269.7 287 C269.3 287.7 267.9 290.3 267.2 290.3 C266.6 290.3 264.2 287.5 263.4 287 C262.6 286.5 260.4 285.2 259.6 285.1 C258.8 285 256.6 285.8 255.8 286 C254.9 286.3 251.8 287.7 251 287.6 C250.1 287.5 247.8 285.7 247.1 285.1 C246.5 284.5 244.7 282.1 244.3 281.3 C243.8 280.4 243 277.4 242.9 276.5 C242.8 275.5 243.2 272.6 243.3 271.7 C243.4 270.7 244.2 267.8 244.3 266.9 C244.3 266 244.1 263.3 243.7 262.6 C243.3 262 241.3 260.5 240.4 260.1 C239.5 259.8 235.8 259.2 234.7 259.2 C233.5 259.1 229.8 259.7 228.9 259.6 C228 259.5 225.9 258.8 225.7 258.2 C225.4 257.6 226.3 254.5 226.4 253.4 C226.6 252.4 227.4 248.7 227.6 247.7 C227.8 246.6 227.9 244 228 242.7 C228 241.3 229 235.1 228 234.2 C226.9 233.4 218.5 233.4 217.4 234.2 C216.4 235.1 217.6 241.5 217.4 242.7 C217.3 243.9 216.6 245.5 216.1 246.1 C215.6 246.7 213.5 248.3 212.7 248.6 C211.8 248.9 208.8 249.3 207.9 249.2 C206.9 249.1 203.8 248.1 203.1 247.7 C202.3 247.2 200.6 245.3 200.2 244.8 C199.8 244.3 199.3 243.7 199.3 242.7 C199.2 241.6 203.1 235.1 199.3 234.2 C195.4 233.4 164.3 233.6 160.9 234.2 Z" fill="none" stroke="#fff" stroke-width="4.0" stroke-linejoin="round"/>
<path d="M160.9 234.2 C157.6 234.9 165.1 240.1 165.7 241 C166.4 241.8 167 242.1 167.6 242.7 C168.3 243.3 171.4 245.9 172.4 246.7 C173.5 247.5 176.8 249.8 178.2 250.5 C179.5 251.3 184.3 253.7 185.8 254.4 C187.4 255.1 192.1 257.1 193.5 257.6 C194.9 258.2 199.2 260 200.2 260.1 C201.3 260.3 203.3 258.9 204 258.8 C204.8 258.7 207 258.8 207.9 259.2 C208.7 259.6 211.7 262.3 212.7 263 C213.6 263.8 216.5 266.2 217.4 266.9 C218.4 267.5 221.2 269.2 222.2 269.7 C223.3 270.3 227 271.7 228 272.2 C228.9 272.8 231.1 274.7 231.8 275.5 C232.5 276.3 234.1 279.3 234.7 280.3 C235.3 281.3 236.9 284.3 237.6 285.1 C238.2 285.9 240.5 287.4 241.4 288 C242.3 288.5 245.2 289.8 246.2 290.3 C247.1 290.8 250.3 292.3 251 292.8 C251.7 293.2 252.9 294.8 253.3 294.7 C253.6 294.6 254.5 292.4 254.8 291.8 C255.1 291.2 255.9 289.4 256.3 288.9 C256.8 288.4 258.4 287.1 259 287 C259.6 286.9 261.5 287.6 262.1 288 C262.6 288.4 264 290.3 264.4 290.8 C264.8 291.4 265.9 293 265.9 293.7 C265.9 294.5 264.9 297.6 264.8 298.5 C264.6 299.5 264 302.4 264 303.3 C264 304.3 264.5 307.3 264.4 308.1 C264.2 309 262.9 311.2 262.5 312 C262 312.7 260.1 315 259.6 315.8 C259.1 316.6 257.4 319.2 257.3 319.6 C257.1 320.1 258.1 319.9 258.1 320.2 C258 320.5 256.7 322.2 256.3 322.9 C256 323.6 254.7 326 254.4 326.7 C254.1 327.5 253.2 329.9 253.3 330.6 C253.3 331.2 254.5 333 254.8 333.5 C255.1 333.9 256.5 335 256.3 335.4 C256.2 335.7 253.4 336.4 253.3 336.7 C253.1 337 254.9 338.2 254.8 338.6 C254.7 339.1 252.3 340.6 251.9 341.1 C251.5 341.7 250.7 343.3 250.6 344 C250.5 344.7 250.8 347.1 251 347.8 C251.2 348.6 252.1 350.9 252.5 351.7 C252.9 352.5 254.3 355 254.8 355.9 C255.3 356.8 257.1 359.4 257.7 360.3 C258.2 361.3 259.6 364.4 260.2 365.5 C260.7 366.6 262.3 369.8 262.8 370.9 C263.4 371.9 264.8 375.2 265.3 376.2 C265.8 377.3 267.3 380.5 267.8 381.4 C268.3 382.4 269.6 385.1 270.1 385.8 C270.6 386.6 271.8 387.9 272.8 388.5 C273.8 389.1 277.9 391.6 279.7 392 C281.5 392.3 290 403.2 291.2 392 C292.3 380.8 292.8 291.5 291.2 280.3 C289.6 269.1 276.7 279.9 274.9 279.9 C273.1 279.9 273.3 280.3 273 280.7 C272.7 281 272 282.5 271.7 283.2 C271.3 283.8 270.2 286.3 269.7 287 C269.3 287.7 267.9 290.3 267.2 290.3 C266.6 290.3 264.2 287.5 263.4 287 C262.6 286.5 260.4 285.2 259.6 285.1 C258.8 285 256.6 285.8 255.8 286 C254.9 286.3 251.8 287.7 251 287.6 C250.1 287.5 247.8 285.7 247.1 285.1 C246.5 284.5 244.7 282.1 244.3 281.3 C243.8 280.4 243 277.4 242.9 276.5 C242.8 275.5 243.2 272.6 243.3 271.7 C243.4 270.7 244.2 267.8 244.3 266.9 C244.3 266 244.1 263.3 243.7 262.6 C243.3 262 241.3 260.5 240.4 260.1 C239.5 259.8 235.8 259.2 234.7 259.2 C233.5 259.1 229.8 259.7 228.9 259.6 C228 259.5 225.9 258.8 225.7 258.2 C225.4 257.6 226.3 254.5 226.4 253.4 C226.6 252.4 227.4 248.7 227.6 247.7 C227.8 246.6 227.9 244 228 242.7 C228 241.3 229 235.1 228 234.2 C226.9 233.4 218.5 233.4 217.4 234.2 C216.4 235.1 217.6 241.5 217.4 242.7 C217.3 243.9 216.6 245.5 216.1 246.1 C215.6 246.7 213.5 248.3 212.7 248.6 C211.8 248.9 208.8 249.3 207.9 249.2 C206.9 249.1 203.8 248.1 203.1 247.7 C202.3 247.2 200.6 245.3 200.2 244.8 C199.8 244.3 199.3 243.7 199.3 242.7 C199.2 241.6 203.1 235.1 199.3 234.2 C195.4 233.4 164.3 233.6 160.9 234.2 Z" class="land"/>
<path d="M236 274.9 C236.3 274.8 237 275.2 237.6 275.7 C238.1 276.2 238.9 277.4 239.1 278 C239.3 278.6 239 279.1 238.7 279.1 C238.4 279.2 237.6 278.8 237.2 278.4 C236.7 277.9 236.2 277 236 276.5 C235.8 275.9 235.8 275 236 274.9 Z" fill="#fff" stroke="none"/>
<path d="M261.1 249.2 C261.3 248.8 262 248.2 262.8 248.1 C263.6 247.9 265.1 248.1 265.9 248.4 C266.7 248.8 267.7 249.5 267.8 250 C267.9 250.4 267.4 250.9 266.7 251.1 C266 251.3 264.4 251.3 263.6 251.1 C262.8 251 262.1 250.7 261.7 250.4 C261.3 250 260.9 249.6 261.1 249.2 Z" fill="#fff" stroke="#000" stroke-width="1.1"/>
<path d="M215.7 323.3 C215.9 322.9 216.8 323.6 217.3 324.4 C217.7 325.3 218.5 327.4 218.4 328.3 C218.3 329.1 217.3 329.7 216.9 329.4 C216.5 329.2 216.3 327.8 216.1 326.7 C215.9 325.7 215.5 323.7 215.7 323.3 Z" fill="#222" stroke="none"/>
<rect x="18.2" y="395.6" width="1.6" height="1.4" fill="#111" transform="rotate(35 19 396.3)"/>
</g>
<rect x="16.6" y="242.7" width="256.3" height="163" fill="none" stroke="#111" stroke-width="0.8"/>
<text transform="translate(13.2 244.8) scale(0.8 1)" class="tk" text-anchor="end">20N</text>
<line x1="15.1" y1="242.7" x2="16.6" y2="242.7" stroke="#111" stroke-width="0.6"/>
<text transform="translate(13.2 265.2) scale(0.8 1)" class="tk" text-anchor="end">15N</text>
<line x1="15.1" y1="263.1" x2="16.6" y2="263.1" stroke="#111" stroke-width="0.6"/>
<text transform="translate(13.2 285.6) scale(0.8 1)" class="tk" text-anchor="end">10N</text>
<line x1="15.1" y1="283.4" x2="16.6" y2="283.4" stroke="#111" stroke-width="0.6"/>
<text transform="translate(13.2 305.9) scale(0.8 1)" class="tk" text-anchor="end">5N</text>
<line x1="15.1" y1="303.8" x2="16.6" y2="303.8" stroke="#111" stroke-width="0.6"/>
<text transform="translate(13.2 326.3) scale(0.8 1)" class="tk" text-anchor="end">EQ</text>
<line x1="15.1" y1="324.2" x2="16.6" y2="324.2" stroke="#111" stroke-width="0.6"/>
<text transform="translate(13.2 346.7) scale(0.8 1)" class="tk" text-anchor="end">5S</text>
<line x1="15.1" y1="344.6" x2="16.6" y2="344.6" stroke="#111" stroke-width="0.6"/>
<text transform="translate(13.2 367.1) scale(0.8 1)" class="tk" text-anchor="end">10S</text>
<line x1="15.1" y1="364.9" x2="16.6" y2="364.9" stroke="#111" stroke-width="0.6"/>
<text transform="translate(13.2 387.4) scale(0.8 1)" class="tk" text-anchor="end">15S</text>
<line x1="15.1" y1="385.3" x2="16.6" y2="385.3" stroke="#111" stroke-width="0.6"/>
<text transform="translate(13.2 407.8) scale(0.8 1)" class="tk" text-anchor="end">20S</text>
<line x1="15.1" y1="405.7" x2="16.6" y2="405.7" stroke="#111" stroke-width="0.6"/>
<text transform="translate(17.4 413) scale(0.8 1)" class="tk" text-anchor="middle">150W</text>
<line x1="16.6" y1="405.7" x2="16.6" y2="407.2" stroke="#111" stroke-width="0.6"/>
<text transform="translate(50.8 413) scale(0.8 1)" class="tk" text-anchor="middle">140W</text>
<line x1="50.8" y1="405.7" x2="50.8" y2="407.2" stroke="#111" stroke-width="0.6"/>
<text transform="translate(84.9 413) scale(0.8 1)" class="tk" text-anchor="middle">130W</text>
<line x1="84.9" y1="405.7" x2="84.9" y2="407.2" stroke="#111" stroke-width="0.6"/>
<text transform="translate(119.1 413) scale(0.8 1)" class="tk" text-anchor="middle">120W</text>
<line x1="119.1" y1="405.7" x2="119.1" y2="407.2" stroke="#111" stroke-width="0.6"/>
<text transform="translate(153.3 413) scale(0.8 1)" class="tk" text-anchor="middle">110W</text>
<line x1="153.3" y1="405.7" x2="153.3" y2="407.2" stroke="#111" stroke-width="0.6"/>
<text transform="translate(187.5 413) scale(0.8 1)" class="tk" text-anchor="middle">100W</text>
<line x1="187.5" y1="405.7" x2="187.5" y2="407.2" stroke="#111" stroke-width="0.6"/>
<text transform="translate(221.6 413) scale(0.8 1)" class="tk" text-anchor="middle">90W</text>
<line x1="221.6" y1="405.7" x2="221.6" y2="407.2" stroke="#111" stroke-width="0.6"/>
<text transform="translate(255.8 413) scale(0.8 1)" class="tk" text-anchor="middle">80W</text>
<line x1="255.8" y1="405.7" x2="255.8" y2="407.2" stroke="#111" stroke-width="0.6"/>
<text x="22.7" y="259.6" class="lag">LAG 20</text>
<text x="0.1" y="232.3" class="pl">C</text>
<clipPath id="cbC"><rect x="18.9" y="418.9" width="251.5" height="4.6" rx="2.6" ry="2.3"/></clipPath>
<g clip-path="url(#cbC)">
<rect x="18.9" y="418.9" width="33.5" height="4.6" fill="#96d2fa"/>
<rect x="52.4" y="418.9" width="37" height="4.6" fill="#b4f0fa"/>
<rect x="89.4" y="418.9" width="36.7" height="4.6" fill="#ffffff"/>
<rect x="126.1" y="418.9" width="37.1" height="4.6" fill="#ffe878"/>
<rect x="163.2" y="418.9" width="36.6" height="4.6" fill="#ffc03c"/>
<rect x="199.8" y="418.9" width="36.5" height="4.6" fill="#ffa000"/>
<rect x="236.3" y="418.9" width="34.1" height="4.6" fill="#ff6000"/>
</g>
<rect x="18.9" y="418.9" width="251.5" height="4.6" rx="2.6" ry="2.3" fill="none" stroke="#222" stroke-width="0.7"/>
<line x1="52.4" y1="418.9" x2="52.4" y2="423.5" stroke="#222" stroke-width="0.6"/>
<text x="52.9" y="430.1" class="cl" text-anchor="middle">−0.2</text>
<line x1="89.4" y1="418.9" x2="89.4" y2="423.5" stroke="#222" stroke-width="0.6"/>
<text x="89.9" y="430.1" class="cl" text-anchor="middle">−0.1</text>
<line x1="126.1" y1="418.9" x2="126.1" y2="423.5" stroke="#222" stroke-width="0.6"/>
<text x="126.1" y="430.1" class="cl" text-anchor="middle">0.1</text>
<line x1="163.2" y1="418.9" x2="163.2" y2="423.5" stroke="#222" stroke-width="0.6"/>
<text x="163.2" y="430.1" class="cl" text-anchor="middle">0.2</text>
<line x1="199.8" y1="418.9" x2="199.8" y2="423.5" stroke="#222" stroke-width="0.6"/>
<text x="199.8" y="430.1" class="cl" text-anchor="middle">0.3</text>
<line x1="236.3" y1="418.9" x2="236.3" y2="423.5" stroke="#222" stroke-width="0.6"/>
<text x="236.3" y="430.1" class="cl" text-anchor="middle">0.4</text>
<clipPath id="clipD"><rect x="306.8" y="242.7" width="256.2" height="163"/></clipPath>
<g clip-path="url(#clipD)">
<path d="M285.4 267.2 C289 248.6 301.9 267.2 306.8 267.2 C311.6 267.2 311.8 266.9 314.6 267.2 C317.4 267.5 320.4 268.3 323.7 269 C327.1 269.8 331 271 334.7 271.8 C338.3 272.5 341.7 273.2 345.7 273.6 C349.6 274.1 353.9 274.2 358.4 274.5 C363 274.8 368.2 275.3 373 275.4 C377.9 275.6 383.2 275.6 387.7 275.4 C392.1 275.2 395.2 274.5 399.6 274.2 C404 273.9 409.3 273.5 414.2 273.6 C419.1 273.7 424 274.1 428.8 274.5 C433.7 275 438.6 275.9 443.4 276.3 C448.3 276.8 455 277.4 458 277.3 C461.1 277.1 460.2 276.3 461.7 275.4 C463.2 274.5 464.7 272.8 467.2 271.8 C469.6 270.7 473.6 269.8 476.3 269 C479 268.3 481.6 267.9 483.6 267.2 C485.6 266.5 488 265.5 488.4 264.7 C488.8 263.8 485.3 262.7 486 262.1 C486.7 261.5 490.3 260.6 492.4 260.8 C494.5 261.1 496.8 262.6 498.8 263.6 C500.8 264.6 502 265.6 504.3 266.9 C506.5 268.1 509.9 269.6 512.5 270.9 C515.1 272.1 517.3 272.7 519.8 274.5 C522.2 276.3 524 278.8 527.1 281.8 C530.1 284.9 535 290.3 538 292.8 C541.1 295.2 542.9 296.3 545.4 296.4 C547.8 296.6 550.8 293.4 552.7 293.7 C554.5 294 555.7 295.4 556.3 298.3 C556.9 301.2 557.2 306.8 556.3 311 C555.4 315.3 552.4 321.3 550.8 323.8 C549.3 326.3 548.4 322.9 547.2 326 C546 329.1 543.8 336.6 543.5 342.4 C543.2 348.2 544.1 356.4 545.4 360.7 C546.6 364.9 549.3 365.5 550.8 368 C552.4 370.4 553.7 372.8 554.5 375.3 C555.2 377.7 555.7 380.7 555.4 382.6 C555.1 384.4 552.5 385.2 552.7 386.2 C552.8 387.2 554.5 388.2 556.3 388.4 C558.1 388.7 562.2 384.5 563.6 387.7 C565 390.8 567.6 404 564.5 407.2 C561.5 410.5 548.8 408.3 545.4 407.2 C541.9 406.2 543.9 403.1 543.9 400.8 C543.9 398.6 545.7 396 545.4 393.9 C545 391.8 542.9 389.7 541.7 388.4 C540.5 387.1 539.1 387.3 538 386.2 C537 385.1 536.2 383.5 535.3 381.7 C534.5 379.8 533.4 377.4 532.9 375.3 C532.5 373.1 533.1 370.8 532.6 368.9 C532.1 366.9 531 364.9 529.8 363.4 C528.6 361.9 526.9 360.3 525.3 359.7 C523.6 359.1 521.6 359.1 519.8 359.7 C518 360.3 515.8 361.7 514.3 363.4 C512.8 365.1 512 367.7 510.7 369.8 C509.3 371.9 507.9 374.5 506.1 376.2 C504.3 377.9 502 378.9 499.7 379.8 C497.4 380.7 495.1 381.2 492.4 381.7 C489.7 382.1 486.3 382.4 483.3 382.6 C480.2 382.7 477.2 382.6 474.1 382.6 C471.1 382.6 467.7 382.7 465 382.6 C462.3 382.4 462.2 381.6 458 381.8 C453.8 382.1 445.9 383.5 439.8 384 C433.7 384.5 427.6 384.7 421.5 384.8 C415.4 384.8 409.3 384.5 403.3 384.4 C397.2 384.3 390 384.1 385 384 C380 384 378.1 384 373 384 C368 384 360.3 384.1 354.8 384 C349.3 383.9 344.4 383.8 340.2 383.5 C335.9 383.2 332.9 382.7 329.2 382.2 C325.6 381.7 322 380.9 318.3 380.4 C314.5 379.8 312.2 379.2 306.8 378.9 C301.3 378.7 289 397.5 285.4 378.9 C281.8 360.3 281.8 285.8 285.4 267.2 Z" fill="#ffe878"/>
<path d="M328 317.7 C328.2 316.9 329.6 315.4 331 314.6 C332.4 313.8 333.6 313.3 336.5 312.7 C339.4 312.1 342.6 311.3 348.7 311 C354.8 310.7 364.9 310.7 373 311 C381.1 311.3 389.3 312 397.4 312.7 C405.5 313.4 414.6 314.5 421.7 315.1 C428.8 315.8 434.4 316 440 316.6 C445.6 317.2 449.7 317.9 455 318.5 C460.3 319.1 466.2 319.8 472 320.5 C477.8 321.2 485.3 322 490 323 C494.7 324 497.2 325.2 500 326.5 C502.8 327.8 504.3 329.4 507 331 C509.7 332.6 513 334.4 516 336 C519 337.6 522.5 338.8 525.3 340.6 C528.1 342.4 530.5 344.9 532.6 347 C534.7 349.1 536.6 351.5 538 353.3 C539.4 355.1 539.9 356.8 540.8 357.9 C541.7 359 543.4 358.9 543.5 359.7 C543.6 360.5 542.8 362.6 541.7 362.5 C540.6 362.4 538.6 360.2 537.1 358.8 C535.6 357.4 534.6 356.1 532.6 354.3 C530.6 352.5 527.7 349.9 525.3 347.9 C522.9 345.9 520.4 343.9 518 342.4 C515.6 340.9 513.5 339.7 510.7 338.7 C507.9 337.7 505.2 337.1 501.5 336.5 C497.8 335.9 492.9 335.5 488.7 335.1 C484.4 334.7 479.9 334.5 476 334.2 C472.1 333.9 471 333.4 465 333.3 C459 333.2 447.2 333.7 440 333.6 C432.8 333.5 428.8 333.1 421.7 332.9 C414.6 332.6 403.5 332.4 397.4 332.1 C391.3 331.8 389.3 331.7 385.2 331.2 C381.1 330.7 377.1 329.8 373 329.2 C368.9 328.6 364.9 328.1 360.9 327.3 C356.8 326.5 352.8 325.3 348.7 324.3 C344.6 323.3 339.6 322.2 336.5 321.4 C333.4 320.6 331.4 320.1 330 319.5 C328.6 318.9 327.8 318.5 328 317.7 Z" fill="#ffffff"/>
<path d="M538.4 358.1 C538.5 357.4 539.8 356.5 540.6 356.6 C541.4 356.8 542.9 358 543.2 358.8 C543.5 359.6 543 361 542.4 361.4 C541.9 361.7 540.5 361.6 539.9 361 C539.2 360.5 538.3 358.8 538.4 358.1 Z" fill="#ffffff"/>
<path d="M285.4 275.4 C289 269.2 301.3 275.4 306.8 275.4 C312.2 275.4 314.2 275.2 318.3 275.4 C322.3 275.6 326.8 276.3 331 276.7 C335.3 277.1 339.3 277.5 343.8 277.8 C348.4 278.1 353.6 278.3 358.4 278.5 C363.3 278.8 368.2 279 373 279.1 C377.9 279.2 382.6 279.4 387.7 279.1 C392.7 278.8 397.6 277.6 403.3 277.3 C408.9 277 415.4 277 421.5 277.3 C427.6 277.6 433.7 278.7 439.8 279.1 C445.9 279.5 453.8 279.9 458 279.6 C462.3 279.3 462.9 278.1 465.4 277.3 C467.8 276.4 470.2 275.3 472.7 274.5 C475.1 273.8 477.9 273.7 480 272.7 C482 271.7 483 269.8 485.1 268.7 C487.2 267.5 490 266 492.4 265.8 C494.8 265.5 497.3 266.4 499.7 267.2 C502.1 268.1 504.7 269.8 507 270.9 C509.3 271.9 511.3 272.8 513.4 273.6 C515.5 274.4 517.5 273.9 519.8 275.4 C522.1 277 524 279.7 527.1 282.7 C530.1 285.8 535 291.3 538 293.7 C541.1 296.1 543.2 297.1 545.4 297.3 C547.5 297.6 549.3 294.7 550.8 295 C552.4 295.3 553.9 297.1 554.5 299.2 C555.1 301.2 554.8 304.8 554.5 307.4 C554.2 310 553.6 312.3 552.7 314.7 C551.7 317.1 550.1 319.6 549 322 C547.9 324.4 546.7 328 546.3 329.3 C545.8 330.6 546.6 329 546.3 329.6 C546 330.3 545 331.7 544.4 333.3 C543.8 334.8 543.4 338.4 542.6 338.7 C541.9 339 540.9 336 539.9 335.1 C538.8 334.2 538 333.3 536.2 333.3 C534.4 333.3 531.4 335.2 528.9 335.1 C526.5 334.9 524.3 333 521.6 332.3 C518.9 331.7 514.9 332.2 512.5 331.4 C510 330.7 509.4 329 507 327.8 C504.6 326.6 501.8 325.2 497.9 324.1 C493.9 323.1 488.7 322.4 483.3 321.6 C477.8 320.7 472.2 320.4 465 319 C457.8 317.7 449.2 314.9 440 313.4 C430.8 311.9 418.7 311.1 409.6 310.2 C400.5 309.3 393.3 308.4 385.2 307.8 C377.1 307.2 369 306.9 360.9 306.8 C352.8 306.7 343.4 306.8 336.5 307.3 C329.6 307.8 324.6 308.9 319.5 309.7 C314.4 310.5 311.8 311.6 306 312.2 C300.2 312.8 288.4 319.1 285 313 C281.6 306.9 281.8 281.7 285.4 275.4 Z" fill="#ffc03c"/>
<path d="M285 326.5 C288.4 318.3 299.4 326.4 306 326.8 C312.6 327.2 319.2 328 324.3 328.7 C329.4 329.4 332.4 330.3 336.5 331.2 C340.6 332.1 344.6 333.2 348.7 334.1 C352.8 335 356.8 335.9 360.9 336.5 C364.9 337.1 368.9 337.4 373 337.7 C377.1 338 381.1 338.4 385.2 338.5 C389.3 338.6 393.8 338.8 397.4 338.5 C401 338.2 403.1 337 407.1 336.8 C411.2 336.6 416.2 336.8 421.7 337.2 C427.2 337.6 433.9 339.1 440 339.5 C446.1 339.9 451.4 339.7 458 339.3 C464.6 338.9 473.9 337.5 479.6 337.3 C485.3 337 488.1 337.4 492.4 337.8 C496.7 338.2 501.5 338.9 505.2 339.7 C508.8 340.4 511.9 341.2 514.3 342.4 C516.7 343.6 518.5 345.4 519.8 347 C521.1 348.5 522.1 350 522 351.5 C521.8 353 520.1 354.6 518.9 356.1 C517.6 357.6 515.8 358.8 514.3 360.7 C512.8 362.5 511.3 365.1 509.7 367 C508.2 369 507.2 371 505.2 372.5 C503.2 374 500.9 375.3 497.9 376.2 C494.8 377.1 490.6 377.6 486.9 378 C483.3 378.4 479.6 378.4 476 378.6 C472.3 378.7 468 378.8 465 378.9 C462 379 462.2 379 458 379.3 C453.8 379.6 445.9 380.3 439.8 380.7 C433.7 381.1 427.6 381.5 421.5 381.7 C415.4 381.8 409.3 381.7 403.3 381.7 C397.2 381.6 390 381.2 385 381.1 C380 381 378.1 381.1 373 381.1 C368 381.1 360.9 381.2 354.8 381.1 C348.7 381 340.8 381 336.5 380.7 C332.3 380.5 331.7 380.2 329.2 379.8 C326.8 379.5 324.3 379 321.9 378.6 C319.5 378.1 317.1 377.5 314.6 377.1 C312.1 376.7 311.6 376.3 306.8 376.2 C301.9 376 289 384.5 285.4 376.2 C281.8 367.9 281.6 334.7 285 326.5 Z" fill="#ffc03c"/>
<path d="M292.7 359.7 C295 358.2 303.7 359.6 306.8 359.7 C309.8 359.9 309.8 359.9 311 360.7 C312.1 361.4 313.7 363.1 313.7 364.3 C313.7 365.5 312.1 367.2 311 368 C309.8 368.7 309.8 368.7 306.8 368.9 C303.7 369 295 370.4 292.7 368.9 C290.4 367.3 290.4 361.3 292.7 359.7 Z" fill="#ffe878"/>
<path d="M555.4 399.6 C555.4 399.1 557.5 398.7 559 398.6 C560.6 398.5 563.6 398.5 564.5 399 C565.4 399.5 565.4 401.1 564.5 401.6 C563.6 402 560.6 401.9 559 401.6 C557.5 401.2 555.4 400 555.4 399.6 Z" fill="#ffc03c"/>
<path d="M285.4 282.4 C289 278.3 301.3 282.5 306.8 282.4 C312.2 282.2 314.2 281.6 318.3 281.5 C322.3 281.3 326.5 281.3 331 281.5 C335.6 281.6 340.8 282.1 345.7 282.2 C350.5 282.3 355.7 282.3 360.3 282.2 C364.8 282.1 368.8 281.7 373 281.5 C377.3 281.2 380.8 281.2 385.8 280.9 C390.9 280.7 397.3 280 403.3 280 C409.2 280 415.4 280.5 421.5 280.9 C427.6 281.4 434.3 282.3 439.8 282.7 C445.3 283.1 450.4 283.5 454.4 283.3 C458.4 283.1 460.8 282.3 463.5 281.5 C466.3 280.6 468.7 279.2 470.8 278.2 C473 277.2 474.5 276.3 476.3 275.4 C478.1 274.6 482.8 272.2 481.8 273.1 C480.7 273.9 471.2 279.7 470 280.3 C468.8 281 472.9 278.3 474.7 277.2 C476.5 276.2 478.9 274.7 481 274.1 C483 273.4 485.1 273.3 487.2 273.3 C489.3 273.4 491.5 274.5 493.5 274.4 C495.4 274.3 497.5 273.4 499 272.5 C500.4 271.7 500.7 269.9 502.1 269.4 C503.5 268.9 505.6 269.2 507.6 269.7 C509.5 270.2 511.7 271.1 513.8 272.5 C515.9 273.9 518.3 276.2 520.1 278 C521.9 279.8 523.2 281.5 524.8 283.5 C526.3 285.4 527.9 288 529.5 289.7 C531 291.4 532.3 292.7 534.2 293.7 C536 294.6 538.3 295 540.4 295.2 C542.5 295.5 545.1 295 546.7 295.2 C548.3 295.4 548.9 295.5 549.9 296.4 C550.9 297.4 552.3 299.2 552.7 301 C553.1 302.8 552.6 305.4 552.3 307.4 C552 309.4 551.5 311 550.8 312.9 C550.1 314.7 548.9 316.7 548.1 318.4 C547.3 320 546.6 322.6 546.3 322.9 C546 323.3 547 320.7 546.3 320.5 C545.5 320.2 543.7 320.9 541.7 321.4 C539.7 321.8 536.8 322.4 534.4 323.2 C532 324 529.8 325.4 527.1 326.3 C524.3 327.2 520.7 328.5 518 328.7 C515.2 328.9 512.5 328.7 510.7 327.8 C508.8 326.9 509.1 324.4 507 323.2 C504.9 322 501.8 321.3 497.9 320.5 C493.9 319.7 488.7 319 483.3 318.3 C477.8 317.6 470.4 317.3 465 316.5 C459.6 315.6 455.5 313.9 450.7 313.2 C445.9 312.5 440.9 312.9 436 312.5 C431.1 312.1 426.3 311.5 421.5 311 C416.7 310.5 411.2 310.1 407 309.6 C402.8 309.2 398.6 308.9 396 308.3 C393.4 307.7 393.9 306.6 391.3 305.9 C388.7 305.2 383.4 304.9 380.4 304.1 C377.3 303.3 375.2 302.1 373 301 C370.9 299.9 369.2 298.6 367.6 297.3 C365.9 296.1 364.8 294.6 363 293.7 C361.2 292.8 358.9 292 356.6 291.9 C354.3 291.7 351.3 292.2 349.3 292.8 C347.3 293.4 346.3 294.5 344.7 295.5 C343.2 296.6 342.2 298.1 340.2 299.2 C338.2 300.2 335.6 301 332.9 301.9 C330.1 302.8 326.8 303.9 323.7 304.7 C320.7 305.4 317.4 306.1 314.6 306.5 C311.8 306.9 311.6 306.9 306.8 307 C301.9 307.1 289 311.1 285.4 307 C281.8 302.9 281.8 286.5 285.4 282.4 Z" fill="#ffa000"/>
<path d="M499.4 267.8 C500.5 267.6 502.6 269 503.2 270.3 C503.8 271.6 503.6 274 503.2 275.7 C502.7 277.3 500.8 278.8 500.5 280 C500.2 281.3 499.6 282.1 501.3 283.2 C503 284.2 508.1 285.1 510.7 286.3 C513.3 287.4 514.9 288.6 517 290.1 C519 291.5 521.4 293.7 523.2 294.7 C525 295.8 526.3 296.4 527.9 296.5 C529.5 296.5 531.9 294.8 532.6 295.2 C533.3 295.7 533.1 298.1 532.3 299.1 C531.5 300.2 529.4 301.3 527.9 301.6 C526.4 301.9 525 301.6 523.2 301 C521.4 300.4 519.3 299.1 517 297.9 C514.6 296.7 511.7 295.1 509.1 294 C506.5 292.8 503.7 291.7 501.3 290.8 C499 289.9 496.6 289.2 495 288.5 C493.5 287.8 492.2 287.3 491.9 286.6 C491.7 285.9 492.6 285 493.5 284.3 C494.3 283.5 496.2 283 496.9 281.9 C497.6 280.9 497.7 279.1 497.5 278 C497.4 276.9 495.9 276.4 495.8 275.3 C495.7 274.3 496.3 273 496.9 271.7 C497.5 270.5 498.4 268.1 499.4 267.8 Z" fill="#ffc03c"/>
<path d="M538.2 260.5 C538.5 260.5 539 260.9 539.2 262 C539.4 263.1 539.5 265.8 539.4 267 C539.3 268.2 538.9 269.7 538.6 269.5 C538.3 269.3 538 267.2 537.8 266 C537.6 264.8 537.5 262.9 537.6 262 C537.7 261.1 537.9 260.5 538.2 260.5 Z" fill="#b4f0fa"/>
<path d="M285.4 334.2 C289 332 301.3 334.3 306.8 334.2 C312.2 334.1 314.5 333.6 318.3 333.6 C322 333.6 326.2 333.8 329.2 334.2 C332.3 334.6 334.6 335.3 336.5 336 C338.4 336.7 340.5 337.6 340.5 338.4 C340.5 339.2 338.4 340.3 336.5 340.9 C334.6 341.6 331.7 341.8 329.2 342.4 C326.8 342.9 324.3 343.5 321.9 344.2 C319.5 345 317.1 346.4 314.6 347 C312.1 347.5 311.6 347.4 306.8 347.5 C301.9 347.6 289 349.7 285.4 347.5 C281.8 345.3 281.8 336.4 285.4 334.2 Z" fill="#ffa000"/>
<path d="M327.4 350.6 C327.7 349.7 329.5 349.1 332.9 348.8 C336.2 348.5 342.6 348.8 347.5 348.8 C352.3 348.7 357.2 348.5 362.1 348.4 C367 348.3 371.8 348.3 376.7 348.2 C381.6 348.1 386.3 348.3 391.3 347.9 C396.3 347.4 402.5 346.3 406.9 345.7 C411.3 345.1 414.2 344.8 417.9 344.2 C421.5 343.7 425.2 342.8 428.8 342.4 C432.5 342 434.9 342.1 439.8 342 C444.7 342 452 342 458 342 C464.1 342.1 472.7 342.6 476.3 342.4 C479.9 342.2 476.9 341.1 479.6 340.9 C482.3 340.8 488.4 341.2 492.4 341.5 C496.3 341.7 500.2 341.8 503.3 342.4 C506.5 343 509.4 344.1 511.6 345.1 C513.7 346.2 515.2 347.6 516.1 348.8 C517 350 517.5 351.2 517 352.4 C516.6 353.7 514.8 354.7 513.4 356.1 C512 357.5 510.3 359 508.8 360.7 C507.3 362.3 505.8 364.5 504.3 366.1 C502.7 367.8 501.7 369.5 499.7 370.7 C497.7 371.9 495.1 372.8 492.4 373.4 C489.7 374 486.3 374.1 483.3 374.3 C480.2 374.6 477.2 374.7 474.1 374.9 C471.1 375 467.7 375 465 375.3 C462.3 375.6 462.2 376.3 458 376.7 C453.8 377.2 445.9 377.7 439.8 378 C433.7 378.3 427.6 378.5 421.5 378.6 C415.4 378.6 409.3 378.6 403.3 378.6 C397.2 378.5 389.4 378.1 385 378 C380.6 377.9 380.5 378.1 376.7 378 C372.9 377.9 367 377.6 362.1 377.5 C357.2 377.3 351.7 377.3 347.5 377.1 C343.2 376.9 339 376.6 336.5 376.2 C334.1 375.7 332.9 375 332.9 374.3 C332.9 373.6 334.4 372.6 336.5 372 C338.7 371.4 342.9 371.2 345.7 370.7 C348.4 370.2 351.9 369.8 353 368.9 C354 368 353.3 366.4 352 365.2 C350.8 364 347.9 362.8 345.7 361.6 C343.4 360.3 340.8 359.1 338.3 357.9 C335.9 356.7 332.9 355.5 331 354.3 C329.2 353 327.1 351.5 327.4 350.6 Z" fill="#ffa000"/>
<path d="M374 285.8 C374.7 285.4 378.1 284.7 380.4 284.6 C382.6 284.4 385.2 285.1 387.7 285.1 C390.1 285.1 393.6 284.6 395 284.6 C396.3 284.5 393.7 284.7 396 284.7 C398.3 284.8 404.5 284.9 408.7 285.1 C413 285.3 417.6 285.5 421.5 285.8 C425.5 286.1 428.8 286.5 432.5 286.9 C436.1 287.4 439.8 287.9 443.4 288.8 C447.1 289.6 451.4 290.6 454.4 291.9 C457.4 293.1 459.7 294.9 461.7 296.4 C463.7 298 466 299.6 466.3 301 C466.6 302.4 464.9 303.6 463.5 304.7 C462.2 305.7 460.5 306.6 458 307.4 C455.6 308.2 452.3 309.1 448.9 309.6 C445.6 310 441.3 310.3 438 310.1 C434.6 309.9 431.6 309.1 428.8 308.3 C426.1 307.5 424 306.3 421.5 305.2 C419.1 304.1 416.7 302.8 414.2 301.9 C411.8 301.1 409.3 300.2 406.9 300.1 C404.5 299.9 402 300.5 399.6 301 C397.2 301.5 392.3 302.8 392.3 302.8 C392.3 302.8 399.1 301.2 399.5 301 C400 300.9 396.6 301.9 395 301.9 C393.3 301.9 390.7 301.6 389.5 301 C388.3 300.4 387.4 299.3 387.7 298.3 C388 297.2 391 295.7 391.3 294.6 C391.6 293.5 390.5 292.6 389.5 291.9 C388.4 291.1 386.4 290.7 384.9 290 C383.4 289.4 381.9 288.7 380.4 288.2 C378.8 287.7 376.9 287.3 375.8 286.9 C374.7 286.5 373.2 286.2 374 285.8 Z" fill="#ff6000"/>
<path d="M500.6 310 C500.5 309.6 502.4 309.2 503.3 309.2 C504.3 309.2 506.2 309.6 506.3 310 C506.3 310.3 504.7 311 503.7 311 C502.8 311 500.7 310.3 500.6 310 Z" fill="#ff6000"/>
<path d="M374.9 358.8 C375.2 358.2 378.5 357.4 380.4 356.6 C382.2 355.9 383.4 354.7 385.8 354.3 C388.3 353.8 392.1 353.5 395 353.7 C397.9 353.9 400.7 355.4 403.3 355.5 C405.9 355.6 408.1 354.8 410.6 354.3 C413 353.7 415.1 352.8 417.9 352.4 C420.6 352 423.7 351.8 427 351.9 C430.3 352 435.1 352.4 438 353 C440.8 353.6 443.1 354.6 444.3 355.5 C445.6 356.5 444.8 357.7 445.3 358.8 C445.7 359.9 445 361.4 447.1 362.1 C449.2 362.8 455.6 362.5 458 362.8 C460.5 363.2 462.3 363.9 461.7 364.3 C461.1 364.7 458 365.2 454.4 365.2 C450.7 365.2 444 364.5 439.8 364.3 C435.5 364.1 432.5 364.2 428.8 363.9 C425.2 363.7 421.5 362.9 417.9 362.8 C414.2 362.8 410.1 363.2 406.9 363.4 C403.7 363.6 401.2 363.9 398.6 363.9 C396 363.9 393.7 363.7 391.3 363.4 C388.9 363.1 386.1 362.6 384 362.1 C381.9 361.7 380 361.2 378.5 360.7 C377 360.1 374.6 359.5 374.9 358.8 Z" fill="#ff6000"/>
<path d="M459.9 357.9 C460 356.5 460.6 354.7 461.7 353.3 C462.8 352 464.4 350.7 466.3 349.7 C468.1 348.7 470.1 348 472.7 347.5 C475.2 347 479.4 347.3 481.8 347 C484.2 346.7 484.2 345.8 486.9 345.7 C489.6 345.6 494.5 346 497.9 346.4 C501.2 346.8 504.8 347.2 507 347.9 C509.2 348.6 510.6 349.5 511 350.6 C511.5 351.7 510.9 353 509.7 354.3 C508.6 355.5 506.2 356.8 504.3 357.9 C502.3 359 500.5 359.8 497.9 360.7 C495.3 361.5 491.8 362.3 488.7 362.8 C485.7 363.4 482.3 363.7 479.6 363.9 C476.9 364.2 474.7 364.1 472.3 364.3 C469.9 364.5 464.3 365 465 365.2 C465.7 365.5 475.6 365.6 476.3 365.8 C477 365.9 471.1 366.2 469 366.1 C466.9 366 464.9 366 463.5 365.2 C462.2 364.5 461.4 362.8 460.8 361.6 C460.2 360.3 459.7 359.3 459.9 357.9 Z" fill="#ff6000"/>
<path d="M372.1 259.9 C372.3 258.8 373.5 257.3 374.9 256.3 C376.2 255.2 378.4 254.1 380.4 253.5 C382.3 252.9 385.1 252.5 386.7 252.6 C388.4 252.8 389.6 253.5 390.4 254.4 C391.2 255.3 391.5 256.9 391.3 258.1 C391.2 259.3 390.5 260.7 389.5 261.7 C388.4 262.8 386.7 263.9 384.9 264.5 C383.1 265 380.4 265.2 378.5 265 C376.7 264.8 375 264.1 374 263.2 C372.9 262.3 372 261.1 372.1 259.9 Z" fill="#b4f0fa"/>
<pattern id="dotD" x="306.29" y="243.11" width="3.416" height="4.075" patternUnits="userSpaceOnUse"><rect x="1.31" y="1.64" width="0.8" height="0.8" fill="#1e1205" fill-opacity="0.95"/></pattern>
<pattern id="crsD" x="306.29" y="243.11" width="3.416" height="4.075" patternUnits="userSpaceOnUse"><path d="M0.16 2.04 H3.26 M1.71 0.29 V3.79" stroke="#140800" stroke-width="0.95" stroke-opacity="0.88" fill="none"/></pattern>
<clipPath id="drD0"><rect x="300" y="283.3" width="44.9" height="20.8"/></clipPath>
<clipPath id="dcD0"><path d="M285.4 282.4 C289 278.3 301.3 282.5 306.8 282.4 C312.2 282.2 314.2 281.6 318.3 281.5 C322.3 281.3 326.5 281.3 331 281.5 C335.6 281.6 340.8 282.1 345.7 282.2 C350.5 282.3 355.7 282.3 360.3 282.2 C364.8 282.1 368.8 281.7 373 281.5 C377.3 281.2 380.8 281.2 385.8 280.9 C390.9 280.7 397.3 280 403.3 280 C409.2 280 415.4 280.5 421.5 280.9 C427.6 281.4 434.3 282.3 439.8 282.7 C445.3 283.1 450.4 283.5 454.4 283.3 C458.4 283.1 460.8 282.3 463.5 281.5 C466.3 280.6 468.7 279.2 470.8 278.2 C473 277.2 474.5 276.3 476.3 275.4 C478.1 274.6 482.8 272.2 481.8 273.1 C480.7 273.9 471.2 279.7 470 280.3 C468.8 281 472.9 278.3 474.7 277.2 C476.5 276.2 478.9 274.7 481 274.1 C483 273.4 485.1 273.3 487.2 273.3 C489.3 273.4 491.5 274.5 493.5 274.4 C495.4 274.3 497.5 273.4 499 272.5 C500.4 271.7 500.7 269.9 502.1 269.4 C503.5 268.9 505.6 269.2 507.6 269.7 C509.5 270.2 511.7 271.1 513.8 272.5 C515.9 273.9 518.3 276.2 520.1 278 C521.9 279.8 523.2 281.5 524.8 283.5 C526.3 285.4 527.9 288 529.5 289.7 C531 291.4 532.3 292.7 534.2 293.7 C536 294.6 538.3 295 540.4 295.2 C542.5 295.5 545.1 295 546.7 295.2 C548.3 295.4 548.9 295.5 549.9 296.4 C550.9 297.4 552.3 299.2 552.7 301 C553.1 302.8 552.6 305.4 552.3 307.4 C552 309.4 551.5 311 550.8 312.9 C550.1 314.7 548.9 316.7 548.1 318.4 C547.3 320 546.6 322.6 546.3 322.9 C546 323.3 547 320.7 546.3 320.5 C545.5 320.2 543.7 320.9 541.7 321.4 C539.7 321.8 536.8 322.4 534.4 323.2 C532 324 529.8 325.4 527.1 326.3 C524.3 327.2 520.7 328.5 518 328.7 C515.2 328.9 512.5 328.7 510.7 327.8 C508.8 326.9 509.1 324.4 507 323.2 C504.9 322 501.8 321.3 497.9 320.5 C493.9 319.7 488.7 319 483.3 318.3 C477.8 317.6 470.4 317.3 465 316.5 C459.6 315.6 455.5 313.9 450.7 313.2 C445.9 312.5 440.9 312.9 436 312.5 C431.1 312.1 426.3 311.5 421.5 311 C416.7 310.5 411.2 310.1 407 309.6 C402.8 309.2 398.6 308.9 396 308.3 C393.4 307.7 393.9 306.6 391.3 305.9 C388.7 305.2 383.4 304.9 380.4 304.1 C377.3 303.3 375.2 302.1 373 301 C370.9 299.9 369.2 298.6 367.6 297.3 C365.9 296.1 364.8 294.6 363 293.7 C361.2 292.8 358.9 292 356.6 291.9 C354.3 291.7 351.3 292.2 349.3 292.8 C347.3 293.4 346.3 294.5 344.7 295.5 C343.2 296.6 342.2 298.1 340.2 299.2 C338.2 300.2 335.6 301 332.9 301.9 C330.1 302.8 326.8 303.9 323.7 304.7 C320.7 305.4 317.4 306.1 314.6 306.5 C311.8 306.9 311.6 306.9 306.8 307 C301.9 307.1 289 311.1 285.4 307 C281.8 302.9 281.8 286.5 285.4 282.4 Z"/></clipPath>
<g clip-path="url(#drD0)"><rect x="306.8" y="242.7" width="256.2" height="163" fill="url(#dotD)" clip-path="url(#dcD0)"/></g>
<clipPath id="drD1"><rect x="300" y="283.7" width="109.6" height="4"/></clipPath>
<clipPath id="dcD1"><path d="M285.4 282.4 C289 278.3 301.3 282.5 306.8 282.4 C312.2 282.2 314.2 281.6 318.3 281.5 C322.3 281.3 326.5 281.3 331 281.5 C335.6 281.6 340.8 282.1 345.7 282.2 C350.5 282.3 355.7 282.3 360.3 282.2 C364.8 282.1 368.8 281.7 373 281.5 C377.3 281.2 380.8 281.2 385.8 280.9 C390.9 280.7 397.3 280 403.3 280 C409.2 280 415.4 280.5 421.5 280.9 C427.6 281.4 434.3 282.3 439.8 282.7 C445.3 283.1 450.4 283.5 454.4 283.3 C458.4 283.1 460.8 282.3 463.5 281.5 C466.3 280.6 468.7 279.2 470.8 278.2 C473 277.2 474.5 276.3 476.3 275.4 C478.1 274.6 482.8 272.2 481.8 273.1 C480.7 273.9 471.2 279.7 470 280.3 C468.8 281 472.9 278.3 474.7 277.2 C476.5 276.2 478.9 274.7 481 274.1 C483 273.4 485.1 273.3 487.2 273.3 C489.3 273.4 491.5 274.5 493.5 274.4 C495.4 274.3 497.5 273.4 499 272.5 C500.4 271.7 500.7 269.9 502.1 269.4 C503.5 268.9 505.6 269.2 507.6 269.7 C509.5 270.2 511.7 271.1 513.8 272.5 C515.9 273.9 518.3 276.2 520.1 278 C521.9 279.8 523.2 281.5 524.8 283.5 C526.3 285.4 527.9 288 529.5 289.7 C531 291.4 532.3 292.7 534.2 293.7 C536 294.6 538.3 295 540.4 295.2 C542.5 295.5 545.1 295 546.7 295.2 C548.3 295.4 548.9 295.5 549.9 296.4 C550.9 297.4 552.3 299.2 552.7 301 C553.1 302.8 552.6 305.4 552.3 307.4 C552 309.4 551.5 311 550.8 312.9 C550.1 314.7 548.9 316.7 548.1 318.4 C547.3 320 546.6 322.6 546.3 322.9 C546 323.3 547 320.7 546.3 320.5 C545.5 320.2 543.7 320.9 541.7 321.4 C539.7 321.8 536.8 322.4 534.4 323.2 C532 324 529.8 325.4 527.1 326.3 C524.3 327.2 520.7 328.5 518 328.7 C515.2 328.9 512.5 328.7 510.7 327.8 C508.8 326.9 509.1 324.4 507 323.2 C504.9 322 501.8 321.3 497.9 320.5 C493.9 319.7 488.7 319 483.3 318.3 C477.8 317.6 470.4 317.3 465 316.5 C459.6 315.6 455.5 313.9 450.7 313.2 C445.9 312.5 440.9 312.9 436 312.5 C431.1 312.1 426.3 311.5 421.5 311 C416.7 310.5 411.2 310.1 407 309.6 C402.8 309.2 398.6 308.9 396 308.3 C393.4 307.7 393.9 306.6 391.3 305.9 C388.7 305.2 383.4 304.9 380.4 304.1 C377.3 303.3 375.2 302.1 373 301 C370.9 299.9 369.2 298.6 367.6 297.3 C365.9 296.1 364.8 294.6 363 293.7 C361.2 292.8 358.9 292 356.6 291.9 C354.3 291.7 351.3 292.2 349.3 292.8 C347.3 293.4 346.3 294.5 344.7 295.5 C343.2 296.6 342.2 298.1 340.2 299.2 C338.2 300.2 335.6 301 332.9 301.9 C330.1 302.8 326.8 303.9 323.7 304.7 C320.7 305.4 317.4 306.1 314.6 306.5 C311.8 306.9 311.6 306.9 306.8 307 C301.9 307.1 289 311.1 285.4 307 C281.8 302.9 281.8 286.5 285.4 282.4 Z"/></clipPath>
<g clip-path="url(#drD1)"><rect x="306.8" y="242.7" width="256.2" height="163" fill="url(#dotD)" clip-path="url(#dcD1)"/></g>
<clipPath id="drD2"><rect x="363.6" y="279.1" width="301.7" height="68.5"/></clipPath>
<clipPath id="dcD2"><path d="M285.4 282.4 C289 278.3 301.3 282.5 306.8 282.4 C312.2 282.2 314.2 281.6 318.3 281.5 C322.3 281.3 326.5 281.3 331 281.5 C335.6 281.6 340.8 282.1 345.7 282.2 C350.5 282.3 355.7 282.3 360.3 282.2 C364.8 282.1 368.8 281.7 373 281.5 C377.3 281.2 380.8 281.2 385.8 280.9 C390.9 280.7 397.3 280 403.3 280 C409.2 280 415.4 280.5 421.5 280.9 C427.6 281.4 434.3 282.3 439.8 282.7 C445.3 283.1 450.4 283.5 454.4 283.3 C458.4 283.1 460.8 282.3 463.5 281.5 C466.3 280.6 468.7 279.2 470.8 278.2 C473 277.2 474.5 276.3 476.3 275.4 C478.1 274.6 482.8 272.2 481.8 273.1 C480.7 273.9 471.2 279.7 470 280.3 C468.8 281 472.9 278.3 474.7 277.2 C476.5 276.2 478.9 274.7 481 274.1 C483 273.4 485.1 273.3 487.2 273.3 C489.3 273.4 491.5 274.5 493.5 274.4 C495.4 274.3 497.5 273.4 499 272.5 C500.4 271.7 500.7 269.9 502.1 269.4 C503.5 268.9 505.6 269.2 507.6 269.7 C509.5 270.2 511.7 271.1 513.8 272.5 C515.9 273.9 518.3 276.2 520.1 278 C521.9 279.8 523.2 281.5 524.8 283.5 C526.3 285.4 527.9 288 529.5 289.7 C531 291.4 532.3 292.7 534.2 293.7 C536 294.6 538.3 295 540.4 295.2 C542.5 295.5 545.1 295 546.7 295.2 C548.3 295.4 548.9 295.5 549.9 296.4 C550.9 297.4 552.3 299.2 552.7 301 C553.1 302.8 552.6 305.4 552.3 307.4 C552 309.4 551.5 311 550.8 312.9 C550.1 314.7 548.9 316.7 548.1 318.4 C547.3 320 546.6 322.6 546.3 322.9 C546 323.3 547 320.7 546.3 320.5 C545.5 320.2 543.7 320.9 541.7 321.4 C539.7 321.8 536.8 322.4 534.4 323.2 C532 324 529.8 325.4 527.1 326.3 C524.3 327.2 520.7 328.5 518 328.7 C515.2 328.9 512.5 328.7 510.7 327.8 C508.8 326.9 509.1 324.4 507 323.2 C504.9 322 501.8 321.3 497.9 320.5 C493.9 319.7 488.7 319 483.3 318.3 C477.8 317.6 470.4 317.3 465 316.5 C459.6 315.6 455.5 313.9 450.7 313.2 C445.9 312.5 440.9 312.9 436 312.5 C431.1 312.1 426.3 311.5 421.5 311 C416.7 310.5 411.2 310.1 407 309.6 C402.8 309.2 398.6 308.9 396 308.3 C393.4 307.7 393.9 306.6 391.3 305.9 C388.7 305.2 383.4 304.9 380.4 304.1 C377.3 303.3 375.2 302.1 373 301 C370.9 299.9 369.2 298.6 367.6 297.3 C365.9 296.1 364.8 294.6 363 293.7 C361.2 292.8 358.9 292 356.6 291.9 C354.3 291.7 351.3 292.2 349.3 292.8 C347.3 293.4 346.3 294.5 344.7 295.5 C343.2 296.6 342.2 298.1 340.2 299.2 C338.2 300.2 335.6 301 332.9 301.9 C330.1 302.8 326.8 303.9 323.7 304.7 C320.7 305.4 317.4 306.1 314.6 306.5 C311.8 306.9 311.6 306.9 306.8 307 C301.9 307.1 289 311.1 285.4 307 C281.8 302.9 281.8 286.5 285.4 282.4 Z"/></clipPath>
<g clip-path="url(#drD2)"><rect x="306.8" y="242.7" width="256.2" height="163" fill="url(#dotD)" clip-path="url(#dcD2)"/></g>
<clipPath id="dcD3"><path d="M285.4 334.2 C289 332 301.3 334.3 306.8 334.2 C312.2 334.1 314.5 333.6 318.3 333.6 C322 333.6 326.2 333.8 329.2 334.2 C332.3 334.6 334.6 335.3 336.5 336 C338.4 336.7 340.5 337.6 340.5 338.4 C340.5 339.2 338.4 340.3 336.5 340.9 C334.6 341.6 331.7 341.8 329.2 342.4 C326.8 342.9 324.3 343.5 321.9 344.2 C319.5 345 317.1 346.4 314.6 347 C312.1 347.5 311.6 347.4 306.8 347.5 C301.9 347.6 289 349.7 285.4 347.5 C281.8 345.3 281.8 336.4 285.4 334.2 Z"/></clipPath>
<rect x="306.8" y="242.7" width="256.2" height="163" fill="url(#dotD)" clip-path="url(#dcD3)"/>
<clipPath id="dcD4"><path d="M327.4 350.6 C327.7 349.7 329.5 349.1 332.9 348.8 C336.2 348.5 342.6 348.8 347.5 348.8 C352.3 348.7 357.2 348.5 362.1 348.4 C367 348.3 371.8 348.3 376.7 348.2 C381.6 348.1 386.3 348.3 391.3 347.9 C396.3 347.4 402.5 346.3 406.9 345.7 C411.3 345.1 414.2 344.8 417.9 344.2 C421.5 343.7 425.2 342.8 428.8 342.4 C432.5 342 434.9 342.1 439.8 342 C444.7 342 452 342 458 342 C464.1 342.1 472.7 342.6 476.3 342.4 C479.9 342.2 476.9 341.1 479.6 340.9 C482.3 340.8 488.4 341.2 492.4 341.5 C496.3 341.7 500.2 341.8 503.3 342.4 C506.5 343 509.4 344.1 511.6 345.1 C513.7 346.2 515.2 347.6 516.1 348.8 C517 350 517.5 351.2 517 352.4 C516.6 353.7 514.8 354.7 513.4 356.1 C512 357.5 510.3 359 508.8 360.7 C507.3 362.3 505.8 364.5 504.3 366.1 C502.7 367.8 501.7 369.5 499.7 370.7 C497.7 371.9 495.1 372.8 492.4 373.4 C489.7 374 486.3 374.1 483.3 374.3 C480.2 374.6 477.2 374.7 474.1 374.9 C471.1 375 467.7 375 465 375.3 C462.3 375.6 462.2 376.3 458 376.7 C453.8 377.2 445.9 377.7 439.8 378 C433.7 378.3 427.6 378.5 421.5 378.6 C415.4 378.6 409.3 378.6 403.3 378.6 C397.2 378.5 389.4 378.1 385 378 C380.6 377.9 380.5 378.1 376.7 378 C372.9 377.9 367 377.6 362.1 377.5 C357.2 377.3 351.7 377.3 347.5 377.1 C343.2 376.9 339 376.6 336.5 376.2 C334.1 375.7 332.9 375 332.9 374.3 C332.9 373.6 334.4 372.6 336.5 372 C338.7 371.4 342.9 371.2 345.7 370.7 C348.4 370.2 351.9 369.8 353 368.9 C354 368 353.3 366.4 352 365.2 C350.8 364 347.9 362.8 345.7 361.6 C343.4 360.3 340.8 359.1 338.3 357.9 C335.9 356.7 332.9 355.5 331 354.3 C329.2 353 327.1 351.5 327.4 350.6 Z"/></clipPath>
<rect x="306.8" y="242.7" width="256.2" height="163" fill="url(#dotD)" clip-path="url(#dcD4)"/>
<path d="M306.29 302.19h3.42M308 300.31v3.78M306.29 338.87h3.42M308 336.98v3.78M360.94 359.25h3.42M362.65 357.36v3.78M364.36 285.89h3.42M366.07 284.01v3.78M364.36 359.25h3.42M366.07 357.36v3.78M364.36 363.32h3.42M366.07 361.43v3.78M367.78 285.89h3.42M369.48 284.01v3.78M367.78 359.25h3.42M369.48 357.36v3.78M367.78 363.32h3.42M369.48 361.43v3.78M371.19 285.89h3.42M372.9 284.01v3.78M371.19 363.32h3.42M372.9 361.43v3.78M374.61 285.89h3.42M376.32 284.01v3.78M374.61 359.25h3.42M376.32 357.36v3.78M374.61 363.32h3.42M376.32 361.43v3.78M378.02 285.89h3.42M379.73 284.01v3.78M378.02 289.97h3.42M379.73 288.08v3.78M378.02 359.25h3.42M379.73 357.36v3.78M378.02 363.32h3.42M379.73 361.43v3.78M381.44 285.89h3.42M383.15 284.01v3.78M381.44 289.97h3.42M383.15 288.08v3.78M381.44 359.25h3.42M383.15 357.36v3.78M381.44 363.32h3.42M383.15 361.43v3.78M381.44 367.39h3.42M383.15 365.51v3.78M384.86 285.89h3.42M386.56 284.01v3.78M384.86 289.97h3.42M386.56 288.08v3.78M384.86 355.17h3.42M386.56 353.28v3.78M384.86 359.25h3.42M386.56 357.36v3.78M384.86 363.32h3.42M386.56 361.43v3.78M384.86 367.39h3.42M386.56 365.51v3.78M388.27 285.89h3.42M389.98 284.01v3.78M388.27 289.97h3.42M389.98 288.08v3.78M388.27 298.12h3.42M389.98 296.23v3.78M388.27 302.19h3.42M389.98 300.31v3.78M388.27 355.17h3.42M389.98 353.28v3.78M388.27 359.25h3.42M389.98 357.36v3.78M388.27 363.32h3.42M389.98 361.43v3.78M391.69 285.89h3.42M393.4 284.01v3.78M391.69 289.97h3.42M393.4 288.08v3.78M391.69 294.04h3.42M393.4 292.16v3.78M391.69 298.12h3.42M393.4 296.23v3.78M391.69 302.19h3.42M393.4 300.31v3.78M391.69 355.17h3.42M393.4 353.28v3.78M391.69 359.25h3.42M393.4 357.36v3.78M391.69 363.32h3.42M393.4 361.43v3.78M395.1 285.89h3.42M396.81 284.01v3.78M395.1 289.97h3.42M396.81 288.08v3.78M395.1 294.04h3.42M396.81 292.16v3.78M395.1 298.12h3.42M396.81 296.23v3.78M395.1 302.19h3.42M396.81 300.31v3.78M395.1 355.17h3.42M396.81 353.28v3.78M395.1 359.25h3.42M396.81 357.36v3.78M395.1 363.32h3.42M396.81 361.43v3.78M398.52 285.89h3.42M400.23 284.01v3.78M398.52 289.97h3.42M400.23 288.08v3.78M398.52 294.04h3.42M400.23 292.16v3.78M398.52 298.12h3.42M400.23 296.23v3.78M398.52 355.17h3.42M400.23 353.28v3.78M398.52 359.25h3.42M400.23 357.36v3.78M398.52 363.32h3.42M400.23 361.43v3.78M398.52 367.39h3.42M400.23 365.51v3.78M401.94 285.89h3.42M403.64 284.01v3.78M401.94 289.97h3.42M403.64 288.08v3.78M401.94 294.04h3.42M403.64 292.16v3.78M401.94 298.12h3.42M403.64 296.23v3.78M401.94 355.17h3.42M403.64 353.28v3.78M401.94 359.25h3.42M403.64 357.36v3.78M401.94 363.32h3.42M403.64 361.43v3.78M401.94 367.39h3.42M403.64 365.51v3.78M405.35 285.89h3.42M407.06 284.01v3.78M405.35 289.97h3.42M407.06 288.08v3.78M405.35 294.04h3.42M407.06 292.16v3.78M405.35 298.12h3.42M407.06 296.23v3.78M405.35 355.17h3.42M407.06 353.28v3.78M405.35 359.25h3.42M407.06 357.36v3.78M405.35 363.32h3.42M407.06 361.43v3.78M405.35 367.39h3.42M407.06 365.51v3.78M408.77 285.89h3.42M410.48 284.01v3.78M408.77 289.97h3.42M410.48 288.08v3.78M408.77 294.04h3.42M410.48 292.16v3.78M408.77 298.12h3.42M410.48 296.23v3.78M408.77 355.17h3.42M410.48 353.28v3.78M408.77 359.25h3.42M410.48 357.36v3.78M408.77 363.32h3.42M410.48 361.43v3.78M408.77 367.39h3.42M410.48 365.51v3.78M412.18 285.89h3.42M413.89 284.01v3.78M412.18 289.97h3.42M413.89 288.08v3.78M412.18 294.04h3.42M413.89 292.16v3.78M412.18 298.12h3.42M413.89 296.23v3.78M412.18 302.19h3.42M413.89 300.31v3.78M412.18 355.17h3.42M413.89 353.28v3.78M412.18 359.25h3.42M413.89 357.36v3.78M412.18 363.32h3.42M413.89 361.43v3.78M415.6 285.89h3.42M417.31 284.01v3.78M415.6 289.97h3.42M417.31 288.08v3.78M415.6 294.04h3.42M417.31 292.16v3.78M415.6 298.12h3.42M417.31 296.23v3.78M415.6 302.19h3.42M417.31 300.31v3.78M415.6 355.17h3.42M417.31 353.28v3.78M415.6 359.25h3.42M417.31 357.36v3.78M415.6 363.32h3.42M417.31 361.43v3.78M415.6 367.39h3.42M417.31 365.51v3.78M419.02 285.89h3.42M420.72 284.01v3.78M419.02 289.97h3.42M420.72 288.08v3.78M419.02 294.04h3.42M420.72 292.16v3.78M419.02 298.12h3.42M420.72 296.23v3.78M419.02 302.19h3.42M420.72 300.31v3.78M419.02 355.17h3.42M420.72 353.28v3.78M419.02 359.25h3.42M420.72 357.36v3.78M419.02 363.32h3.42M420.72 361.43v3.78M419.02 371.47h3.42M420.72 369.58v3.78M422.43 285.89h3.42M424.14 284.01v3.78M422.43 289.97h3.42M424.14 288.08v3.78M422.43 294.04h3.42M424.14 292.16v3.78M422.43 298.12h3.42M424.14 296.23v3.78M422.43 302.19h3.42M424.14 300.31v3.78M422.43 306.27h3.42M424.14 304.38v3.78M422.43 351.1h3.42M424.14 349.21v3.78M422.43 355.17h3.42M424.14 353.28v3.78M422.43 359.25h3.42M424.14 357.36v3.78M422.43 363.32h3.42M424.14 361.43v3.78M422.43 371.47h3.42M424.14 369.58v3.78M425.85 285.89h3.42M427.56 284.01v3.78M425.85 289.97h3.42M427.56 288.08v3.78M425.85 294.04h3.42M427.56 292.16v3.78M425.85 298.12h3.42M427.56 296.23v3.78M425.85 302.19h3.42M427.56 300.31v3.78M425.85 306.27h3.42M427.56 304.38v3.78M425.85 355.17h3.42M427.56 353.28v3.78M425.85 359.25h3.42M427.56 357.36v3.78M425.85 363.32h3.42M427.56 361.43v3.78M425.85 371.47h3.42M427.56 369.58v3.78M429.26 289.97h3.42M430.97 288.08v3.78M429.26 294.04h3.42M430.97 292.16v3.78M429.26 298.12h3.42M430.97 296.23v3.78M429.26 302.19h3.42M430.97 300.31v3.78M429.26 306.27h3.42M430.97 304.38v3.78M429.26 355.17h3.42M430.97 353.28v3.78M429.26 359.25h3.42M430.97 357.36v3.78M429.26 363.32h3.42M430.97 361.43v3.78M429.26 371.47h3.42M430.97 369.58v3.78M432.68 289.97h3.42M434.39 288.08v3.78M432.68 294.04h3.42M434.39 292.16v3.78M432.68 298.12h3.42M434.39 296.23v3.78M432.68 302.19h3.42M434.39 300.31v3.78M432.68 306.27h3.42M434.39 304.38v3.78M432.68 355.17h3.42M434.39 353.28v3.78M432.68 359.25h3.42M434.39 357.36v3.78M432.68 363.32h3.42M434.39 361.43v3.78M432.68 367.39h3.42M434.39 365.51v3.78M436.1 289.97h3.42M437.8 288.08v3.78M436.1 294.04h3.42M437.8 292.16v3.78M436.1 298.12h3.42M437.8 296.23v3.78M436.1 302.19h3.42M437.8 300.31v3.78M436.1 306.27h3.42M437.8 304.38v3.78M436.1 310.35h3.42M437.8 308.46v3.78M436.1 355.17h3.42M437.8 353.28v3.78M436.1 359.25h3.42M437.8 357.36v3.78M436.1 363.32h3.42M437.8 361.43v3.78M439.51 289.97h3.42M441.22 288.08v3.78M439.51 294.04h3.42M441.22 292.16v3.78M439.51 298.12h3.42M441.22 296.23v3.78M439.51 302.19h3.42M441.22 300.31v3.78M439.51 306.27h3.42M441.22 304.38v3.78M439.51 310.35h3.42M441.22 308.46v3.78M439.51 355.17h3.42M441.22 353.28v3.78M439.51 359.25h3.42M441.22 357.36v3.78M439.51 363.32h3.42M441.22 361.43v3.78M442.93 289.97h3.42M444.64 288.08v3.78M442.93 294.04h3.42M444.64 292.16v3.78M442.93 298.12h3.42M444.64 296.23v3.78M442.93 302.19h3.42M444.64 300.31v3.78M442.93 306.27h3.42M444.64 304.38v3.78M442.93 310.35h3.42M444.64 308.46v3.78M442.93 355.17h3.42M444.64 353.28v3.78M442.93 359.25h3.42M444.64 357.36v3.78M442.93 363.32h3.42M444.64 361.43v3.78M446.34 289.97h3.42M448.05 288.08v3.78M446.34 294.04h3.42M448.05 292.16v3.78M446.34 298.12h3.42M448.05 296.23v3.78M446.34 302.19h3.42M448.05 300.31v3.78M446.34 306.27h3.42M448.05 304.38v3.78M446.34 310.35h3.42M448.05 308.46v3.78M446.34 367.39h3.42M448.05 365.51v3.78M449.76 294.04h3.42M451.47 292.16v3.78M449.76 298.12h3.42M451.47 296.23v3.78M449.76 302.19h3.42M451.47 300.31v3.78M449.76 306.27h3.42M451.47 304.38v3.78M453.18 294.04h3.42M454.88 292.16v3.78M453.18 298.12h3.42M454.88 296.23v3.78M453.18 302.19h3.42M454.88 300.31v3.78M453.18 306.27h3.42M454.88 304.38v3.78M453.18 367.39h3.42M454.88 365.51v3.78M456.59 294.04h3.42M458.3 292.16v3.78M456.59 298.12h3.42M458.3 296.23v3.78M456.59 302.19h3.42M458.3 300.31v3.78M456.59 306.27h3.42M458.3 304.38v3.78M456.59 351.1h3.42M458.3 349.21v3.78M460.01 298.12h3.42M461.72 296.23v3.78M460.01 302.19h3.42M461.72 300.31v3.78M460.01 306.27h3.42M461.72 304.38v3.78M460.01 347.02h3.42M461.72 345.13v3.78M460.01 351.1h3.42M461.72 349.21v3.78M460.01 355.17h3.42M461.72 353.28v3.78M460.01 359.25h3.42M461.72 357.36v3.78M460.01 363.32h3.42M461.72 361.43v3.78M463.42 302.19h3.42M465.13 300.31v3.78M463.42 347.02h3.42M465.13 345.13v3.78M463.42 351.1h3.42M465.13 349.21v3.78M463.42 355.17h3.42M465.13 353.28v3.78M463.42 359.25h3.42M465.13 357.36v3.78M463.42 363.32h3.42M465.13 361.43v3.78M466.84 347.02h3.42M468.55 345.13v3.78M466.84 351.1h3.42M468.55 349.21v3.78M466.84 355.17h3.42M468.55 353.28v3.78M466.84 359.25h3.42M468.55 357.36v3.78M466.84 363.32h3.42M468.55 361.43v3.78M466.84 367.39h3.42M468.55 365.51v3.78M470.26 347.02h3.42M471.96 345.13v3.78M470.26 351.1h3.42M471.96 349.21v3.78M470.26 355.17h3.42M471.96 353.28v3.78M470.26 359.25h3.42M471.96 357.36v3.78M470.26 363.32h3.42M471.96 361.43v3.78M470.26 367.39h3.42M471.96 365.51v3.78M473.67 347.02h3.42M475.38 345.13v3.78M473.67 351.1h3.42M475.38 349.21v3.78M473.67 355.17h3.42M475.38 353.28v3.78M473.67 359.25h3.42M475.38 357.36v3.78M473.67 363.32h3.42M475.38 361.43v3.78M473.67 367.39h3.42M475.38 365.51v3.78M477.09 347.02h3.42M478.8 345.13v3.78M477.09 351.1h3.42M478.8 349.21v3.78M477.09 355.17h3.42M478.8 353.28v3.78M477.09 359.25h3.42M478.8 357.36v3.78M477.09 363.32h3.42M478.8 361.43v3.78M477.09 367.39h3.42M478.8 365.51v3.78M480.5 347.02h3.42M482.21 345.13v3.78M480.5 351.1h3.42M482.21 349.21v3.78M480.5 355.17h3.42M482.21 353.28v3.78M480.5 359.25h3.42M482.21 357.36v3.78M480.5 363.32h3.42M482.21 361.43v3.78M480.5 367.39h3.42M482.21 365.51v3.78M483.92 347.02h3.42M485.63 345.13v3.78M483.92 351.1h3.42M485.63 349.21v3.78M483.92 355.17h3.42M485.63 353.28v3.78M483.92 359.25h3.42M485.63 357.36v3.78M483.92 363.32h3.42M485.63 361.43v3.78M487.34 306.27h3.42M489.04 304.38v3.78M487.34 310.35h3.42M489.04 308.46v3.78M487.34 347.02h3.42M489.04 345.13v3.78M487.34 351.1h3.42M489.04 349.21v3.78M487.34 355.17h3.42M489.04 353.28v3.78M487.34 359.25h3.42M489.04 357.36v3.78M490.75 306.27h3.42M492.46 304.38v3.78M490.75 310.35h3.42M492.46 308.46v3.78M490.75 347.02h3.42M492.46 345.13v3.78M490.75 351.1h3.42M492.46 349.21v3.78M490.75 355.17h3.42M492.46 353.28v3.78M490.75 359.25h3.42M492.46 357.36v3.78M494.17 306.27h3.42M495.88 304.38v3.78M494.17 310.35h3.42M495.88 308.46v3.78M494.17 314.42h3.42M495.88 312.53v3.78M494.17 347.02h3.42M495.88 345.13v3.78M494.17 351.1h3.42M495.88 349.21v3.78M494.17 355.17h3.42M495.88 353.28v3.78M494.17 359.25h3.42M495.88 357.36v3.78M497.58 310.35h3.42M499.29 308.46v3.78M497.58 314.42h3.42M499.29 312.53v3.78M497.58 347.02h3.42M499.29 345.13v3.78M497.58 351.1h3.42M499.29 349.21v3.78M497.58 355.17h3.42M499.29 353.28v3.78M497.58 359.25h3.42M499.29 357.36v3.78M501 306.27h3.42M502.71 304.38v3.78M501 310.35h3.42M502.71 308.46v3.78M501 314.42h3.42M502.71 312.53v3.78M501 347.02h3.42M502.71 345.13v3.78M501 351.1h3.42M502.71 349.21v3.78M501 355.17h3.42M502.71 353.28v3.78M501 359.25h3.42M502.71 357.36v3.78M504.42 310.35h3.42M506.12 308.46v3.78M504.42 314.42h3.42M506.12 312.53v3.78M504.42 347.02h3.42M506.12 345.13v3.78M504.42 351.1h3.42M506.12 349.21v3.78M504.42 355.17h3.42M506.12 353.28v3.78M507.83 310.35h3.42M509.54 308.46v3.78M507.83 314.42h3.42M509.54 312.53v3.78M507.83 322.57h3.42M509.54 320.68v3.78M507.83 347.02h3.42M509.54 345.13v3.78M507.83 351.1h3.42M509.54 349.21v3.78M507.83 355.17h3.42M509.54 353.28v3.78M511.25 273.67h3.42M512.96 271.78v3.78M511.25 310.35h3.42M512.96 308.46v3.78M524.91 310.35h3.42M526.62 308.46v3.78M524.91 314.42h3.42M526.62 312.53v3.78M524.91 318.5h3.42M526.62 316.61v3.78M528.33 314.42h3.42M530.04 312.53v3.78M531.74 310.35h3.42M533.45 308.46v3.78M531.74 314.42h3.42M533.45 312.53v3.78" stroke="#160a00" stroke-width="0.95" stroke-opacity="0.8" fill="none"/>
<line x1="341" y1="242.7" x2="341" y2="405.7" class="gr"/>
<line x1="375.1" y1="242.7" x2="375.1" y2="405.7" class="gr"/>
<line x1="409.3" y1="242.7" x2="409.3" y2="405.7" class="gr"/>
<line x1="443.4" y1="242.7" x2="443.4" y2="405.7" class="gr"/>
<line x1="477.6" y1="242.7" x2="477.6" y2="405.7" class="gr"/>
<line x1="511.8" y1="242.7" x2="511.8" y2="405.7" class="gr"/>
<line x1="545.9" y1="242.7" x2="545.9" y2="405.7" class="gr"/>
<line x1="306.8" y1="263.1" x2="563" y2="263.1" class="gr"/>
<line x1="306.8" y1="283.4" x2="563" y2="283.4" class="gr"/>
<line x1="306.8" y1="303.8" x2="563" y2="303.8" class="gr"/>
<line x1="306.8" y1="324.2" x2="563" y2="324.2" class="gr"/>
<line x1="306.8" y1="344.6" x2="563" y2="344.6" class="gr"/>
<line x1="306.8" y1="364.9" x2="563" y2="364.9" class="gr"/>
<line x1="306.8" y1="385.3" x2="563" y2="385.3" class="gr"/>
<path d="M451.1 234.2 C447.7 234.9 455.2 240.1 455.9 241 C456.5 241.8 457.1 242.1 457.8 242.7 C458.5 243.3 461.5 245.9 462.6 246.7 C463.6 247.5 467 249.8 468.3 250.5 C469.7 251.3 474.4 253.7 476 254.4 C477.5 255.1 482.2 257.1 483.6 257.6 C485.1 258.2 489.3 260 490.3 260.1 C491.4 260.3 493.4 258.9 494.2 258.8 C494.9 258.7 497.1 258.8 498 259.2 C498.9 259.6 501.8 262.3 502.8 263 C503.7 263.8 506.6 266.2 507.6 266.9 C508.5 267.5 511.3 269.2 512.4 269.7 C513.4 270.3 517.1 271.7 518.1 272.2 C519.1 272.8 521.3 274.7 521.9 275.5 C522.6 276.3 524.2 279.3 524.8 280.3 C525.4 281.3 527 284.3 527.7 285.1 C528.3 285.9 530.6 287.4 531.5 288 C532.4 288.5 535.3 289.8 536.3 290.3 C537.2 290.8 540.4 292.3 541.1 292.8 C541.8 293.2 543 294.8 543.4 294.7 C543.8 294.6 544.6 292.4 544.9 291.8 C545.2 291.2 546 289.4 546.4 288.9 C546.9 288.4 548.5 287.1 549.1 287 C549.7 286.9 551.6 287.6 552.2 288 C552.7 288.4 554.1 290.3 554.5 290.8 C554.9 291.4 556 293 556 293.7 C556 294.5 555.1 297.6 554.9 298.5 C554.7 299.5 554.1 302.4 554.1 303.3 C554.1 304.3 554.6 307.3 554.5 308.1 C554.3 309 553 311.2 552.6 312 C552.1 312.7 550.2 315 549.7 315.8 C549.2 316.6 547.5 319.2 547.4 319.6 C547.2 320.1 548.3 319.9 548.2 320.2 C548.1 320.5 546.8 322.2 546.4 322.9 C546.1 323.6 544.8 326 544.5 326.7 C544.2 327.5 543.3 329.9 543.4 330.6 C543.4 331.2 544.6 333 544.9 333.5 C545.2 333.9 546.6 335 546.4 335.4 C546.3 335.7 543.5 336.4 543.4 336.7 C543.2 337 545 338.2 544.9 338.6 C544.8 339.1 542.5 340.6 542 341.1 C541.6 341.7 540.8 343.3 540.7 344 C540.6 344.7 540.9 347.1 541.1 347.8 C541.3 348.6 542.2 350.9 542.6 351.7 C543 352.5 544.4 355 544.9 355.9 C545.4 356.8 547.2 359.4 547.8 360.3 C548.3 361.3 549.7 364.4 550.3 365.5 C550.8 366.6 552.4 369.8 552.9 370.9 C553.5 371.9 554.9 375.2 555.4 376.2 C555.9 377.3 557.4 380.5 557.9 381.4 C558.4 382.4 559.7 385.1 560.2 385.8 C560.7 386.6 561.9 387.9 562.9 388.5 C563.9 389.1 568 391.6 569.8 392 C571.6 392.3 580.1 403.2 581.3 392 C582.4 380.8 582.9 291.5 581.3 280.3 C579.7 269.1 566.8 279.9 565 279.9 C563.2 279.9 563.4 280.3 563.1 280.7 C562.8 281 562.1 282.5 561.8 283.2 C561.4 283.8 560.3 286.3 559.8 287 C559.4 287.7 558 290.3 557.3 290.3 C556.7 290.3 554.3 287.5 553.5 287 C552.8 286.5 550.5 285.2 549.7 285.1 C548.9 285 546.7 285.8 545.9 286 C545 286.3 541.9 287.7 541.1 287.6 C540.2 287.5 537.9 285.7 537.2 285.1 C536.6 284.5 534.8 282.1 534.4 281.3 C534 280.4 533.1 277.4 533 276.5 C532.9 275.5 533.3 272.6 533.4 271.7 C533.5 270.7 534.3 267.8 534.4 266.9 C534.4 266 534.2 263.3 533.8 262.6 C533.4 262 531.4 260.5 530.5 260.1 C529.6 259.8 525.9 259.2 524.8 259.2 C523.7 259.1 520 259.7 519.1 259.6 C518.2 259.5 516.1 258.8 515.8 258.2 C515.6 257.6 516.4 254.5 516.6 253.4 C516.8 252.4 517.6 248.7 517.7 247.7 C517.9 246.6 518.1 244 518.1 242.7 C518.1 241.3 519.2 235.1 518.1 234.2 C517 233.4 508.6 233.4 507.6 234.2 C506.5 235.1 507.7 241.5 507.6 242.7 C507.4 243.9 506.7 245.5 506.2 246.1 C505.7 246.7 503.6 248.3 502.8 248.6 C502 248.9 499 249.3 498 249.2 C497 249.1 494 248.1 493.2 247.7 C492.4 247.2 490.7 245.3 490.3 244.8 C490 244.3 489.5 243.7 489.4 242.7 C489.3 241.6 493.2 235.1 489.4 234.2 C485.5 233.4 454.4 233.6 451.1 234.2 Z" fill="none" stroke="#fff" stroke-width="4.0" stroke-linejoin="round"/>
<path d="M451.1 234.2 C447.7 234.9 455.2 240.1 455.9 241 C456.5 241.8 457.1 242.1 457.8 242.7 C458.5 243.3 461.5 245.9 462.6 246.7 C463.6 247.5 467 249.8 468.3 250.5 C469.7 251.3 474.4 253.7 476 254.4 C477.5 255.1 482.2 257.1 483.6 257.6 C485.1 258.2 489.3 260 490.3 260.1 C491.4 260.3 493.4 258.9 494.2 258.8 C494.9 258.7 497.1 258.8 498 259.2 C498.9 259.6 501.8 262.3 502.8 263 C503.7 263.8 506.6 266.2 507.6 266.9 C508.5 267.5 511.3 269.2 512.4 269.7 C513.4 270.3 517.1 271.7 518.1 272.2 C519.1 272.8 521.3 274.7 521.9 275.5 C522.6 276.3 524.2 279.3 524.8 280.3 C525.4 281.3 527 284.3 527.7 285.1 C528.3 285.9 530.6 287.4 531.5 288 C532.4 288.5 535.3 289.8 536.3 290.3 C537.2 290.8 540.4 292.3 541.1 292.8 C541.8 293.2 543 294.8 543.4 294.7 C543.8 294.6 544.6 292.4 544.9 291.8 C545.2 291.2 546 289.4 546.4 288.9 C546.9 288.4 548.5 287.1 549.1 287 C549.7 286.9 551.6 287.6 552.2 288 C552.7 288.4 554.1 290.3 554.5 290.8 C554.9 291.4 556 293 556 293.7 C556 294.5 555.1 297.6 554.9 298.5 C554.7 299.5 554.1 302.4 554.1 303.3 C554.1 304.3 554.6 307.3 554.5 308.1 C554.3 309 553 311.2 552.6 312 C552.1 312.7 550.2 315 549.7 315.8 C549.2 316.6 547.5 319.2 547.4 319.6 C547.2 320.1 548.3 319.9 548.2 320.2 C548.1 320.5 546.8 322.2 546.4 322.9 C546.1 323.6 544.8 326 544.5 326.7 C544.2 327.5 543.3 329.9 543.4 330.6 C543.4 331.2 544.6 333 544.9 333.5 C545.2 333.9 546.6 335 546.4 335.4 C546.3 335.7 543.5 336.4 543.4 336.7 C543.2 337 545 338.2 544.9 338.6 C544.8 339.1 542.5 340.6 542 341.1 C541.6 341.7 540.8 343.3 540.7 344 C540.6 344.7 540.9 347.1 541.1 347.8 C541.3 348.6 542.2 350.9 542.6 351.7 C543 352.5 544.4 355 544.9 355.9 C545.4 356.8 547.2 359.4 547.8 360.3 C548.3 361.3 549.7 364.4 550.3 365.5 C550.8 366.6 552.4 369.8 552.9 370.9 C553.5 371.9 554.9 375.2 555.4 376.2 C555.9 377.3 557.4 380.5 557.9 381.4 C558.4 382.4 559.7 385.1 560.2 385.8 C560.7 386.6 561.9 387.9 562.9 388.5 C563.9 389.1 568 391.6 569.8 392 C571.6 392.3 580.1 403.2 581.3 392 C582.4 380.8 582.9 291.5 581.3 280.3 C579.7 269.1 566.8 279.9 565 279.9 C563.2 279.9 563.4 280.3 563.1 280.7 C562.8 281 562.1 282.5 561.8 283.2 C561.4 283.8 560.3 286.3 559.8 287 C559.4 287.7 558 290.3 557.3 290.3 C556.7 290.3 554.3 287.5 553.5 287 C552.8 286.5 550.5 285.2 549.7 285.1 C548.9 285 546.7 285.8 545.9 286 C545 286.3 541.9 287.7 541.1 287.6 C540.2 287.5 537.9 285.7 537.2 285.1 C536.6 284.5 534.8 282.1 534.4 281.3 C534 280.4 533.1 277.4 533 276.5 C532.9 275.5 533.3 272.6 533.4 271.7 C533.5 270.7 534.3 267.8 534.4 266.9 C534.4 266 534.2 263.3 533.8 262.6 C533.4 262 531.4 260.5 530.5 260.1 C529.6 259.8 525.9 259.2 524.8 259.2 C523.7 259.1 520 259.7 519.1 259.6 C518.2 259.5 516.1 258.8 515.8 258.2 C515.6 257.6 516.4 254.5 516.6 253.4 C516.8 252.4 517.6 248.7 517.7 247.7 C517.9 246.6 518.1 244 518.1 242.7 C518.1 241.3 519.2 235.1 518.1 234.2 C517 233.4 508.6 233.4 507.6 234.2 C506.5 235.1 507.7 241.5 507.6 242.7 C507.4 243.9 506.7 245.5 506.2 246.1 C505.7 246.7 503.6 248.3 502.8 248.6 C502 248.9 499 249.3 498 249.2 C497 249.1 494 248.1 493.2 247.7 C492.4 247.2 490.7 245.3 490.3 244.8 C490 244.3 489.5 243.7 489.4 242.7 C489.3 241.6 493.2 235.1 489.4 234.2 C485.5 233.4 454.4 233.6 451.1 234.2 Z" class="land"/>
<path d="M526.1 274.9 C526.4 274.8 527.2 275.2 527.7 275.7 C528.2 276.2 529 277.4 529.2 278 C529.4 278.6 529.1 279.1 528.8 279.1 C528.5 279.2 527.7 278.8 527.3 278.4 C526.8 277.9 526.3 277 526.1 276.5 C525.9 275.9 525.9 275 526.1 274.9 Z" fill="#fff" stroke="none"/>
<path d="M551.2 249.2 C551.4 248.8 552.1 248.2 552.9 248.1 C553.7 247.9 555.2 248.1 556 248.4 C556.8 248.8 557.8 249.5 557.9 250 C558.1 250.4 557.5 250.9 556.8 251.1 C556.1 251.3 554.5 251.3 553.7 251.1 C552.9 251 552.2 250.7 551.8 250.4 C551.4 250 551 249.6 551.2 249.2 Z" fill="#fff" stroke="#000" stroke-width="1.1"/>
<path d="M505.8 323.3 C506 322.9 506.9 323.6 507.4 324.4 C507.8 325.3 508.6 327.4 508.5 328.3 C508.5 329.1 507.4 329.7 507 329.4 C506.6 329.2 506.4 327.8 506.2 326.7 C506 325.7 505.7 323.7 505.8 323.3 Z" fill="#222" stroke="none"/>
<rect x="308.4" y="395.6" width="1.6" height="1.4" fill="#111" transform="rotate(35 309.2 396.3)"/>
</g>
<rect x="306.8" y="242.7" width="256.2" height="163" fill="none" stroke="#111" stroke-width="0.8"/>
<text transform="translate(303.4 244.8) scale(0.8 1)" class="tk" text-anchor="end">20N</text>
<line x1="305.3" y1="242.7" x2="306.8" y2="242.7" stroke="#111" stroke-width="0.6"/>
<text transform="translate(303.4 265.2) scale(0.8 1)" class="tk" text-anchor="end">15N</text>
<line x1="305.3" y1="263.1" x2="306.8" y2="263.1" stroke="#111" stroke-width="0.6"/>
<text transform="translate(303.4 285.6) scale(0.8 1)" class="tk" text-anchor="end">10N</text>
<line x1="305.3" y1="283.4" x2="306.8" y2="283.4" stroke="#111" stroke-width="0.6"/>
<text transform="translate(303.4 305.9) scale(0.8 1)" class="tk" text-anchor="end">5N</text>
<line x1="305.3" y1="303.8" x2="306.8" y2="303.8" stroke="#111" stroke-width="0.6"/>
<text transform="translate(303.4 326.3) scale(0.8 1)" class="tk" text-anchor="end">EQ</text>
<line x1="305.3" y1="324.2" x2="306.8" y2="324.2" stroke="#111" stroke-width="0.6"/>
<text transform="translate(303.4 346.7) scale(0.8 1)" class="tk" text-anchor="end">5S</text>
<line x1="305.3" y1="344.6" x2="306.8" y2="344.6" stroke="#111" stroke-width="0.6"/>
<text transform="translate(303.4 367.1) scale(0.8 1)" class="tk" text-anchor="end">10S</text>
<line x1="305.3" y1="364.9" x2="306.8" y2="364.9" stroke="#111" stroke-width="0.6"/>
<text transform="translate(303.4 387.4) scale(0.8 1)" class="tk" text-anchor="end">15S</text>
<line x1="305.3" y1="385.3" x2="306.8" y2="385.3" stroke="#111" stroke-width="0.6"/>
<text transform="translate(303.4 407.8) scale(0.8 1)" class="tk" text-anchor="end">20S</text>
<line x1="305.3" y1="405.7" x2="306.8" y2="405.7" stroke="#111" stroke-width="0.6"/>
<text transform="translate(307.6 413) scale(0.8 1)" class="tk" text-anchor="middle">150W</text>
<line x1="306.8" y1="405.7" x2="306.8" y2="407.2" stroke="#111" stroke-width="0.6"/>
<text transform="translate(341 413) scale(0.8 1)" class="tk" text-anchor="middle">140W</text>
<line x1="341" y1="405.7" x2="341" y2="407.2" stroke="#111" stroke-width="0.6"/>
<text transform="translate(375.1 413) scale(0.8 1)" class="tk" text-anchor="middle">130W</text>
<line x1="375.1" y1="405.7" x2="375.1" y2="407.2" stroke="#111" stroke-width="0.6"/>
<text transform="translate(409.3 413) scale(0.8 1)" class="tk" text-anchor="middle">120W</text>
<line x1="409.3" y1="405.7" x2="409.3" y2="407.2" stroke="#111" stroke-width="0.6"/>
<text transform="translate(443.4 413) scale(0.8 1)" class="tk" text-anchor="middle">110W</text>
<line x1="443.4" y1="405.7" x2="443.4" y2="407.2" stroke="#111" stroke-width="0.6"/>
<text transform="translate(477.6 413) scale(0.8 1)" class="tk" text-anchor="middle">100W</text>
<line x1="477.6" y1="405.7" x2="477.6" y2="407.2" stroke="#111" stroke-width="0.6"/>
<text transform="translate(511.8 413) scale(0.8 1)" class="tk" text-anchor="middle">90W</text>
<line x1="511.8" y1="405.7" x2="511.8" y2="407.2" stroke="#111" stroke-width="0.6"/>
<text transform="translate(545.9 413) scale(0.8 1)" class="tk" text-anchor="middle">80W</text>
<line x1="545.9" y1="405.7" x2="545.9" y2="407.2" stroke="#111" stroke-width="0.6"/>
<text x="313.2" y="259.3" class="lag">LAG 22</text>
<text x="294.0" y="232.3" class="pl">D</text>
<clipPath id="cbD"><rect x="309.7" y="418.9" width="250.7" height="4.6" rx="2.6" ry="2.3"/></clipPath>
<g clip-path="url(#cbD)">
<rect x="309.7" y="418.9" width="40.1" height="4.6" fill="#b4f0fa"/>
<rect x="349.8" y="418.9" width="42.3" height="4.6" fill="#ffffff"/>
<rect x="392.1" y="418.9" width="41.7" height="4.6" fill="#ffe878"/>
<rect x="433.8" y="418.9" width="43.6" height="4.6" fill="#ffc03c"/>
<rect x="477.4" y="418.9" width="42.9" height="4.6" fill="#ffa000"/>
<rect x="520.3" y="418.9" width="40.1" height="4.6" fill="#ff6000"/>
</g>
<rect x="309.7" y="418.9" width="250.7" height="4.6" rx="2.6" ry="2.3" fill="none" stroke="#222" stroke-width="0.7"/>
<line x1="349.8" y1="418.9" x2="349.8" y2="423.5" stroke="#222" stroke-width="0.6"/>
<text x="350.3" y="430.1" class="cl" text-anchor="middle">−0.1</text>
<line x1="392.1" y1="418.9" x2="392.1" y2="423.5" stroke="#222" stroke-width="0.6"/>
<text x="392.1" y="430.1" class="cl" text-anchor="middle">0.1</text>
<line x1="433.8" y1="418.9" x2="433.8" y2="423.5" stroke="#222" stroke-width="0.6"/>
<text x="433.8" y="430.1" class="cl" text-anchor="middle">0.2</text>
<line x1="477.4" y1="418.9" x2="477.4" y2="423.5" stroke="#222" stroke-width="0.6"/>
<text x="477.4" y="430.1" class="cl" text-anchor="middle">0.3</text>
<line x1="520.3" y1="418.9" x2="520.3" y2="423.5" stroke="#222" stroke-width="0.6"/>
<text x="520.3" y="430.1" class="cl" text-anchor="middle">0.4</text>
<clipPath id="clipE"><rect x="18.4" y="472.8" width="252.7" height="161.2"/></clipPath>
<g clip-path="url(#clipE)">
<path d="M-4.6 500.5 C-0.8 494.8 13.5 500.3 18.4 500.5 C23.3 500.7 22.1 501.1 24.6 501.8 C27.2 502.5 30.7 503.7 33.7 504.5 C36.8 505.3 39.5 506.1 42.9 506.7 C46.2 507.3 50.2 507.8 53.8 508.2 C57.5 508.6 61.1 508.8 64.8 509.1 C68.4 509.3 72.1 509.5 75.7 509.6 C79.4 509.7 83 509.7 86.7 509.6 C90.4 509.5 94 509.3 97.7 509.1 C101.3 508.9 107.2 508.6 108.6 508.5 C110 508.4 104.6 508.8 106 508.5 C107.3 508.3 113.3 507.8 116.9 507.3 C120.6 506.7 124.2 505.9 127.9 505.4 C131.5 505 135.2 504.7 138.8 504.5 C142.5 504.4 146.4 504.2 149.8 504.5 C153.1 504.8 155.9 505.4 158.9 506.3 C162 507.3 165.3 508.6 168 510 C170.8 511.4 172.9 513 175.4 514.6 C177.8 516.1 180.2 517.8 182.7 519.1 C185.1 520.5 190 523.1 190 522.8 C189.9 522.5 182.4 517.3 182.3 517.3 C182.2 517.3 187.2 521 189.6 522.8 C192 524.6 194.5 526.4 196.9 528.3 C199.3 530.1 201.9 532.1 204.2 533.7 C206.5 535.4 209.4 537.1 210.6 538.3 C211.8 539.5 212 540.3 211.5 541 C211.1 541.8 209.7 542.5 207.9 542.9 C206 543.2 203 543.2 200.6 543.2 C198.1 543.2 196 543.1 193.3 542.9 C190.5 542.7 187.2 542.3 184.1 542 C181.1 541.7 175.2 541.2 175 541 C174.8 540.9 183.2 541.2 182.7 541 C182.1 540.9 175.4 540.4 171.7 540.1 C168 539.9 164.4 539.7 160.7 539.6 C157.1 539.4 153.4 539.4 149.8 539.2 C146.1 539 142.5 538.8 138.8 538.3 C135.2 537.9 131.5 537.1 127.9 536.5 C124.2 535.9 120 535.4 116.9 534.7 C113.9 534 111.5 532.8 109.5 532.3 C107.5 531.7 107.2 531.9 105 531.4 C102.7 530.9 98.6 530 95.8 529.4 C93.1 528.7 90.7 527.9 88.5 527.3 C86.4 526.8 85.2 526.4 83 526.1 C80.9 525.8 78.8 525.6 75.7 525.5 C72.7 525.4 68.4 525.4 64.8 525.5 C61.1 525.6 57.5 525.8 53.8 526.1 C50.2 526.4 46.2 526.8 42.9 527.3 C39.5 527.9 36.8 528.4 33.7 529.2 C30.7 529.9 27.2 531 24.6 531.9 C22.1 532.8 23.3 534.2 18.4 534.7 C13.5 535.1 -0.8 540.3 -4.6 534.7 C-8.4 529 -8.4 506.2 -4.6 500.5 Z" fill="#ffe878"/>
<path d="M-4.6 507.3 C-0.8 503.8 12.9 507 18.4 507.3 C23.9 507.5 24.8 508 28.3 508.5 C31.7 509.1 35.6 509.8 39.2 510.4 C42.9 510.9 45.9 511.5 50.2 511.8 C54.4 512.2 59.9 512.3 64.8 512.4 C69.7 512.5 75.1 512.5 79.4 512.4 C83.7 512.3 86.7 512 90.4 511.8 C94 511.6 98.7 511.1 101.3 511.1 C103.9 511.1 103.4 511.9 106 511.8 C108.6 511.8 113.3 511.3 116.9 510.9 C120.6 510.5 124.2 509.9 127.9 509.6 C131.5 509.3 135.2 509.2 138.8 509.1 C142.5 509 146.7 508.8 149.8 509.1 C152.8 509.4 154.7 510.2 157.1 510.9 C159.5 511.7 162 512.3 164.4 513.7 C166.8 515 169.6 517.3 171.7 519.1 C173.8 521 176 522.9 177.2 524.6 C178.4 526.3 179.3 527.8 179 529.2 C178.7 530.5 177.2 531.8 175.4 532.8 C173.5 533.8 171.1 534.6 168 535.2 C165 535.8 160.7 536.3 157.1 536.5 C153.4 536.7 149.8 536.7 146.1 536.5 C142.5 536.3 138.8 535.7 135.2 535.2 C131.5 534.7 127.6 534 124.2 533.4 C120.9 532.8 117.7 532.5 115.1 531.6 C112.5 530.6 110.9 528.8 108.6 527.9 C106.3 527 103.7 526.6 101.3 526.1 C98.9 525.5 96.4 525.1 94 524.6 C91.6 524.2 89.1 523.6 86.7 523.3 C84.3 523 83 522.9 79.4 522.8 C75.7 522.7 69.7 522.7 64.8 522.8 C59.9 522.9 54.4 523 50.2 523.3 C45.9 523.6 42.9 524.1 39.2 524.6 C35.6 525.1 31.7 525.8 28.3 526.4 C24.8 527 23.9 528 18.4 528.3 C12.9 528.6 -0.8 531.8 -4.6 528.3 C-8.4 524.8 -8.4 510.8 -4.6 507.3 Z" fill="#ffc03c"/>
<path d="M173.2 522.4 C173.5 520.7 174.2 522.4 175 522.8 C175.8 523.1 177 523.7 177.7 524.6 C178.5 525.5 179.6 527 179.6 528.3 C179.6 529.5 178.5 531.2 177.7 531.9 C177 532.7 175.8 532.6 175 532.8 C174.2 533 173.5 534.7 173.2 533 C172.9 531.3 172.9 524.1 173.2 522.4 Z" fill="#ffc03c"/>
<path d="M-4.6 512.7 C-0.8 511.2 13.2 512.7 18.4 512.7 C23.6 512.7 23.6 512.5 26.4 512.7 C29.3 513 32.5 513.5 35.6 514 C38.6 514.5 42 515.2 44.7 515.8 C47.4 516.5 50.5 517.1 52 517.7 C53.5 518.2 54 518.6 53.8 519.1 C53.7 519.6 52.9 520.1 51.1 520.6 C49.3 521 45.8 521.6 42.9 521.9 C40 522.2 36.5 522.4 33.7 522.4 C31 522.5 29 522.3 26.4 522.2 C23.9 522.1 23.6 521.9 18.4 521.9 C13.2 521.8 -0.8 523.4 -4.6 521.9 C-8.4 520.3 -8.4 514.3 -4.6 512.7 Z" fill="#ffa000"/>
<path d="M94 519.1 C94.5 518.4 95.8 517.2 97.7 516.4 C99.5 515.6 104.2 514.8 105 514.6 C105.7 514.4 100.9 515 102.3 515.1 C103.7 515.2 109.6 515 113.3 515.1 C116.9 515.2 120.6 515.6 124.2 515.8 C127.9 516.1 132.1 516.6 135.2 516.4 C138.2 516.2 140 515.2 142.5 514.6 C144.9 514 147.3 512.9 149.8 512.7 C152.2 512.6 155 513 157.1 513.7 C159.2 514.3 161.2 515.3 162.6 516.4 C163.9 517.5 165 518.8 165.3 520 C165.6 521.3 165.5 522.8 164.4 523.7 C163.3 524.6 161.4 525.1 158.9 525.5 C156.5 525.9 153.1 525.9 149.8 526.1 C146.4 526.2 142.5 526.5 138.8 526.4 C135.2 526.3 131.5 525.8 127.9 525.5 C124.2 525.2 120.6 524.9 116.9 524.6 C113.3 524.3 109.6 524 106 523.7 C102.3 523.4 94.9 522.8 95 522.8 C95.1 522.8 106 523.8 106.8 523.7 C107.5 523.6 101.5 522.9 99.5 522.4 C97.5 522 95.8 521.5 94.9 521 C94 520.4 93.5 519.9 94 519.1 Z" fill="#ffa000"/>
<path d="M176.3 506.3 C176.4 505.7 178.4 504.8 179.9 504.5 C181.4 504.3 184.2 504.5 185.4 504.9 C186.6 505.3 187.4 506.1 187.2 506.7 C187.1 507.3 185.9 508.2 184.5 508.5 C183.1 508.8 180.4 508.9 179 508.5 C177.6 508.2 176.1 507 176.3 506.3 Z" fill="#ffe878"/>
<path d="M70.3 495.4 C70.7 494.3 72.1 492.8 73.9 491.7 C75.7 490.7 78.8 489.6 81.2 489 C83.7 488.4 86.1 488.1 88.5 488.1 C91 488.1 93.4 488.4 95.8 489 C98.3 489.6 101.1 490.7 103.1 491.7 C105.2 492.8 107.2 494.2 108.2 495.4 C109.3 496.6 110.1 498 109.5 499 C109 500.1 106.9 501.1 105 501.8 C103 502.5 100.1 502.8 97.7 503.1 C95.2 503.4 92.8 503.8 90.4 503.6 C87.9 503.4 85.5 502.4 83 501.8 C80.6 501.2 77.7 500.6 75.7 500 C73.8 499.3 72.1 498.9 71.2 498.1 C70.3 497.4 69.8 496.5 70.3 495.4 Z" fill="#b4f0fa"/>
<path d="M198.7 510.9 C198.7 509.7 200.6 508.3 202.4 507.3 C204.2 506.2 207.9 505.6 209.7 504.5 C211.5 503.5 212 501.6 213.3 500.9 C214.7 500.1 216.7 499.5 217.9 500 C219.1 500.4 219.4 502.8 220.7 503.6 C221.9 504.4 223.7 503.9 225.2 504.5 C226.7 505.1 228.6 505.7 229.8 507.3 C231 508.8 231.9 511.5 232.5 513.7 C233.1 515.8 233.6 518.2 233.4 520 C233.3 521.9 232.7 523.5 231.6 524.6 C230.5 525.7 228.9 526.8 227 526.8 C225.2 526.8 222.8 525.6 220.7 524.6 C218.5 523.6 216.4 522.2 214.3 521 C212.1 519.7 209.8 518.4 207.9 517.3 C205.9 516.2 203.9 515.6 202.4 514.6 C200.9 513.5 198.7 512.1 198.7 510.9 Z" fill="#b4f0fa"/>
<path d="M209.7 512.7 C209.8 511.8 211.1 510.6 212.4 510 C213.8 509.4 216.1 509.1 217.9 509.1 C219.7 509.1 221.9 509.4 223.4 510 C224.9 510.6 226.2 511.5 227 512.7 C227.9 514 228.5 516 228.3 517.3 C228.2 518.6 227.3 520.1 226.1 520.6 C225 521 223.2 520.5 221.6 520 C219.9 519.6 217.8 518.4 216.1 517.7 C214.4 516.9 212.6 516.3 211.5 515.5 C210.5 514.7 209.5 513.7 209.7 512.7 Z" fill="#96d2fa"/>
<path d="M207 496.3 C207.1 495.7 208.2 495.1 208.8 495.4 C209.4 495.7 210.2 497.2 210.6 498.1 C211.1 499 211.7 500.4 211.5 500.9 C211.4 501.4 210.3 501.5 209.7 501.2 C209.1 500.9 208.3 499.9 207.9 499 C207.4 498.2 206.8 496.9 207 496.3 Z" fill="#b4f0fa"/>
<path d="M48.3 538.3 C49.1 537.5 51.1 536.5 53.8 535.9 C56.6 535.4 61.1 535.2 64.8 535.2 C68.4 535.2 72.1 535.6 75.7 535.9 C79.4 536.3 83 536.8 86.7 537.4 C90.4 537.9 94 538.6 97.7 539.2 C101.3 539.8 105.4 540.6 108.6 541 C111.8 541.5 113.7 541.6 116.9 542 C120.1 542.3 124.2 542.8 127.9 543.2 C131.5 543.6 135.2 544 138.8 544.3 C142.5 544.6 146.1 544.9 149.8 545.1 C153.4 545.3 157.1 545.4 160.7 545.6 C164.4 545.8 168 545.9 171.7 546.2 C175.4 546.4 179 546.6 182.7 546.9 C186.3 547.2 193.7 548 193.6 548 C193.6 548 183 546.8 182.3 546.9 C181.6 547 187.2 547.7 189.6 548.4 C192 549.1 194.8 550 196.9 551.1 C199 552.2 200.9 553.5 202.4 554.7 C203.9 556 205.1 557.2 206 558.4 C207 559.6 207.9 561.7 208.2 562 C208.6 562.4 208.4 560 208.2 560.5 C208 561 208.2 564 207 565.1 C205.7 566.2 203.2 566.7 200.6 567.3 C198 567.8 195.7 568.3 191.4 568.4 C187.2 568.5 175.9 568 175 567.8 C174.1 567.6 187.5 567.2 186.3 567.3 C185.1 567.4 174.1 568.1 168 568.4 C162 568.6 155.9 568.7 149.8 568.7 C143.7 568.7 137.6 568.6 131.5 568.4 C125.4 568.1 118.9 567.7 113.3 567.3 C107.6 566.8 101.8 566.2 97.7 565.6 C93.5 565.1 91 564.8 88.5 564.2 C86.1 563.5 84.2 562.7 83 561.8 C81.9 560.9 81.2 559.7 81.6 558.7 C82 557.7 84 556.6 85.2 555.6 C86.5 554.6 88.5 553.5 88.9 552.7 C89.3 551.8 88 550.8 87.6 550.5 C87.2 550.1 88.7 550.7 86.7 550.5 C84.7 550.3 79.4 549.8 75.7 549.3 C72.1 548.7 68.1 548.2 64.8 547.4 C61.4 546.7 58.2 545.8 55.7 544.7 C53.1 543.6 50.5 542.1 49.3 541 C48 540 47.6 539.2 48.3 538.3 Z" fill="#b4f0fa"/>
<path d="M122.4 559.6 C123 558.4 128.2 557.2 131.5 556 C134.9 554.7 138.8 553.4 142.5 552.3 C146.1 551.2 150.1 550.3 153.4 549.6 C156.8 548.8 159.5 548 162.6 547.7 C165.6 547.5 168.4 547.8 171.7 548.3 C175 548.8 179 549.9 182.7 550.8 C186.3 551.8 193.4 553.9 193.6 554.1 C193.9 554.4 184.2 552.2 184.1 552.3 C184.1 552.5 191 553.9 193.3 555 C195.5 556.2 197.4 557.9 197.8 559.2 C198.3 560.6 197.7 562 196 562.9 C194.3 563.8 191.3 564.4 187.8 564.7 C184.3 565.1 175.9 565.1 175 565.1 C174.1 565.1 183.8 564.7 182.7 564.7 C181.5 564.8 172.9 565.3 168 565.5 C163.2 565.6 158.3 565.6 153.4 565.5 C148.6 565.3 143.1 565.1 138.8 564.7 C134.6 564.4 130.6 564.1 127.9 563.3 C125.1 562.4 121.8 560.8 122.4 559.6 Z" fill="#96d2fa"/>
<path d="M233.4 578.8 C233.6 577.3 235 575.8 236.2 575.1 C237.4 574.4 239.2 574.1 240.7 574.6 C242.3 575 243.9 576.3 245.3 577.9 C246.7 579.5 247.7 582 249 584.3 C250.2 586.5 251.9 589.6 252.6 591.6 C253.4 593.5 254 595.1 253.5 596.1 C253.1 597.2 251.2 598 249.9 598 C248.5 598 247 597.3 245.3 596.1 C243.6 594.9 241.5 592.6 239.8 590.7 C238.2 588.7 236.3 586.2 235.3 584.3 C234.2 582.3 233.3 580.3 233.4 578.8 Z" fill="#b4f0fa"/>
<path d="M255.4 618 C255.2 616.7 257 615.5 258.1 614.4 C259.2 613.3 260.4 611.8 261.7 611.7 C263.1 611.5 264.9 612.6 266.3 613.5 C267.7 614.4 269.3 615.5 270 617.1 C270.6 618.8 271.2 622.4 270.3 623.5 C269.4 624.7 266.4 624 264.5 623.9 C262.6 623.7 260.5 623.6 259 622.6 C257.5 621.6 255.5 619.4 255.4 618 Z" fill="#b4f0fa"/>
<path d="M-4.6 558.1 C-0.8 549.6 13.5 558.1 18.4 558.1 C23.3 558.2 22.4 558.3 24.6 558.7 C26.9 559.1 29.2 559.8 31.9 560.5 C34.7 561.2 38 562.1 41 562.9 C44.1 563.7 47.1 564.3 50.2 565.1 C53.2 565.9 56.6 566.9 59.3 567.8 C62 568.7 63.9 569.9 66.6 570.6 C69.3 571.3 72.4 571.7 75.7 572 C79.1 572.4 82.4 572.5 86.7 572.8 C91 573 93.8 573.1 101.3 573.3 C108.8 573.5 120.4 573.9 131.5 574.2 C142.6 574.5 159 575 168 575.1 C177.1 575.3 180.8 575 186 575.1 C191.1 575.2 194.5 575.4 198.7 575.7 C203 576 207.9 576.3 211.5 577 C215.2 577.6 218.2 578.5 220.7 579.7 C223.1 580.9 225.1 582.4 226.1 584.3 C227.2 586.1 227.3 588.4 227 590.7 C226.7 592.9 225.5 595.5 224.3 598 C223.1 600.4 221.4 603.1 219.7 605.3 C218.1 607.4 216.1 609.2 214.3 610.7 C212.4 612.3 210.5 613.3 208.8 614.4 C207.1 615.5 205.3 615.9 204.2 617.1 C203.2 618.4 202.5 620.2 202.4 621.7 C202.2 623.2 203.6 625.1 203.3 626.3 C203 627.4 202.1 628.4 200.6 628.6 C199 628.9 196.6 628.2 194.2 627.5 C191.7 626.9 188.2 626.2 186 625 C183.7 623.8 183.2 621.4 180.8 620.2 C178.5 619.1 175.4 618.6 171.7 618 C168 617.5 165.6 617.3 158.9 617.1 C152.2 617 142.2 617.2 131.5 617.1 C120.9 617 101.3 616.7 95 616.6 C88.7 616.5 96.6 616.6 94 616.6 C91.4 616.5 84.3 616.4 79.4 616.2 C74.5 616 69.7 615.6 64.8 615.3 C59.9 615 54.4 614.8 50.2 614.4 C45.9 614 42.9 613.5 39.2 612.9 C35.6 612.4 31.7 611.7 28.3 611.1 C24.8 610.5 23.9 609.6 18.4 609.3 C12.9 609 -0.8 617.8 -4.6 609.3 C-8.4 600.8 -8.4 566.7 -4.6 558.1 Z" fill="#ffe878"/>
<path d="M-4.6 562.3 C-0.8 554.9 13.2 562.2 18.4 562.3 C23.6 562.5 23.6 562.7 26.4 563.3 C29.3 563.8 32.5 564.7 35.6 565.5 C38.6 566.2 41.7 567 44.7 567.8 C47.7 568.6 50.8 569.4 53.8 570.2 C56.9 571 59.9 571.7 63 572.4 C66 573.1 68.7 573.8 72.1 574.2 C75.4 574.7 78.8 574.9 83 575.1 C87.3 575.4 89.6 575.5 97.7 575.7 C105.7 575.9 119.8 576.1 131.5 576.4 C143.3 576.7 158.4 577.2 168 577.5 C177.7 577.8 183.9 578 189.6 578.2 C195.3 578.4 198.4 578.4 202.4 578.8 C206.3 579.2 210.5 579.7 213.3 580.6 C216.2 581.5 218.4 582.7 219.7 584.3 C221.1 585.8 221.6 587.8 221.6 589.7 C221.6 591.7 220.8 594 219.7 596.1 C218.7 598.3 216.8 600.5 215.2 602.5 C213.5 604.5 211.8 606.4 209.7 608 C207.6 609.6 205.1 611.1 202.4 612.2 C199.7 613.3 196.3 613.9 193.3 614.4 C190.2 614.9 187.2 615.2 184.1 615.3 C181.1 615.5 177.7 615.5 175 615.3 C172.3 615.2 175.3 614.6 168 614.4 C160.8 614.2 143.7 614.2 131.5 614 C119.3 613.9 101.3 613.6 95 613.5 C88.7 613.4 96.6 613.6 94 613.5 C91.4 613.4 84.3 613.1 79.4 612.9 C74.5 612.8 69.7 612.8 64.8 612.6 C59.9 612.4 54.4 612 50.2 611.7 C45.9 611.3 42.9 610.9 39.2 610.4 C35.6 609.9 31.7 609.1 28.3 608.6 C24.8 608 23.9 607.3 18.4 607.1 C12.9 606.8 -0.8 614.5 -4.6 607.1 C-8.4 599.6 -8.4 569.8 -4.6 562.3 Z" fill="#ffc03c"/>
<path d="M-4.6 566.5 C-0.8 560.2 13.2 566.4 18.4 566.5 C23.6 566.7 23.6 566.8 26.4 567.3 C29.3 567.8 32.8 568.9 35.6 569.7 C38.3 570.4 40.1 571.3 42.9 572 C45.6 572.8 48.7 573.6 52 574.2 C55.3 574.8 59.3 575.2 63 575.7 C66.6 576.1 70 576.6 73.9 577 C77.9 577.3 82.1 577.7 86.7 577.9 C91.3 578 96.9 577.7 101.3 577.9 C105.7 578 108.2 578.5 113.3 578.8 C118.3 579 126.7 579 131.5 579.3 C136.4 579.6 138.8 580.1 142.5 580.6 C146.1 581.1 150.4 582.3 153.4 582.4 C156.5 582.6 157.7 581.8 160.7 581.5 C163.8 581.2 167.4 580.9 171.7 580.6 C176 580.4 183.9 580.1 186.3 580.1 C188.7 580.1 184.2 580.4 186 580.6 C187.7 580.9 193.6 580.9 196.9 581.5 C200.3 582.1 203.8 583 206 584.3 C208.3 585.5 209.8 587.2 210.6 588.8 C211.4 590.5 211.1 592.3 210.6 594.3 C210.2 596.3 209.2 598.7 207.9 600.7 C206.5 602.7 204.5 604.7 202.4 606.2 C200.3 607.6 197.8 608.5 195.1 609.3 C192.3 610 189.3 610.4 186 610.7 C182.6 611 178 611 175 611.1 C172 611.2 172.2 611.2 168 611.1 C163.8 611 155.9 610.8 149.8 610.7 C143.7 610.7 137.6 610.8 131.5 610.7 C125.4 610.7 119.5 610.5 113.3 610.4 C107 610.2 99.6 609.9 94 609.8 C88.4 609.7 84.3 609.9 79.4 609.8 C74.5 609.7 69.7 609.5 64.8 609.3 C59.9 609.1 54.4 608.9 50.2 608.6 C45.9 608.2 42.9 607.6 39.2 607.1 C35.6 606.5 31.7 605.7 28.3 605.3 C24.8 604.8 23.9 604.5 18.4 604.3 C12.9 604.2 -0.8 610.7 -4.6 604.3 C-8.4 598 -8.4 572.8 -4.6 566.5 Z" fill="#ffa000"/>
<path d="M93.1 599.8 C94 599.4 96.9 598.9 99.5 598.9 C102.1 598.8 106.2 599.1 108.6 599.4 C111 599.7 114.1 600.3 114.1 600.7 C114.1 601.1 111 601.8 108.6 602 C106.2 602.2 101.9 602.1 99.5 602 C97 601.9 95.1 601.6 94 601.2 C92.9 600.9 92.2 600.2 93.1 599.8 Z" fill="#ffc03c"/>
<path d="M94.1 599.4 C95.5 598.9 99.7 598.9 102.3 599.1 C104.9 599.2 107.5 599.7 109.6 600.1 C111.7 600.6 115.1 601.5 115.1 602 C115.1 602.5 112 603 109.6 603.1 C107.2 603.2 103.1 602.7 100.5 602.5 C97.9 602.3 95.2 602.5 94.1 602 C93 601.5 92.7 599.9 94.1 599.4 Z" fill="#ffc03c"/>
<path d="M-4.6 577.9 C-0.8 574.5 13.5 578 18.4 577.9 C23.3 577.7 22.1 577.2 24.6 577 C27.2 576.7 30.7 576.4 33.7 576.4 C36.8 576.4 39.8 576.7 42.9 577 C45.9 577.3 49 577.8 52 578.2 C55 578.7 58.1 579.2 61.1 579.7 C64.2 580.2 67.2 580.7 70.3 581.2 C73.3 581.6 76 582.1 79.4 582.4 C82.7 582.8 86.7 583 90.4 583.3 C94 583.7 99.3 584.3 101.3 584.3 C103.3 584.2 100.9 582.9 102.3 583 C103.7 583.1 107.5 584.1 109.6 584.8 C111.7 585.5 113.7 586.7 115.1 587.4 C116.5 588 118.1 588.3 117.8 588.8 C117.5 589.3 115.2 590 113.3 590.3 C111.3 590.6 109 590.6 106 590.7 C102.9 590.7 94.6 590.6 95 590.7 C95.4 590.7 107.6 590.9 108.6 591 C109.7 591.2 104 591.4 101.3 591.6 C98.6 591.7 95.2 591.9 92.2 592.1 C89.1 592.3 85.8 592.5 83 592.8 C80.3 593.1 78.2 593.4 75.7 593.9 C73.3 594.5 70.9 595.4 68.4 596.1 C66 596.9 63.6 597.7 61.1 598.3 C58.7 598.9 56.3 599.4 53.8 599.8 C51.4 600.2 49 600.7 46.5 600.7 C44.1 600.7 41.7 600.2 39.2 599.8 C36.8 599.4 34.3 598.6 31.9 598.3 C29.5 598 26.9 598 24.6 598 C22.4 597.9 23.3 598 18.4 598 C13.5 598 -0.8 601.3 -4.6 598 C-8.4 594.6 -8.4 581.2 -4.6 577.9 Z" fill="#ff6000"/>
<path d="M177.2 595.2 C177.5 594.1 178.4 593.5 179.9 592.8 C181.4 592.2 184 591.6 186.3 591.6 C188.6 591.5 194 592.3 193.6 592.5 C193.2 592.7 184.2 592.8 184.1 592.8 C184.1 592.8 190.5 592.2 193.3 592.5 C196 592.8 198.9 593.6 200.6 594.7 C202.2 595.7 203.2 597.5 203.3 598.9 C203.5 600.3 202.7 601.9 201.5 603.1 C200.3 604.2 198.1 605.1 196 605.6 C193.9 606.1 191 606.4 188.7 606.2 C186.4 606 181.5 604.3 182.3 604.3 C183.1 604.3 192.9 606 193.6 606.2 C194.3 606.4 188.4 606.1 186.3 605.6 C184.2 605.2 182.2 604.4 180.8 603.4 C179.5 602.5 178.7 601.2 178.1 599.8 C177.5 598.4 176.9 596.4 177.2 595.2 Z" fill="#ff6000"/>
<pattern id="dotE" x="17.89" y="473.20" width="3.369" height="4.030" patternUnits="userSpaceOnUse"><rect x="1.28" y="1.61" width="0.8" height="0.8" fill="#1e1205" fill-opacity="0.95"/></pattern>
<pattern id="crsE" x="17.89" y="473.20" width="3.369" height="4.030" patternUnits="userSpaceOnUse"><path d="M0.13 2.01 H3.23 M1.68 0.26 V3.76" stroke="#140800" stroke-width="0.95" stroke-opacity="0.88" fill="none"/></pattern>
<clipPath id="dcE0"><path d="M-4.6 566.5 C-0.8 560.2 13.2 566.4 18.4 566.5 C23.6 566.7 23.6 566.8 26.4 567.3 C29.3 567.8 32.8 568.9 35.6 569.7 C38.3 570.4 40.1 571.3 42.9 572 C45.6 572.8 48.7 573.6 52 574.2 C55.3 574.8 59.3 575.2 63 575.7 C66.6 576.1 70 576.6 73.9 577 C77.9 577.3 82.1 577.7 86.7 577.9 C91.3 578 96.9 577.7 101.3 577.9 C105.7 578 108.2 578.5 113.3 578.8 C118.3 579 126.7 579 131.5 579.3 C136.4 579.6 138.8 580.1 142.5 580.6 C146.1 581.1 150.4 582.3 153.4 582.4 C156.5 582.6 157.7 581.8 160.7 581.5 C163.8 581.2 167.4 580.9 171.7 580.6 C176 580.4 183.9 580.1 186.3 580.1 C188.7 580.1 184.2 580.4 186 580.6 C187.7 580.9 193.6 580.9 196.9 581.5 C200.3 582.1 203.8 583 206 584.3 C208.3 585.5 209.8 587.2 210.6 588.8 C211.4 590.5 211.1 592.3 210.6 594.3 C210.2 596.3 209.2 598.7 207.9 600.7 C206.5 602.7 204.5 604.7 202.4 606.2 C200.3 607.6 197.8 608.5 195.1 609.3 C192.3 610 189.3 610.4 186 610.7 C182.6 611 178 611 175 611.1 C172 611.2 172.2 611.2 168 611.1 C163.8 611 155.9 610.8 149.8 610.7 C143.7 610.7 137.6 610.8 131.5 610.7 C125.4 610.7 119.5 610.5 113.3 610.4 C107 610.2 99.6 609.9 94 609.8 C88.4 609.7 84.3 609.9 79.4 609.8 C74.5 609.7 69.7 609.5 64.8 609.3 C59.9 609.1 54.4 608.9 50.2 608.6 C45.9 608.2 42.9 607.6 39.2 607.1 C35.6 606.5 31.7 605.7 28.3 605.3 C24.8 604.8 23.9 604.5 18.4 604.3 C12.9 604.2 -0.8 610.7 -4.6 604.3 C-8.4 598 -8.4 572.8 -4.6 566.5 Z"/></clipPath>
<rect x="18.4" y="472.8" width="252.7" height="161.2" fill="url(#dotE)" clip-path="url(#dcE0)"/>
<path d="M17.89 571.94h3.37M19.58 570.07v3.73M17.89 575.97h3.37M19.58 574.1v3.73M17.89 580h3.37M19.58 578.13v3.73M17.89 584.03h3.37M19.58 582.16v3.73M17.89 588.06h3.37M19.58 586.19v3.73M17.89 592.09h3.37M19.58 590.22v3.73M17.89 596.12h3.37M19.58 594.25v3.73M21.26 575.97h3.37M22.95 574.1v3.73M21.26 580h3.37M22.95 578.13v3.73M21.26 584.03h3.37M22.95 582.16v3.73M21.26 588.06h3.37M22.95 586.19v3.73M21.26 592.09h3.37M22.95 590.22v3.73M21.26 596.12h3.37M22.95 594.25v3.73M24.63 575.97h3.37M26.32 574.1v3.73M24.63 580h3.37M26.32 578.13v3.73M24.63 584.03h3.37M26.32 582.16v3.73M24.63 588.06h3.37M26.32 586.19v3.73M24.63 592.09h3.37M26.32 590.22v3.73M24.63 596.12h3.37M26.32 594.25v3.73M28 571.94h3.37M29.69 570.07v3.73M28 575.97h3.37M29.69 574.1v3.73M28 580h3.37M29.69 578.13v3.73M28 584.03h3.37M29.69 582.16v3.73M28 588.06h3.37M29.69 586.19v3.73M28 592.09h3.37M29.69 590.22v3.73M28 596.12h3.37M29.69 594.25v3.73M31.37 575.97h3.37M33.06 574.1v3.73M31.37 580h3.37M33.06 578.13v3.73M31.37 584.03h3.37M33.06 582.16v3.73M31.37 588.06h3.37M33.06 586.19v3.73M31.37 592.09h3.37M33.06 590.22v3.73M31.37 596.12h3.37M33.06 594.25v3.73M31.37 600.15h3.37M33.06 598.28v3.73M34.74 575.97h3.37M36.43 574.1v3.73M34.74 580h3.37M36.43 578.13v3.73M34.74 584.03h3.37M36.43 582.16v3.73M34.74 588.06h3.37M36.43 586.19v3.73M34.74 592.09h3.37M36.43 590.22v3.73M34.74 596.12h3.37M36.43 594.25v3.73M34.74 600.15h3.37M36.43 598.28v3.73M38.11 575.97h3.37M39.8 574.1v3.73M38.11 580h3.37M39.8 578.13v3.73M38.11 584.03h3.37M39.8 582.16v3.73M38.11 588.06h3.37M39.8 586.19v3.73M38.11 592.09h3.37M39.8 590.22v3.73M38.11 596.12h3.37M39.8 594.25v3.73M38.11 600.15h3.37M39.8 598.28v3.73M41.48 575.97h3.37M43.16 574.1v3.73M41.48 580h3.37M43.16 578.13v3.73M41.48 584.03h3.37M43.16 582.16v3.73M41.48 588.06h3.37M43.16 586.19v3.73M41.48 592.09h3.37M43.16 590.22v3.73M41.48 596.12h3.37M43.16 594.25v3.73M41.48 600.15h3.37M43.16 598.28v3.73M44.85 580h3.37M46.53 578.13v3.73M44.85 584.03h3.37M46.53 582.16v3.73M44.85 588.06h3.37M46.53 586.19v3.73M44.85 592.09h3.37M46.53 590.22v3.73M44.85 596.12h3.37M46.53 594.25v3.73M44.85 600.15h3.37M46.53 598.28v3.73M48.22 580h3.37M49.9 578.13v3.73M48.22 584.03h3.37M49.9 582.16v3.73M48.22 588.06h3.37M49.9 586.19v3.73M48.22 592.09h3.37M49.9 590.22v3.73M48.22 596.12h3.37M49.9 594.25v3.73M48.22 600.15h3.37M49.9 598.28v3.73M48.22 604.18h3.37M49.9 602.31v3.73M51.59 580h3.37M53.27 578.13v3.73M51.59 584.03h3.37M53.27 582.16v3.73M51.59 588.06h3.37M53.27 586.19v3.73M51.59 592.09h3.37M53.27 590.22v3.73M51.59 596.12h3.37M53.27 594.25v3.73M51.59 600.15h3.37M53.27 598.28v3.73M54.96 580h3.37M56.64 578.13v3.73M54.96 584.03h3.37M56.64 582.16v3.73M54.96 588.06h3.37M56.64 586.19v3.73M54.96 592.09h3.37M56.64 590.22v3.73M54.96 596.12h3.37M56.64 594.25v3.73M54.96 600.15h3.37M56.64 598.28v3.73M58.33 580h3.37M60.01 578.13v3.73M58.33 584.03h3.37M60.01 582.16v3.73M58.33 588.06h3.37M60.01 586.19v3.73M58.33 592.09h3.37M60.01 590.22v3.73M58.33 596.12h3.37M60.01 594.25v3.73M58.33 600.15h3.37M60.01 598.28v3.73M58.33 604.18h3.37M60.01 602.31v3.73M61.7 580h3.37M63.38 578.13v3.73M61.7 584.03h3.37M63.38 582.16v3.73M61.7 588.06h3.37M63.38 586.19v3.73M61.7 592.09h3.37M63.38 590.22v3.73M61.7 596.12h3.37M63.38 594.25v3.73M61.7 600.15h3.37M63.38 598.28v3.73M61.7 604.18h3.37M63.38 602.31v3.73M65.07 580h3.37M66.75 578.13v3.73M65.07 584.03h3.37M66.75 582.16v3.73M65.07 588.06h3.37M66.75 586.19v3.73M65.07 592.09h3.37M66.75 590.22v3.73M65.07 596.12h3.37M66.75 594.25v3.73M68.43 584.03h3.37M70.12 582.16v3.73M68.43 588.06h3.37M70.12 586.19v3.73M68.43 592.09h3.37M70.12 590.22v3.73M68.43 596.12h3.37M70.12 594.25v3.73M71.8 584.03h3.37M73.49 582.16v3.73M71.8 588.06h3.37M73.49 586.19v3.73M71.8 592.09h3.37M73.49 590.22v3.73M71.8 596.12h3.37M73.49 594.25v3.73M75.17 584.03h3.37M76.86 582.16v3.73M75.17 588.06h3.37M76.86 586.19v3.73M75.17 592.09h3.37M76.86 590.22v3.73M78.54 580h3.37M80.23 578.13v3.73M78.54 584.03h3.37M80.23 582.16v3.73M78.54 588.06h3.37M80.23 586.19v3.73M78.54 592.09h3.37M80.23 590.22v3.73M81.91 584.03h3.37M83.6 582.16v3.73M81.91 588.06h3.37M83.6 586.19v3.73M81.91 592.09h3.37M83.6 590.22v3.73M85.28 584.03h3.37M86.97 582.16v3.73M85.28 588.06h3.37M86.97 586.19v3.73M85.28 592.09h3.37M86.97 590.22v3.73M88.65 584.03h3.37M90.34 582.16v3.73M88.65 588.06h3.37M90.34 586.19v3.73M88.65 592.09h3.37M90.34 590.22v3.73M92.02 584.03h3.37M93.7 582.16v3.73M92.02 588.06h3.37M93.7 586.19v3.73M92.02 592.09h3.37M93.7 590.22v3.73M95.39 584.03h3.37M97.07 582.16v3.73M95.39 588.06h3.37M97.07 586.19v3.73M95.39 592.09h3.37M97.07 590.22v3.73M98.76 584.03h3.37M100.44 582.16v3.73M98.76 588.06h3.37M100.44 586.19v3.73M102.13 584.03h3.37M103.81 582.16v3.73M102.13 588.06h3.37M103.81 586.19v3.73M105.5 584.03h3.37M107.18 582.16v3.73M105.5 588.06h3.37M107.18 586.19v3.73M108.87 588.06h3.37M110.55 586.19v3.73M108.87 592.09h3.37M110.55 590.22v3.73M108.87 596.12h3.37M110.55 594.25v3.73M112.24 588.06h3.37M113.92 586.19v3.73M115.61 588.06h3.37M117.29 586.19v3.73M118.97 588.06h3.37M120.66 586.19v3.73M118.97 592.09h3.37M120.66 590.22v3.73M122.34 588.06h3.37M124.03 586.19v3.73M122.34 592.09h3.37M124.03 590.22v3.73M125.71 588.06h3.37M127.4 586.19v3.73M125.71 592.09h3.37M127.4 590.22v3.73M129.08 588.06h3.37M130.77 586.19v3.73M129.08 592.09h3.37M130.77 590.22v3.73M132.45 588.06h3.37M134.14 586.19v3.73M162.78 588.06h3.37M164.46 586.19v3.73M162.78 592.09h3.37M164.46 590.22v3.73M162.78 600.15h3.37M164.46 598.28v3.73M166.15 588.06h3.37M167.83 586.19v3.73M166.15 592.09h3.37M167.83 590.22v3.73M166.15 604.18h3.37M167.83 602.31v3.73M169.51 596.12h3.37M171.2 594.25v3.73M172.88 588.06h3.37M174.57 586.19v3.73M172.88 592.09h3.37M174.57 590.22v3.73M176.25 588.06h3.37M177.94 586.19v3.73M176.25 592.09h3.37M177.94 590.22v3.73M179.62 592.09h3.37M181.31 590.22v3.73M179.62 596.12h3.37M181.31 594.25v3.73M179.62 600.15h3.37M181.31 598.28v3.73M179.62 604.18h3.37M181.31 602.31v3.73M182.99 592.09h3.37M184.68 590.22v3.73M182.99 596.12h3.37M184.68 594.25v3.73M182.99 600.15h3.37M184.68 598.28v3.73M182.99 604.18h3.37M184.68 602.31v3.73M186.36 588.06h3.37M188.05 586.19v3.73M186.36 592.09h3.37M188.05 590.22v3.73M186.36 596.12h3.37M188.05 594.25v3.73M186.36 600.15h3.37M188.05 598.28v3.73M186.36 604.18h3.37M188.05 602.31v3.73M189.73 588.06h3.37M191.42 586.19v3.73M189.73 592.09h3.37M191.42 590.22v3.73M189.73 596.12h3.37M191.42 594.25v3.73M189.73 600.15h3.37M191.42 598.28v3.73M189.73 604.18h3.37M191.42 602.31v3.73M193.1 592.09h3.37M194.78 590.22v3.73M193.1 596.12h3.37M194.78 594.25v3.73M193.1 600.15h3.37M194.78 598.28v3.73M193.1 604.18h3.37M194.78 602.31v3.73M196.47 588.06h3.37M198.15 586.19v3.73M196.47 592.09h3.37M198.15 590.22v3.73M196.47 596.12h3.37M198.15 594.25v3.73M196.47 600.15h3.37M198.15 598.28v3.73M196.47 604.18h3.37M198.15 602.31v3.73M199.84 592.09h3.37M201.52 590.22v3.73M199.84 596.12h3.37M201.52 594.25v3.73M199.84 600.15h3.37M201.52 598.28v3.73M199.84 604.18h3.37M201.52 602.31v3.73" stroke="#160a00" stroke-width="0.95" stroke-opacity="0.8" fill="none"/>
<rect x="32.66" y="515.12" width="0.8" height="0.8" fill="#1e1205" fill-opacity="0.95"/>
<rect x="39.4" y="519.15" width="0.8" height="0.8" fill="#1e1205" fill-opacity="0.95"/>
<rect x="42.76" y="519.15" width="0.8" height="0.8" fill="#1e1205" fill-opacity="0.95"/>
<rect x="96.67" y="519.15" width="0.8" height="0.8" fill="#1e1205" fill-opacity="0.95"/>
<rect x="100.04" y="519.15" width="0.8" height="0.8" fill="#1e1205" fill-opacity="0.95"/>
<rect x="106.78" y="519.15" width="0.8" height="0.8" fill="#1e1205" fill-opacity="0.95"/>
<rect x="110.15" y="519.15" width="0.8" height="0.8" fill="#1e1205" fill-opacity="0.95"/>
<rect x="113.52" y="519.15" width="0.8" height="0.8" fill="#1e1205" fill-opacity="0.95"/>
<rect x="110.15" y="515.12" width="0.8" height="0.8" fill="#1e1205" fill-opacity="0.95"/>
<rect x="110.15" y="515.12" width="0.8" height="0.8" fill="#1e1205" fill-opacity="0.95"/>
<rect x="147.21" y="515.12" width="0.8" height="0.8" fill="#1e1205" fill-opacity="0.95"/>
<rect x="150.58" y="515.12" width="0.8" height="0.8" fill="#1e1205" fill-opacity="0.95"/>
<rect x="153.95" y="515.12" width="0.8" height="0.8" fill="#1e1205" fill-opacity="0.95"/>
<rect x="157.32" y="515.12" width="0.8" height="0.8" fill="#1e1205" fill-opacity="0.95"/>
<rect x="96.67" y="519.15" width="0.8" height="0.8" fill="#1e1205" fill-opacity="0.95"/>
<rect x="100.04" y="519.15" width="0.8" height="0.8" fill="#1e1205" fill-opacity="0.95"/>
<rect x="110.15" y="519.15" width="0.8" height="0.8" fill="#1e1205" fill-opacity="0.95"/>
<rect x="113.52" y="519.15" width="0.8" height="0.8" fill="#1e1205" fill-opacity="0.95"/>
<rect x="116.89" y="519.15" width="0.8" height="0.8" fill="#1e1205" fill-opacity="0.95"/>
<rect x="120.26" y="519.15" width="0.8" height="0.8" fill="#1e1205" fill-opacity="0.95"/>
<rect x="123.63" y="519.15" width="0.8" height="0.8" fill="#1e1205" fill-opacity="0.95"/>
<rect x="127" y="519.15" width="0.8" height="0.8" fill="#1e1205" fill-opacity="0.95"/>
<rect x="130.37" y="519.15" width="0.8" height="0.8" fill="#1e1205" fill-opacity="0.95"/>
<rect x="143.84" y="519.15" width="0.8" height="0.8" fill="#1e1205" fill-opacity="0.95"/>
<rect x="147.21" y="519.15" width="0.8" height="0.8" fill="#1e1205" fill-opacity="0.95"/>
<rect x="150.58" y="519.15" width="0.8" height="0.8" fill="#1e1205" fill-opacity="0.95"/>
<rect x="153.95" y="519.15" width="0.8" height="0.8" fill="#1e1205" fill-opacity="0.95"/>
<rect x="157.32" y="519.15" width="0.8" height="0.8" fill="#1e1205" fill-opacity="0.95"/>
<rect x="123.63" y="523.18" width="0.8" height="0.8" fill="#1e1205" fill-opacity="0.95"/>
<rect x="127" y="523.18" width="0.8" height="0.8" fill="#1e1205" fill-opacity="0.95"/>
<rect x="130.37" y="523.18" width="0.8" height="0.8" fill="#1e1205" fill-opacity="0.95"/>
<rect x="147.21" y="523.18" width="0.8" height="0.8" fill="#1e1205" fill-opacity="0.95"/>
<rect x="157.32" y="523.18" width="0.8" height="0.8" fill="#1e1205" fill-opacity="0.95"/>
<rect x="160.69" y="523.18" width="0.8" height="0.8" fill="#1e1205" fill-opacity="0.95"/>
<rect x="164.06" y="523.18" width="0.8" height="0.8" fill="#1e1205" fill-opacity="0.95"/>
<line x1="52.1" y1="472.8" x2="52.1" y2="634" class="gr"/>
<line x1="85.8" y1="472.8" x2="85.8" y2="634" class="gr"/>
<line x1="119.5" y1="472.8" x2="119.5" y2="634" class="gr"/>
<line x1="153.2" y1="472.8" x2="153.2" y2="634" class="gr"/>
<line x1="186.9" y1="472.8" x2="186.9" y2="634" class="gr"/>
<line x1="220.6" y1="472.8" x2="220.6" y2="634" class="gr"/>
<line x1="254.3" y1="472.8" x2="254.3" y2="634" class="gr"/>
<line x1="18.4" y1="492.9" x2="271.1" y2="492.9" class="gr"/>
<line x1="18.4" y1="513.1" x2="271.1" y2="513.1" class="gr"/>
<line x1="18.4" y1="533.2" x2="271.1" y2="533.2" class="gr"/>
<line x1="18.4" y1="553.4" x2="271.1" y2="553.4" class="gr"/>
<line x1="18.4" y1="573.5" x2="271.1" y2="573.5" class="gr"/>
<line x1="18.4" y1="593.7" x2="271.1" y2="593.7" class="gr"/>
<line x1="18.4" y1="613.9" x2="271.1" y2="613.9" class="gr"/>
<path d="M160.7 464.4 C157.4 465.1 164.8 470.2 165.4 471.1 C166.1 471.9 166.7 472.2 167.3 472.8 C168 473.3 171 476 172 476.8 C173.1 477.5 176.4 479.8 177.7 480.6 C179 481.3 183.8 483.7 185.3 484.4 C186.8 485.1 191.4 487 192.8 487.6 C194.2 488.2 198.4 489.9 199.4 490 C200.5 490.2 202.5 488.8 203.2 488.7 C204 488.6 206.1 488.7 207 489.1 C207.8 489.5 210.8 492.1 211.7 492.9 C212.6 493.7 215.5 496 216.4 496.7 C217.4 497.4 220.1 499 221.1 499.5 C222.2 500.1 225.9 501.4 226.8 502 C227.8 502.6 229.9 504.4 230.6 505.2 C231.3 506 232.9 509 233.4 510 C234 510.9 235.6 514 236.3 514.7 C236.9 515.5 239.2 517.1 240 517.6 C240.9 518.1 243.8 519.4 244.8 519.8 C245.7 520.3 248.8 521.9 249.5 522.3 C250.2 522.7 251.4 524.3 251.7 524.2 C252.1 524.1 252.9 521.9 253.3 521.4 C253.6 520.8 254.3 519 254.8 518.5 C255.2 518 256.8 516.7 257.4 516.6 C258 516.5 259.9 517.2 260.4 517.6 C261 517.9 262.3 519.8 262.7 520.4 C263.1 521 264.2 522.5 264.2 523.3 C264.2 524 263.3 527.1 263.1 528 C262.9 529 262.4 531.8 262.3 532.8 C262.3 533.7 262.8 536.6 262.7 537.5 C262.5 538.3 261.3 540.5 260.8 541.3 C260.3 542 258.5 544.3 258 545.1 C257.5 545.8 255.9 548.4 255.7 548.9 C255.6 549.3 256.6 549.1 256.5 549.5 C256.4 549.8 255.1 551.5 254.8 552.1 C254.4 552.8 253.2 555.1 252.9 555.9 C252.6 556.7 251.7 559 251.7 559.7 C251.8 560.4 252.9 562.1 253.3 562.6 C253.6 563 254.9 564.1 254.8 564.4 C254.6 564.8 251.9 565.5 251.7 565.8 C251.6 566.1 253.4 567.2 253.3 567.7 C253.1 568.1 250.8 569.6 250.4 570.1 C250 570.7 249.2 572.3 249.1 573 C249 573.7 249.3 576 249.5 576.8 C249.7 577.5 250.6 579.8 251 580.6 C251.4 581.4 252.7 583.9 253.3 584.8 C253.8 585.6 255.6 588.2 256.1 589.1 C256.6 590.1 258 593.2 258.5 594.2 C259 595.3 260.7 598.5 261.2 599.6 C261.7 600.6 263.1 603.8 263.6 604.9 C264.1 605.9 265.6 609 266.1 610 C266.6 610.9 267.9 613.7 268.4 614.4 C268.8 615.1 270.1 616.4 271 617 C271.9 617.6 276 620.1 277.8 620.4 C279.6 620.8 288 631.5 289.1 620.4 C290.3 609.4 290.7 521.1 289.1 510 C287.5 498.9 274.9 509.6 273.1 509.6 C271.3 509.6 271.5 510 271.2 510.4 C270.9 510.7 270.2 512.2 269.9 512.8 C269.5 513.4 268.4 515.9 268 516.6 C267.5 517.3 266.1 519.8 265.5 519.8 C264.9 519.8 262.5 517.1 261.7 516.6 C261 516.1 258.7 514.8 258 514.7 C257.2 514.6 255 515.4 254.2 515.7 C253.3 515.9 250.3 517.3 249.5 517.2 C248.6 517.1 246.4 515.3 245.7 514.7 C245 514.1 243.3 511.8 242.9 510.9 C242.4 510.1 241.6 507.1 241.5 506.2 C241.4 505.2 241.8 502.4 241.9 501.4 C242.1 500.5 242.8 497.6 242.9 496.7 C242.9 495.8 242.7 493.2 242.3 492.5 C241.9 491.9 240 490.4 239.1 490 C238.2 489.7 234.6 489.2 233.4 489.1 C232.3 489 228.6 489.6 227.8 489.5 C226.9 489.4 224.8 488.8 224.5 488.2 C224.3 487.5 225.1 484.5 225.3 483.4 C225.5 482.4 226.3 478.8 226.4 477.7 C226.6 476.7 226.8 474.1 226.8 472.8 C226.8 471.5 227.9 465.3 226.8 464.4 C225.8 463.6 217.5 463.6 216.4 464.4 C215.4 465.3 216.6 471.6 216.4 472.8 C216.3 474 215.6 475.6 215.1 476.2 C214.6 476.8 212.5 478.4 211.7 478.7 C210.9 479 207.9 479.3 207 479.2 C206 479.1 203 478.1 202.3 477.7 C201.5 477.3 199.8 475.4 199.4 474.9 C199.1 474.4 198.6 473.8 198.5 472.8 C198.4 471.7 202.3 465.3 198.5 464.4 C194.7 463.6 164 463.8 160.7 464.4 Z" fill="none" stroke="#fff" stroke-width="4.0" stroke-linejoin="round"/>
<path d="M160.7 464.4 C157.4 465.1 164.8 470.2 165.4 471.1 C166.1 471.9 166.7 472.2 167.3 472.8 C168 473.3 171 476 172 476.8 C173.1 477.5 176.4 479.8 177.7 480.6 C179 481.3 183.8 483.7 185.3 484.4 C186.8 485.1 191.4 487 192.8 487.6 C194.2 488.2 198.4 489.9 199.4 490 C200.5 490.2 202.5 488.8 203.2 488.7 C204 488.6 206.1 488.7 207 489.1 C207.8 489.5 210.8 492.1 211.7 492.9 C212.6 493.7 215.5 496 216.4 496.7 C217.4 497.4 220.1 499 221.1 499.5 C222.2 500.1 225.9 501.4 226.8 502 C227.8 502.6 229.9 504.4 230.6 505.2 C231.3 506 232.9 509 233.4 510 C234 510.9 235.6 514 236.3 514.7 C236.9 515.5 239.2 517.1 240 517.6 C240.9 518.1 243.8 519.4 244.8 519.8 C245.7 520.3 248.8 521.9 249.5 522.3 C250.2 522.7 251.4 524.3 251.7 524.2 C252.1 524.1 252.9 521.9 253.3 521.4 C253.6 520.8 254.3 519 254.8 518.5 C255.2 518 256.8 516.7 257.4 516.6 C258 516.5 259.9 517.2 260.4 517.6 C261 517.9 262.3 519.8 262.7 520.4 C263.1 521 264.2 522.5 264.2 523.3 C264.2 524 263.3 527.1 263.1 528 C262.9 529 262.4 531.8 262.3 532.8 C262.3 533.7 262.8 536.6 262.7 537.5 C262.5 538.3 261.3 540.5 260.8 541.3 C260.3 542 258.5 544.3 258 545.1 C257.5 545.8 255.9 548.4 255.7 548.9 C255.6 549.3 256.6 549.1 256.5 549.5 C256.4 549.8 255.1 551.5 254.8 552.1 C254.4 552.8 253.2 555.1 252.9 555.9 C252.6 556.7 251.7 559 251.7 559.7 C251.8 560.4 252.9 562.1 253.3 562.6 C253.6 563 254.9 564.1 254.8 564.4 C254.6 564.8 251.9 565.5 251.7 565.8 C251.6 566.1 253.4 567.2 253.3 567.7 C253.1 568.1 250.8 569.6 250.4 570.1 C250 570.7 249.2 572.3 249.1 573 C249 573.7 249.3 576 249.5 576.8 C249.7 577.5 250.6 579.8 251 580.6 C251.4 581.4 252.7 583.9 253.3 584.8 C253.8 585.6 255.6 588.2 256.1 589.1 C256.6 590.1 258 593.2 258.5 594.2 C259 595.3 260.7 598.5 261.2 599.6 C261.7 600.6 263.1 603.8 263.6 604.9 C264.1 605.9 265.6 609 266.1 610 C266.6 610.9 267.9 613.7 268.4 614.4 C268.8 615.1 270.1 616.4 271 617 C271.9 617.6 276 620.1 277.8 620.4 C279.6 620.8 288 631.5 289.1 620.4 C290.3 609.4 290.7 521.1 289.1 510 C287.5 498.9 274.9 509.6 273.1 509.6 C271.3 509.6 271.5 510 271.2 510.4 C270.9 510.7 270.2 512.2 269.9 512.8 C269.5 513.4 268.4 515.9 268 516.6 C267.5 517.3 266.1 519.8 265.5 519.8 C264.9 519.8 262.5 517.1 261.7 516.6 C261 516.1 258.7 514.8 258 514.7 C257.2 514.6 255 515.4 254.2 515.7 C253.3 515.9 250.3 517.3 249.5 517.2 C248.6 517.1 246.4 515.3 245.7 514.7 C245 514.1 243.3 511.8 242.9 510.9 C242.4 510.1 241.6 507.1 241.5 506.2 C241.4 505.2 241.8 502.4 241.9 501.4 C242.1 500.5 242.8 497.6 242.9 496.7 C242.9 495.8 242.7 493.2 242.3 492.5 C241.9 491.9 240 490.4 239.1 490 C238.2 489.7 234.6 489.2 233.4 489.1 C232.3 489 228.6 489.6 227.8 489.5 C226.9 489.4 224.8 488.8 224.5 488.2 C224.3 487.5 225.1 484.5 225.3 483.4 C225.5 482.4 226.3 478.8 226.4 477.7 C226.6 476.7 226.8 474.1 226.8 472.8 C226.8 471.5 227.9 465.3 226.8 464.4 C225.8 463.6 217.5 463.6 216.4 464.4 C215.4 465.3 216.6 471.6 216.4 472.8 C216.3 474 215.6 475.6 215.1 476.2 C214.6 476.8 212.5 478.4 211.7 478.7 C210.9 479 207.9 479.3 207 479.2 C206 479.1 203 478.1 202.3 477.7 C201.5 477.3 199.8 475.4 199.4 474.9 C199.1 474.4 198.6 473.8 198.5 472.8 C198.4 471.7 202.3 465.3 198.5 464.4 C194.7 463.6 164 463.8 160.7 464.4 Z" class="land"/>
<path d="M234.7 504.7 C235 504.5 235.8 504.9 236.3 505.4 C236.8 505.9 237.6 507.1 237.8 507.7 C238 508.3 237.7 508.8 237.4 508.8 C237.1 508.9 236.3 508.5 235.9 508.1 C235.4 507.6 234.9 506.7 234.7 506.2 C234.6 505.6 234.5 504.8 234.7 504.7 Z" fill="#fff" stroke="none"/>
<path d="M259.5 479.2 C259.7 478.9 260.4 478.2 261.2 478.1 C262 478 263.4 478.2 264.2 478.5 C265 478.8 266 479.5 266.1 480 C266.2 480.4 265.7 480.9 265 481.1 C264.3 481.3 262.8 481.3 261.9 481.1 C261.1 481 260.5 480.7 260 480.4 C259.6 480.1 259.3 479.6 259.5 479.2 Z" fill="#fff" stroke="#000" stroke-width="1.1"/>
<path d="M214.7 552.5 C214.9 552.1 215.8 552.8 216.2 553.6 C216.7 554.5 217.4 556.6 217.4 557.4 C217.3 558.2 216.2 558.8 215.9 558.6 C215.5 558.3 215.3 556.9 215.1 555.9 C214.9 554.9 214.5 552.9 214.7 552.5 Z" fill="#222" stroke="none"/>
<rect x="20" y="624" width="1.6" height="1.4" fill="#111" transform="rotate(35 20.8 624.7)"/>
<path d="M200.6 474.2 C200.7 473.8 201.7 473.4 202.4 473.5 C203.1 473.6 204.3 474.5 204.6 474.9 C204.8 475.4 204.3 476.2 203.9 476.4 C203.4 476.6 202.2 476.4 201.7 476 C201.1 475.7 200.4 474.6 200.6 474.2 Z" fill="#ffe878"/>
<path d="M210.6 473.8 C210.9 473.5 212 473.1 212.6 473.1 C213.3 473.2 214.3 473.8 214.4 474.2 C214.6 474.6 213.9 475.5 213.3 475.7 C212.8 475.9 211.6 475.6 211.2 475.3 C210.7 475 210.4 474.2 210.6 473.8 Z" fill="#ffe878"/>
<path d="M245.3 488.5 C245.4 487.4 246.1 487.1 246.6 487.7 C247.1 488.3 248 490.5 248.4 492.1 C248.8 493.7 249.3 496.2 249.1 497.2 C249 498.3 248.2 498.9 247.7 498.3 C247.2 497.8 246.6 495.6 246.2 493.9 C245.8 492.3 245.2 489.5 245.3 488.5 Z" fill="#ffc03c"/>
<path d="M226.1 479.3 C226.3 478 227.1 477.9 227.4 479 C227.7 480.1 228.1 484.6 228 485.9 C227.8 487.2 227 487.7 226.7 486.6 C226.4 485.5 226 480.6 226.1 479.3 Z" fill="#ffe878"/>
<path d="M235.3 515.1 C235.4 514.5 236.1 514 236.7 514.4 C237.3 514.8 238.5 516.6 238.9 517.7 C239.3 518.8 239.5 520.4 239.3 521 C239 521.5 238 521.4 237.5 521 C236.9 520.5 236.4 519 236 518 C235.6 517.1 235.1 515.7 235.3 515.1 Z" fill="#ffa000"/>
<path d="M248 514 C248.7 513.6 251.1 513.2 252.6 513.3 C254.1 513.4 256.5 514.1 257.2 514.7 C257.9 515.4 257.6 516.7 256.8 516.9 C256.1 517.2 254 516.4 252.6 516.2 C251.3 516 249.5 516.2 248.8 515.8 C248 515.5 247.4 514.4 248 514 Z" fill="#ffa000"/>
<path d="M252.6 523.5 C253 522.9 255.3 522.5 256.3 522.8 C257.2 523 258.1 524.2 258.3 525 C258.4 525.7 257.9 526.9 257.2 527.2 C256.4 527.4 254.7 527 253.9 526.4 C253.1 525.8 252.2 524.1 252.6 523.5 Z" fill="#ffe878"/>
<path d="M264.5 474.2 C264.8 473.8 266.3 473.4 267.2 473.5 C268.1 473.5 269.7 474.1 270 474.6 C270.2 475 269.6 475.8 268.9 476 C268.1 476.3 266.3 476.3 265.6 476 C264.8 475.7 264.2 474.6 264.5 474.2 Z" fill="#ffe878"/>
<path d="M242.2 502.7 C242.2 501.9 242.9 501.5 243.3 502 C243.7 502.4 244.4 504.6 244.4 505.4 C244.4 506.2 243.7 507.2 243.3 506.7 C242.9 506.3 242.2 503.5 242.2 502.7 Z" fill="#ffc03c"/>
</g>
<rect x="18.4" y="472.8" width="252.7" height="161.2" fill="none" stroke="#111" stroke-width="0.8"/>
<text transform="translate(15 474.9) scale(0.8 1)" class="tk" text-anchor="end">20N</text>
<line x1="16.9" y1="472.8" x2="18.4" y2="472.8" stroke="#111" stroke-width="0.6"/>
<text transform="translate(15 495.1) scale(0.8 1)" class="tk" text-anchor="end">15N</text>
<line x1="16.9" y1="492.9" x2="18.4" y2="492.9" stroke="#111" stroke-width="0.6"/>
<text transform="translate(15 515.2) scale(0.8 1)" class="tk" text-anchor="end">10N</text>
<line x1="16.9" y1="513.1" x2="18.4" y2="513.1" stroke="#111" stroke-width="0.6"/>
<text transform="translate(15 535.4) scale(0.8 1)" class="tk" text-anchor="end">5N</text>
<line x1="16.9" y1="533.2" x2="18.4" y2="533.2" stroke="#111" stroke-width="0.6"/>
<text transform="translate(15 555.5) scale(0.8 1)" class="tk" text-anchor="end">EQ</text>
<line x1="16.9" y1="553.4" x2="18.4" y2="553.4" stroke="#111" stroke-width="0.6"/>
<text transform="translate(15 575.6) scale(0.8 1)" class="tk" text-anchor="end">5S</text>
<line x1="16.9" y1="573.5" x2="18.4" y2="573.5" stroke="#111" stroke-width="0.6"/>
<text transform="translate(15 595.8) scale(0.8 1)" class="tk" text-anchor="end">10S</text>
<line x1="16.9" y1="593.7" x2="18.4" y2="593.7" stroke="#111" stroke-width="0.6"/>
<text transform="translate(15 616) scale(0.8 1)" class="tk" text-anchor="end">15S</text>
<line x1="16.9" y1="613.9" x2="18.4" y2="613.9" stroke="#111" stroke-width="0.6"/>
<text transform="translate(15 636.1) scale(0.8 1)" class="tk" text-anchor="end">20S</text>
<line x1="16.9" y1="634" x2="18.4" y2="634" stroke="#111" stroke-width="0.6"/>
<text transform="translate(19.2 641.3) scale(0.8 1)" class="tk" text-anchor="middle">150W</text>
<line x1="18.4" y1="634" x2="18.4" y2="635.5" stroke="#111" stroke-width="0.6"/>
<text transform="translate(52.1 641.3) scale(0.8 1)" class="tk" text-anchor="middle">140W</text>
<line x1="52.1" y1="634" x2="52.1" y2="635.5" stroke="#111" stroke-width="0.6"/>
<text transform="translate(85.8 641.3) scale(0.8 1)" class="tk" text-anchor="middle">130W</text>
<line x1="85.8" y1="634" x2="85.8" y2="635.5" stroke="#111" stroke-width="0.6"/>
<text transform="translate(119.5 641.3) scale(0.8 1)" class="tk" text-anchor="middle">120W</text>
<line x1="119.5" y1="634" x2="119.5" y2="635.5" stroke="#111" stroke-width="0.6"/>
<text transform="translate(153.2 641.3) scale(0.8 1)" class="tk" text-anchor="middle">110W</text>
<line x1="153.2" y1="634" x2="153.2" y2="635.5" stroke="#111" stroke-width="0.6"/>
<text transform="translate(186.9 641.3) scale(0.8 1)" class="tk" text-anchor="middle">100W</text>
<line x1="186.9" y1="634" x2="186.9" y2="635.5" stroke="#111" stroke-width="0.6"/>
<text transform="translate(220.6 641.3) scale(0.8 1)" class="tk" text-anchor="middle">90W</text>
<line x1="220.6" y1="634" x2="220.6" y2="635.5" stroke="#111" stroke-width="0.6"/>
<text transform="translate(254.3 641.3) scale(0.8 1)" class="tk" text-anchor="middle">80W</text>
<line x1="254.3" y1="634" x2="254.3" y2="635.5" stroke="#111" stroke-width="0.6"/>
<text x="26.0" y="488.7" class="lag">LAG 32</text>
<text x="-0.3" y="452.8" class="pl">E</text>
<clipPath id="cbE"><rect x="20.7" y="645.9" width="247.9" height="4.6" rx="2.6" ry="2.3"/></clipPath>
<g clip-path="url(#cbE)">
<rect x="20.7" y="645.9" width="33.8" height="4.6" fill="#96d2fa"/>
<rect x="54.5" y="645.9" width="35.8" height="4.6" fill="#b4f0fa"/>
<rect x="90.3" y="645.9" width="35.8" height="4.6" fill="#ffffff"/>
<rect x="126.1" y="645.9" width="36.6" height="4.6" fill="#ffe878"/>
<rect x="162.7" y="645.9" width="35.8" height="4.6" fill="#ffc03c"/>
<rect x="198.5" y="645.9" width="36.1" height="4.6" fill="#ffa000"/>
<rect x="234.6" y="645.9" width="34" height="4.6" fill="#ff6000"/>
</g>
<rect x="20.7" y="645.9" width="247.9" height="4.6" rx="2.6" ry="2.3" fill="none" stroke="#222" stroke-width="0.7"/>
<line x1="54.5" y1="645.9" x2="54.5" y2="650.5" stroke="#222" stroke-width="0.6"/>
<text x="55" y="657.1" class="cl" text-anchor="middle">−0.2</text>
<line x1="90.3" y1="645.9" x2="90.3" y2="650.5" stroke="#222" stroke-width="0.6"/>
<text x="90.8" y="657.1" class="cl" text-anchor="middle">−0.1</text>
<line x1="126.1" y1="645.9" x2="126.1" y2="650.5" stroke="#222" stroke-width="0.6"/>
<text x="126.1" y="657.1" class="cl" text-anchor="middle">0.1</text>
<line x1="162.7" y1="645.9" x2="162.7" y2="650.5" stroke="#222" stroke-width="0.6"/>
<text x="162.7" y="657.1" class="cl" text-anchor="middle">0.2</text>
<line x1="198.5" y1="645.9" x2="198.5" y2="650.5" stroke="#222" stroke-width="0.6"/>
<text x="198.5" y="657.1" class="cl" text-anchor="middle">0.3</text>
<line x1="234.6" y1="645.9" x2="234.6" y2="650.5" stroke="#222" stroke-width="0.6"/>
<text x="234.6" y="657.1" class="cl" text-anchor="middle">0.4</text>
</svg>
</body></html>
